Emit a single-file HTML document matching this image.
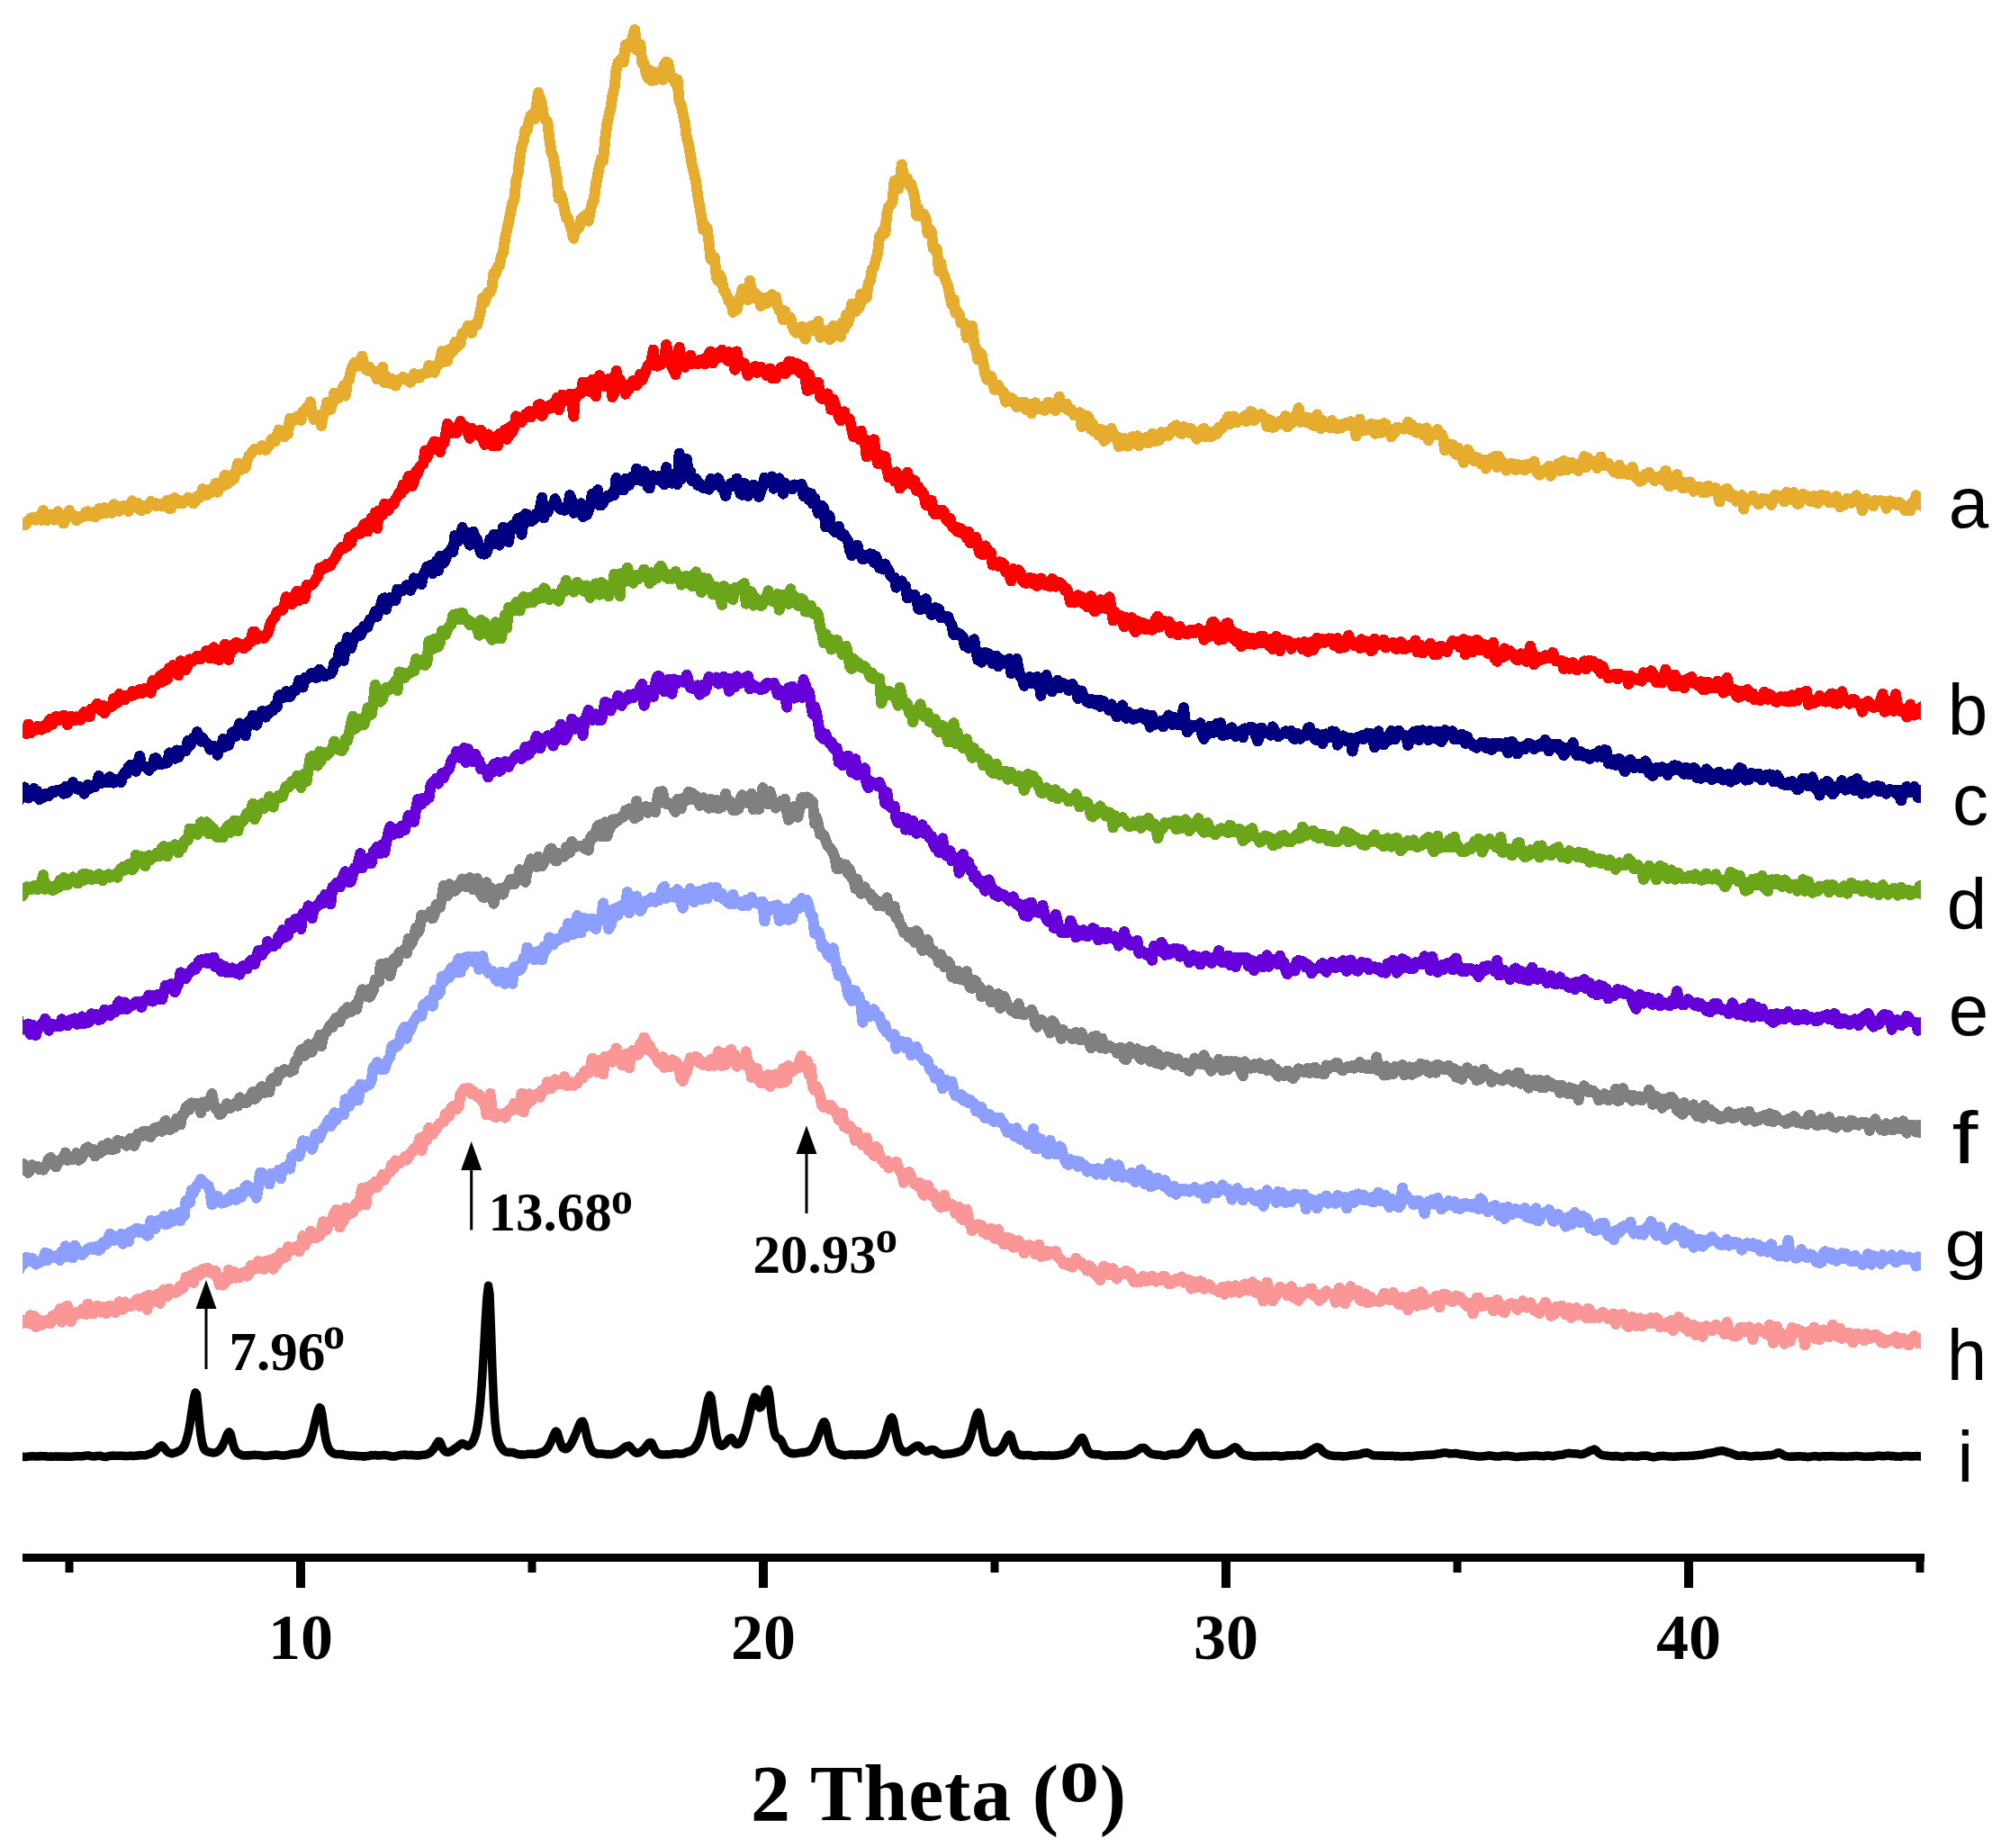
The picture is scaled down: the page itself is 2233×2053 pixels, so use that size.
<!DOCTYPE html>
<html><head><meta charset="utf-8"><title>XRD patterns</title>
<style>html,body{margin:0;padding:0;background:#fff}body{width:2233px;height:2053px;overflow:hidden}svg{display:block}</style>
</head><body>
<svg width="2233" height="2053" viewBox="0 0 2233 2053">
<rect width="2233" height="2053" fill="#fff"/>
<defs><clipPath id="plotclip"><rect x="25" y="0" width="2109" height="1700"/></clipPath></defs>
<g clip-path="url(#plotclip)">
<path d="M13.0,577.8 L15.1,575.7 L17.1,577.6 L19.2,581.1 L21.2,579.8 L23.3,580.5 L25.4,583.1 L27.4,583.4 L29.5,581.8 L31.5,578.0 L33.6,575.9 L35.7,575.2 L37.7,576.6 L39.8,577.8 L41.8,574.5 L43.9,572.9 L46.0,577.8 L48.0,567.0 L50.1,575.0 L52.1,578.2 L54.2,573.3 L56.3,571.5 L58.3,572.4 L60.4,577.6 L62.4,575.6 L64.5,568.4 L66.6,572.1 L68.6,578.2 L70.7,581.5 L72.7,577.3 L74.8,573.7 L76.9,567.0 L78.9,572.8 L81.0,572.8 L83.0,573.2 L85.1,578.5 L87.2,574.5 L89.2,573.5 L91.3,574.6 L93.3,571.4 L95.4,569.0 L97.5,568.2 L99.5,573.4 L101.6,573.4 L103.6,569.3 L105.7,574.3 L107.8,571.7 L109.8,565.2 L111.9,570.9 L113.9,569.4 L116.0,564.2 L118.1,569.8 L120.1,567.8 L122.2,566.7 L124.2,570.0 L126.3,560.3 L128.4,561.2 L130.4,564.8 L132.5,567.7 L134.5,564.5 L136.6,562.3 L138.7,561.6 L140.7,564.8 L142.8,568.1 L144.8,560.7 L146.9,556.4 L149.0,562.3 L151.0,563.1 L153.1,558.6 L155.1,565.8 L157.2,567.4 L159.3,562.2 L161.3,561.7 L163.4,565.0 L165.4,561.7 L167.5,557.1 L169.6,561.0 L171.6,558.6 L173.7,562.2 L175.7,559.8 L177.8,560.0 L179.9,562.6 L181.9,560.4 L184.0,557.7 L186.0,555.5 L188.1,565.0 L190.2,564.5 L192.2,553.9 L194.3,553.1 L196.3,559.1 L198.4,555.6 L200.5,556.5 L202.5,559.5 L204.6,557.0 L206.6,554.9 L208.7,552.8 L210.8,553.4 L212.8,554.8 L214.9,559.5 L216.9,557.3 L219.0,551.3 L221.1,553.6 L223.1,550.7 L225.2,543.1 L227.2,546.1 L229.3,550.5 L231.4,544.3 L233.4,547.9 L235.5,543.3 L237.5,542.4 L239.6,536.7 L241.7,546.9 L243.7,541.9 L245.8,541.3 L247.8,534.5 L249.9,527.7 L252.0,537.8 L254.0,528.7 L256.1,534.7 L258.1,527.8 L260.2,531.7 L262.3,522.2 L264.3,514.5 L266.4,522.6 L268.4,519.2 L270.5,517.2 L272.6,519.9 L274.6,511.3 L276.7,506.4 L278.7,504.9 L280.8,501.2 L282.9,498.5 L284.9,498.9 L287.0,498.9 L289.0,499.5 L291.1,495.1 L293.2,497.2 L295.2,500.0 L297.3,494.9 L299.3,494.9 L301.4,488.1 L303.5,490.2 L305.5,490.3 L307.6,484.0 L309.6,477.5 L311.7,480.6 L313.8,480.8 L315.8,485.3 L317.9,476.9 L319.9,482.1 L322.0,464.8 L324.1,468.1 L326.1,467.2 L328.2,465.3 L330.2,462.5 L332.3,462.1 L334.4,467.1 L336.4,457.0 L338.5,458.0 L340.5,452.7 L342.6,454.0 L344.7,446.4 L346.7,458.4 L348.8,466.2 L350.8,461.3 L352.9,462.3 L355.0,461.2 L357.0,472.8 L359.1,460.7 L361.1,457.4 L363.2,447.1 L365.3,448.3 L367.3,455.0 L369.4,447.7 L371.4,436.6 L373.5,442.5 L375.6,442.6 L377.6,439.6 L379.7,436.3 L381.7,428.4 L383.8,439.6 L385.9,424.2 L387.9,421.9 L390.0,411.3 L392.0,406.0 L394.1,402.5 L396.2,407.3 L398.2,404.6 L400.3,400.7 L402.3,395.6 L404.4,406.7 L406.5,410.8 L408.5,411.6 L410.6,407.9 L412.6,411.3 L414.7,413.8 L416.8,412.9 L418.8,421.2 L420.9,412.0 L422.9,413.5 L425.0,407.9 L427.1,424.9 L429.1,417.6 L431.2,421.7 L433.2,425.9 L435.3,420.7 L437.4,423.2 L439.4,428.5 L441.5,424.1 L443.5,422.0 L445.6,421.3 L447.7,418.9 L449.7,420.3 L451.8,422.5 L453.8,422.6 L455.9,424.8 L458.0,419.7 L460.0,415.2 L462.1,420.0 L464.1,418.1 L466.2,419.7 L468.3,415.7 L470.3,415.5 L472.4,414.1 L474.4,414.5 L476.5,405.8 L478.6,406.9 L480.6,407.8 L482.7,413.9 L484.7,405.7 L486.8,405.0 L488.9,401.0 L490.9,390.0 L493.0,402.1 L495.0,401.0 L497.1,401.5 L499.2,388.0 L501.2,391.4 L503.3,390.6 L505.3,380.1 L507.4,385.9 L509.5,380.5 L511.5,382.3 L513.6,370.5 L515.6,369.4 L517.7,368.3 L519.8,361.7 L521.8,365.5 L523.9,370.1 L525.9,361.6 L528.0,359.9 L530.1,361.0 L532.1,353.5 L534.2,343.9 L536.2,331.0 L538.3,336.4 L540.4,330.7 L542.4,324.4 L544.5,325.1 L546.5,320.0 L548.6,303.1 L550.7,304.0 L552.7,296.6 L554.8,295.3 L556.8,284.8 L558.9,281.1 L561.0,265.5 L563.0,256.4 L565.1,246.2 L567.1,237.1 L569.2,225.6 L571.3,222.1 L573.3,200.6 L575.4,193.2 L577.4,176.3 L579.5,162.5 L581.6,157.2 L583.6,144.3 L585.7,145.0 L587.7,134.2 L589.8,127.7 L591.9,128.7 L593.9,132.4 L596.0,117.1 L598.0,102.9 L600.1,109.5 L602.2,116.7 L604.2,130.7 L606.3,133.5 L608.3,135.5 L610.4,154.8 L612.5,169.2 L614.5,173.6 L616.6,185.9 L618.6,197.3 L620.7,220.7 L622.8,215.7 L624.8,222.1 L626.9,231.3 L628.9,241.7 L631.0,242.0 L633.1,249.5 L635.1,256.0 L637.2,264.7 L639.2,256.3 L641.3,254.4 L643.4,253.1 L645.4,243.9 L647.5,241.0 L649.5,242.3 L651.6,238.3 L653.7,245.6 L655.7,235.5 L657.8,225.6 L659.8,222.9 L661.9,204.9 L664.0,194.8 L666.0,184.1 L668.1,176.2 L670.1,178.7 L672.2,155.4 L674.3,138.1 L676.3,128.4 L678.4,120.4 L680.4,106.5 L682.5,97.8 L684.6,77.4 L686.6,69.6 L688.7,67.7 L690.7,65.1 L692.8,69.0 L694.9,49.9 L696.9,54.5 L699.0,47.9 L701.0,49.1 L703.1,40.1 L705.2,33.1 L707.2,55.1 L709.3,56.5 L711.3,49.3 L713.4,69.9 L715.5,70.2 L717.5,80.8 L719.6,86.5 L721.6,77.9 L723.7,89.6 L725.8,80.1 L727.8,89.0 L729.9,83.1 L731.9,81.0 L734.0,78.8 L736.1,88.6 L738.1,71.6 L740.2,68.8 L742.2,69.7 L744.3,81.9 L746.4,87.1 L748.4,86.4 L750.5,93.0 L752.5,88.5 L754.6,113.0 L756.7,116.1 L758.7,126.8 L760.8,136.2 L762.8,152.6 L764.9,159.8 L767.0,172.3 L769.0,184.3 L771.1,192.2 L773.1,201.8 L775.2,218.0 L777.3,229.5 L779.3,241.3 L781.4,255.2 L783.4,250.8 L785.5,253.6 L787.6,269.4 L789.6,288.0 L791.7,290.0 L793.7,285.8 L795.8,308.1 L797.9,311.9 L799.9,305.6 L802.0,311.9 L804.0,322.5 L806.1,324.7 L808.2,329.8 L810.2,335.6 L812.3,335.0 L814.3,346.8 L816.4,336.9 L818.5,344.2 L820.5,335.5 L822.6,328.9 L824.6,321.0 L826.7,323.6 L828.8,327.9 L830.8,333.0 L832.9,311.5 L834.9,324.4 L837.0,323.6 L839.1,331.6 L841.1,327.6 L843.2,331.0 L845.2,340.1 L847.3,333.6 L849.4,331.0 L851.4,337.3 L853.5,335.9 L855.5,333.7 L857.6,327.3 L859.7,333.6 L861.7,329.8 L863.8,339.5 L865.8,345.1 L867.9,344.7 L870.0,355.5 L872.0,345.4 L874.1,353.2 L876.1,356.2 L878.2,352.7 L880.3,362.2 L882.3,367.2 L884.4,369.8 L886.4,364.5 L888.5,367.8 L890.6,362.8 L892.6,372.5 L894.7,376.6 L896.7,369.2 L898.8,368.1 L900.9,362.0 L902.9,366.2 L905.0,365.5 L907.0,368.1 L909.1,356.9 L911.2,374.8 L913.2,370.5 L915.3,373.3 L917.3,371.4 L919.4,367.0 L921.5,377.1 L923.5,375.4 L925.6,361.9 L927.6,366.4 L929.7,365.5 L931.8,361.8 L933.8,373.9 L935.9,358.1 L937.9,365.6 L940.0,349.8 L942.1,359.2 L944.1,350.5 L946.2,337.5 L948.2,345.6 L950.3,346.5 L952.4,336.7 L954.4,342.0 L956.5,326.5 L958.5,334.0 L960.6,330.0 L962.7,330.5 L964.7,314.5 L966.8,312.2 L968.8,299.0 L970.9,297.6 L973.0,288.2 L975.0,281.9 L977.1,262.7 L979.1,261.6 L981.2,255.3 L983.3,259.0 L985.3,237.2 L987.4,229.0 L989.4,228.0 L991.5,223.3 L993.6,200.8 L995.6,205.1 L997.7,210.1 L999.7,201.3 L1001.8,182.9 L1003.9,196.0 L1005.9,200.8 L1008.0,198.0 L1010.0,206.0 L1012.1,204.2 L1014.2,212.1 L1016.2,219.2 L1018.3,239.6 L1020.3,231.8 L1022.4,240.0 L1024.5,240.7 L1026.5,238.0 L1028.6,242.5 L1030.6,259.3 L1032.7,254.4 L1034.8,257.3 L1036.8,276.2 L1038.9,275.2 L1040.9,276.8 L1043.0,301.2 L1045.1,292.0 L1047.1,302.5 L1049.2,306.6 L1051.2,312.8 L1053.3,318.6 L1055.4,329.4 L1057.4,338.7 L1059.5,332.5 L1061.5,347.5 L1063.6,346.4 L1065.7,349.7 L1067.7,358.7 L1069.8,358.1 L1071.8,359.4 L1073.9,375.2 L1076.0,371.5 L1078.0,365.7 L1080.1,362.2 L1082.1,382.1 L1084.2,387.2 L1086.3,399.6 L1088.3,391.8 L1090.4,393.3 L1092.4,403.9 L1094.5,415.9 L1096.6,421.9 L1098.6,419.4 L1100.7,418.0 L1102.7,423.5 L1104.8,432.9 L1106.9,429.7 L1108.9,427.8 L1111.0,433.3 L1113.0,434.9 L1115.1,436.0 L1117.2,446.6 L1119.2,444.1 L1121.3,442.4 L1123.3,441.8 L1125.4,443.8 L1127.5,449.1 L1129.5,452.2 L1131.6,447.5 L1133.6,447.3 L1135.7,448.9 L1137.8,446.6 L1139.8,455.2 L1141.9,448.6 L1143.9,451.6 L1146.0,459.2 L1148.1,448.6 L1150.1,447.4 L1152.2,450.6 L1154.2,453.9 L1156.3,452.7 L1158.4,451.5 L1160.4,456.3 L1162.5,449.1 L1164.5,446.7 L1166.6,452.3 L1168.7,451.2 L1170.7,454.5 L1172.8,456.1 L1174.8,446.8 L1176.9,440.7 L1179.0,451.8 L1181.0,452.0 L1183.1,453.3 L1185.1,448.9 L1187.2,456.1 L1189.3,454.1 L1191.3,457.8 L1193.4,461.4 L1195.4,459.6 L1197.5,459.5 L1199.6,458.3 L1201.6,474.0 L1203.7,461.1 L1205.7,468.0 L1207.8,461.9 L1209.9,464.6 L1211.9,476.8 L1214.0,470.7 L1216.0,479.7 L1218.1,477.4 L1220.2,483.5 L1222.2,476.8 L1224.3,477.5 L1226.3,489.9 L1228.4,488.3 L1230.5,482.4 L1232.5,484.4 L1234.6,476.0 L1236.6,485.1 L1238.7,483.7 L1240.8,485.0 L1242.8,496.2 L1244.9,490.4 L1246.9,488.7 L1249.0,487.0 L1251.1,495.4 L1253.1,495.6 L1255.2,489.9 L1257.2,485.3 L1259.3,490.5 L1261.4,493.0 L1263.4,484.2 L1265.5,495.0 L1267.5,488.7 L1269.6,490.6 L1271.7,487.2 L1273.7,485.9 L1275.8,492.4 L1277.8,489.7 L1279.9,481.6 L1282.0,487.3 L1284.0,490.3 L1286.1,485.6 L1288.1,488.8 L1290.2,480.2 L1292.3,484.9 L1294.3,482.1 L1296.4,479.9 L1298.4,483.7 L1300.5,480.8 L1302.6,475.0 L1304.6,477.0 L1306.7,472.4 L1308.7,476.5 L1310.8,481.2 L1312.9,481.9 L1314.9,474.1 L1317.0,474.9 L1319.0,479.8 L1321.1,481.0 L1323.2,476.1 L1325.2,479.7 L1327.3,482.0 L1329.3,487.7 L1331.4,483.8 L1333.5,481.9 L1335.5,477.8 L1337.6,475.9 L1339.6,485.5 L1341.7,483.8 L1343.8,480.3 L1345.8,485.0 L1347.9,483.0 L1349.9,478.7 L1352.0,481.9 L1354.1,474.6 L1356.1,476.8 L1358.2,474.8 L1360.2,469.6 L1362.3,467.7 L1364.4,463.0 L1366.4,471.2 L1368.5,467.8 L1370.5,462.5 L1372.6,468.8 L1374.7,469.0 L1376.7,466.3 L1378.8,466.4 L1380.8,463.8 L1382.9,462.1 L1385.0,468.1 L1387.0,460.7 L1389.1,457.2 L1391.1,457.7 L1393.2,467.4 L1395.3,461.1 L1397.3,462.8 L1399.4,461.7 L1401.4,460.1 L1403.5,463.6 L1405.6,464.7 L1407.6,473.9 L1409.7,466.0 L1411.7,466.7 L1413.8,475.0 L1415.9,474.2 L1417.9,470.4 L1420.0,471.1 L1422.0,467.6 L1424.1,470.6 L1426.2,469.2 L1428.2,462.1 L1430.3,474.4 L1432.3,469.4 L1434.4,470.5 L1436.5,466.6 L1438.5,462.8 L1440.6,460.0 L1442.6,453.1 L1444.7,468.8 L1446.8,462.4 L1448.8,465.8 L1450.9,469.4 L1452.9,463.8 L1455.0,466.8 L1457.1,471.8 L1459.1,470.2 L1461.2,473.4 L1463.2,460.5 L1465.3,471.8 L1467.4,476.1 L1469.4,467.1 L1471.5,474.4 L1473.5,471.5 L1475.6,471.3 L1477.7,475.1 L1479.7,467.2 L1481.8,475.5 L1483.8,471.1 L1485.9,476.4 L1488.0,474.2 L1490.0,475.2 L1492.1,470.9 L1494.1,473.5 L1496.2,469.5 L1498.3,470.7 L1500.3,468.2 L1502.4,473.4 L1504.4,470.9 L1506.5,484.4 L1508.6,473.8 L1510.6,465.6 L1512.7,478.6 L1514.7,475.4 L1516.8,477.9 L1518.9,476.9 L1520.9,473.1 L1523.0,471.1 L1525.0,471.4 L1527.1,481.7 L1529.2,480.8 L1531.2,471.7 L1533.3,481.4 L1535.3,480.1 L1537.4,470.3 L1539.5,471.7 L1541.5,477.5 L1543.6,478.0 L1545.6,485.4 L1547.7,478.1 L1549.8,480.3 L1551.8,474.9 L1553.9,475.1 L1555.9,475.9 L1558.0,475.6 L1560.1,476.6 L1562.1,476.3 L1564.2,468.8 L1566.2,477.2 L1568.3,471.5 L1570.4,478.5 L1572.4,479.9 L1574.5,480.6 L1576.5,476.0 L1578.6,479.5 L1580.7,483.1 L1582.7,479.3 L1584.8,475.4 L1586.8,489.3 L1588.9,485.2 L1591.0,483.6 L1593.0,482.5 L1595.1,482.2 L1597.1,477.0 L1599.2,483.5 L1601.3,482.4 L1603.3,487.6 L1605.4,500.5 L1607.4,495.3 L1609.5,493.3 L1611.6,496.0 L1613.6,493.8 L1615.7,502.6 L1617.7,505.0 L1619.8,497.6 L1621.9,504.0 L1623.9,505.4 L1626.0,513.9 L1628.0,510.6 L1630.1,499.3 L1632.2,501.8 L1634.2,508.4 L1636.3,509.2 L1638.3,512.5 L1640.4,508.1 L1642.5,509.2 L1644.5,515.1 L1646.6,513.3 L1648.6,510.6 L1650.7,520.6 L1652.8,513.2 L1654.8,513.1 L1656.9,509.3 L1658.9,513.6 L1661.0,507.0 L1663.1,519.0 L1665.1,507.1 L1667.2,516.7 L1669.2,512.8 L1671.3,516.6 L1673.4,522.6 L1675.4,517.8 L1677.5,518.8 L1679.5,514.9 L1681.6,515.5 L1683.7,522.2 L1685.7,515.9 L1687.8,521.0 L1689.8,519.9 L1691.9,517.2 L1694.0,522.5 L1696.0,516.3 L1698.1,520.2 L1700.1,515.0 L1702.2,518.4 L1704.3,512.5 L1706.3,521.4 L1708.4,526.0 L1710.4,527.5 L1712.5,525.5 L1714.6,524.2 L1716.6,521.1 L1718.7,520.4 L1720.7,517.7 L1722.8,528.7 L1724.9,522.0 L1726.9,519.2 L1729.0,519.6 L1731.0,515.2 L1733.1,523.5 L1735.2,516.5 L1737.2,512.0 L1739.3,522.1 L1741.3,521.7 L1743.4,518.8 L1745.5,513.6 L1747.5,520.4 L1749.6,516.3 L1751.6,516.3 L1753.7,523.1 L1755.8,517.3 L1757.8,514.2 L1759.9,507.2 L1761.9,519.3 L1764.0,508.8 L1766.1,512.2 L1768.1,513.2 L1770.2,512.9 L1772.2,516.1 L1774.3,520.0 L1776.4,517.9 L1778.4,507.6 L1780.5,516.9 L1782.5,514.8 L1784.6,517.2 L1786.7,514.6 L1788.7,518.8 L1790.8,519.4 L1792.8,523.9 L1794.9,523.7 L1797.0,525.8 L1799.0,516.9 L1801.1,526.5 L1803.1,521.7 L1805.2,524.2 L1807.3,526.3 L1809.3,527.2 L1811.4,524.1 L1813.4,518.7 L1815.5,526.9 L1817.6,530.9 L1819.6,531.4 L1821.7,534.7 L1823.7,533.9 L1825.8,532.0 L1827.9,526.7 L1829.9,530.5 L1832.0,524.7 L1834.0,527.7 L1836.1,529.7 L1838.2,534.2 L1840.2,529.6 L1842.3,529.6 L1844.3,529.0 L1846.4,533.2 L1848.5,526.0 L1850.5,522.7 L1852.6,538.2 L1854.6,540.4 L1856.7,538.6 L1858.8,537.8 L1860.8,534.6 L1862.9,527.1 L1864.9,538.6 L1867.0,534.9 L1869.1,542.3 L1871.1,542.0 L1873.2,535.8 L1875.2,541.4 L1877.3,535.5 L1879.4,538.3 L1881.4,545.9 L1883.5,541.2 L1885.5,541.8 L1887.6,541.0 L1889.7,541.4 L1891.7,547.5 L1893.8,547.0 L1895.8,547.0 L1897.9,539.5 L1900.0,543.0 L1902.0,542.4 L1904.1,545.6 L1906.1,542.2 L1908.2,549.1 L1910.3,557.5 L1912.3,549.6 L1914.4,545.3 L1916.4,550.3 L1918.5,542.8 L1920.6,545.6 L1922.6,552.4 L1924.7,549.5 L1926.7,550.5 L1928.8,556.7 L1930.9,554.2 L1932.9,555.2 L1935.0,550.3 L1937.0,565.6 L1939.1,554.8 L1941.2,556.3 L1943.2,555.8 L1945.3,555.1 L1947.3,550.6 L1949.4,553.3 L1951.5,555.4 L1953.5,560.4 L1955.6,556.8 L1957.6,553.6 L1959.7,555.4 L1961.8,555.7 L1963.8,554.5 L1965.9,555.6 L1967.9,560.8 L1970.0,555.7 L1972.1,549.6 L1974.1,551.2 L1976.2,552.6 L1978.2,551.0 L1980.3,553.9 L1982.4,557.4 L1984.4,547.1 L1986.5,547.9 L1988.5,550.9 L1990.6,555.4 L1992.7,547.2 L1994.7,555.7 L1996.8,559.8 L1998.8,559.0 L2000.9,555.2 L2003.0,548.8 L2005.0,550.6 L2007.1,550.7 L2009.1,553.5 L2011.2,557.1 L2013.3,556.6 L2015.3,551.0 L2017.4,556.8 L2019.4,559.1 L2021.5,551.5 L2023.6,549.9 L2025.6,551.8 L2027.7,555.3 L2029.7,551.1 L2031.8,558.2 L2033.9,556.3 L2035.9,558.0 L2038.0,553.5 L2040.0,551.4 L2042.1,556.1 L2044.2,563.4 L2046.2,560.1 L2048.3,561.4 L2050.3,555.4 L2052.4,553.6 L2054.5,555.8 L2056.5,558.7 L2058.6,557.3 L2060.6,552.5 L2062.7,550.3 L2064.8,557.0 L2066.8,557.0 L2068.9,567.5 L2070.9,557.8 L2073.0,554.0 L2075.1,560.1 L2077.1,557.8 L2079.2,558.5 L2081.2,562.5 L2083.3,556.0 L2085.4,556.6 L2087.4,556.5 L2089.5,556.4 L2091.5,556.6 L2093.6,558.2 L2095.7,564.7 L2097.7,560.5 L2099.8,556.4 L2101.8,559.1 L2103.9,558.0 L2106.0,560.6 L2108.0,560.8 L2110.1,558.2 L2112.1,559.6 L2114.2,563.4 L2116.3,566.9 L2118.3,562.5 L2120.4,566.9 L2122.4,567.0 L2124.5,558.2 L2126.6,559.5 L2128.6,550.3 L2130.7,552.2 L2132.7,561.0 L2134.8,559.5 L2136.9,562.6 L2138.9,561.9 L2141.0,564.3 L2143.0,561.9 L2145.1,564.9" fill="none" stroke="#E6AC2E" stroke-width="12" stroke-linejoin="round" stroke-linecap="butt" shape-rendering="crispEdges"/>
<path d="M13.0,814.1 L15.1,819.2 L17.1,819.2 L19.2,812.5 L21.2,811.5 L23.3,809.1 L25.4,813.6 L27.4,811.7 L29.5,815.3 L31.5,804.6 L33.6,814.4 L35.7,811.1 L37.7,811.6 L39.8,808.8 L41.8,806.9 L43.9,809.2 L46.0,810.7 L48.0,806.8 L50.1,805.7 L52.1,808.2 L54.2,801.2 L56.3,798.7 L58.3,804.6 L60.4,800.4 L62.4,795.8 L64.5,798.3 L66.6,799.8 L68.6,796.9 L70.7,794.7 L72.7,799.4 L74.8,805.1 L76.9,799.1 L78.9,795.8 L81.0,799.0 L83.0,800.4 L85.1,796.4 L87.2,798.1 L89.2,799.9 L91.3,795.0 L93.3,791.2 L95.4,794.3 L97.5,794.1 L99.5,796.4 L101.6,787.5 L103.6,787.2 L105.7,786.1 L107.8,781.8 L109.8,787.1 L111.9,789.1 L113.9,783.7 L116.0,792.4 L118.1,788.3 L120.1,786.1 L122.2,784.1 L124.2,785.0 L126.3,775.8 L128.4,780.4 L130.4,780.9 L132.5,771.0 L134.5,776.2 L136.6,774.7 L138.7,777.3 L140.7,772.6 L142.8,772.4 L144.8,773.3 L146.9,768.1 L149.0,771.9 L151.0,769.5 L153.1,770.4 L155.1,766.1 L157.2,770.5 L159.3,769.1 L161.3,764.7 L163.4,766.2 L165.4,768.2 L167.5,769.8 L169.6,755.9 L171.6,761.5 L173.7,760.5 L175.7,756.5 L177.8,751.0 L179.9,757.7 L181.9,748.1 L184.0,751.7 L186.0,754.6 L188.1,742.2 L190.2,743.4 L192.2,739.1 L194.3,743.1 L196.3,748.3 L198.4,750.3 L200.5,734.3 L202.5,734.9 L204.6,740.2 L206.6,743.9 L208.7,739.1 L210.8,732.4 L212.8,734.9 L214.9,733.7 L216.9,731.8 L219.0,728.7 L221.1,732.1 L223.1,732.0 L225.2,729.6 L227.2,727.4 L229.3,722.8 L231.4,724.4 L233.4,731.4 L235.5,726.5 L237.5,719.4 L239.6,731.8 L241.7,727.8 L243.7,733.1 L245.8,725.4 L247.8,720.9 L249.9,715.8 L252.0,725.9 L254.0,733.0 L256.1,719.4 L258.1,716.5 L260.2,721.3 L262.3,714.0 L264.3,716.1 L266.4,715.5 L268.4,716.9 L270.5,720.4 L272.6,715.8 L274.6,717.7 L276.7,711.9 L278.7,712.9 L280.8,702.0 L282.9,701.6 L284.9,710.5 L287.0,705.4 L289.0,707.8 L291.1,707.2 L293.2,709.0 L295.2,705.8 L297.3,704.1 L299.3,697.0 L301.4,690.8 L303.5,687.3 L305.5,685.4 L307.6,679.8 L309.6,678.8 L311.7,678.5 L313.8,677.8 L315.8,673.0 L317.9,663.1 L319.9,667.8 L322.0,668.9 L324.1,671.1 L326.1,667.8 L328.2,659.9 L330.2,656.6 L332.3,667.2 L334.4,662.4 L336.4,664.3 L338.5,665.0 L340.5,650.0 L342.6,650.9 L344.7,650.5 L346.7,649.2 L348.8,647.3 L350.8,643.6 L352.9,641.1 L355.0,631.0 L357.0,633.4 L359.1,629.7 L361.1,630.9 L363.2,626.6 L365.3,628.8 L367.3,628.5 L369.4,623.9 L371.4,621.1 L373.5,617.8 L375.6,612.7 L377.6,611.3 L379.7,607.8 L381.7,609.6 L383.8,606.7 L385.9,607.1 L387.9,596.5 L390.0,603.5 L392.0,595.9 L394.1,592.6 L396.2,593.5 L398.2,590.6 L400.3,592.7 L402.3,587.6 L404.4,582.5 L406.5,581.3 L408.5,590.5 L410.6,584.6 L412.6,575.4 L414.7,578.0 L416.8,569.4 L418.8,586.9 L420.9,567.3 L422.9,571.7 L425.0,572.0 L427.1,559.7 L429.1,564.2 L431.2,567.3 L433.2,563.0 L435.3,559.0 L437.4,559.9 L439.4,554.2 L441.5,551.9 L443.5,547.3 L445.6,548.3 L447.7,538.5 L449.7,543.4 L451.8,536.1 L453.8,529.2 L455.9,533.7 L458.0,539.8 L460.0,534.9 L462.1,523.8 L464.1,526.0 L466.2,518.7 L468.3,516.6 L470.3,515.5 L472.4,500.4 L474.4,508.6 L476.5,502.3 L478.6,500.3 L480.6,494.0 L482.7,490.5 L484.7,491.0 L486.8,498.6 L488.9,502.3 L490.9,491.1 L493.0,492.5 L495.0,483.8 L497.1,470.8 L499.2,478.4 L501.2,481.2 L503.3,476.1 L505.3,478.8 L507.4,480.9 L509.5,473.0 L511.5,467.7 L513.6,473.7 L515.6,475.0 L517.7,474.1 L519.8,481.2 L521.8,486.8 L523.9,475.7 L525.9,479.4 L528.0,482.1 L530.1,481.6 L532.1,484.1 L534.2,477.8 L536.2,486.1 L538.3,493.8 L540.4,490.2 L542.4,482.5 L544.5,488.9 L546.5,494.9 L548.6,491.3 L550.7,485.3 L552.7,495.5 L554.8,482.0 L556.8,487.5 L558.9,485.7 L561.0,477.4 L563.0,488.0 L565.1,484.6 L567.1,473.9 L569.2,480.2 L571.3,474.3 L573.3,462.4 L575.4,464.6 L577.4,468.4 L579.5,468.9 L581.6,465.1 L583.6,460.8 L585.7,461.4 L587.7,457.1 L589.8,463.3 L591.9,458.6 L593.9,457.6 L596.0,458.7 L598.0,449.6 L600.1,449.3 L602.2,462.0 L604.2,457.5 L606.3,452.3 L608.3,454.7 L610.4,450.4 L612.5,453.3 L614.5,448.3 L616.6,451.9 L618.6,441.9 L620.7,455.3 L622.8,447.6 L624.8,438.5 L626.9,443.9 L628.9,443.7 L631.0,445.5 L633.1,437.6 L635.1,443.7 L637.2,462.7 L639.2,437.4 L641.3,439.5 L643.4,436.3 L645.4,437.0 L647.5,424.7 L649.5,424.6 L651.6,432.7 L653.7,429.4 L655.7,435.5 L657.8,421.9 L659.8,423.2 L661.9,440.1 L664.0,422.3 L666.0,417.2 L668.1,422.3 L670.1,423.6 L672.2,429.1 L674.3,426.4 L676.3,420.8 L678.4,425.6 L680.4,441.2 L682.5,436.6 L684.6,411.9 L686.6,422.4 L688.7,421.6 L690.7,429.5 L692.8,426.8 L694.9,437.8 L696.9,434.1 L699.0,431.8 L701.0,426.6 L703.1,423.2 L705.2,423.7 L707.2,428.2 L709.3,423.3 L711.3,415.7 L713.4,422.5 L715.5,416.7 L717.5,412.4 L719.6,406.4 L721.6,405.2 L723.7,400.5 L725.8,388.5 L727.8,406.3 L729.9,406.6 L731.9,399.8 L734.0,404.9 L736.1,401.8 L738.1,399.9 L740.2,382.9 L742.2,392.7 L744.3,400.3 L746.4,408.0 L748.4,411.2 L750.5,416.1 L752.5,394.6 L754.6,386.0 L756.7,401.7 L758.7,402.5 L760.8,407.9 L762.8,403.1 L764.9,404.0 L767.0,394.5 L769.0,404.1 L771.1,400.4 L773.1,403.4 L775.2,404.3 L777.3,400.2 L779.3,401.0 L781.4,398.8 L783.4,404.4 L785.5,400.2 L787.6,392.7 L789.6,390.4 L791.7,403.4 L793.7,394.9 L795.8,398.8 L797.9,396.6 L799.9,390.5 L802.0,388.8 L804.0,394.4 L806.1,397.3 L808.2,400.7 L810.2,391.2 L812.3,394.0 L814.3,399.0 L816.4,410.7 L818.5,390.5 L820.5,402.9 L822.6,401.4 L824.6,406.8 L826.7,403.5 L828.8,408.3 L830.8,417.2 L832.9,412.5 L834.9,412.4 L837.0,412.9 L839.1,407.0 L841.1,413.8 L843.2,411.6 L845.2,407.6 L847.3,411.6 L849.4,411.6 L851.4,417.1 L853.5,413.5 L855.5,409.5 L857.6,420.3 L859.7,419.7 L861.7,420.4 L863.8,416.6 L865.8,411.2 L867.9,408.2 L870.0,408.4 L872.0,415.5 L874.1,413.0 L876.1,401.5 L878.2,408.0 L880.3,402.1 L882.3,410.3 L884.4,405.1 L886.4,404.2 L888.5,413.4 L890.6,415.4 L892.6,407.5 L894.7,421.1 L896.7,433.9 L898.8,416.1 L900.9,432.4 L902.9,423.9 L905.0,424.3 L907.0,428.9 L909.1,424.7 L911.2,441.7 L913.2,443.2 L915.3,437.8 L917.3,441.6 L919.4,437.4 L921.5,444.7 L923.5,455.2 L925.6,443.5 L927.6,449.2 L929.7,455.6 L931.8,462.9 L933.8,467.3 L935.9,459.2 L937.9,457.3 L940.0,465.5 L942.1,464.5 L944.1,466.2 L946.2,476.9 L948.2,485.1 L950.3,481.4 L952.4,480.8 L954.4,488.0 L956.5,478.7 L958.5,487.6 L960.6,487.9 L962.7,507.4 L964.7,504.1 L966.8,500.7 L968.8,499.7 L970.9,488.3 L973.0,504.6 L975.0,514.8 L977.1,505.0 L979.1,511.9 L981.2,516.2 L983.3,507.3 L985.3,521.7 L987.4,530.5 L989.4,528.5 L991.5,528.5 L993.6,534.5 L995.6,524.4 L997.7,531.4 L999.7,542.5 L1001.8,528.8 L1003.9,538.6 L1005.9,534.3 L1008.0,524.7 L1010.0,533.8 L1012.1,532.2 L1014.2,539.0 L1016.2,533.7 L1018.3,545.2 L1020.3,540.5 L1022.4,546.9 L1024.5,546.3 L1026.5,549.8 L1028.6,561.1 L1030.6,560.6 L1032.7,558.9 L1034.8,556.0 L1036.8,569.2 L1038.9,571.5 L1040.9,567.4 L1043.0,570.8 L1045.1,566.6 L1047.1,566.9 L1049.2,569.4 L1051.2,577.0 L1053.3,579.5 L1055.4,575.7 L1057.4,583.5 L1059.5,586.8 L1061.5,585.3 L1063.6,590.6 L1065.7,586.5 L1067.7,587.8 L1069.8,592.6 L1071.8,592.5 L1073.9,597.9 L1076.0,590.6 L1078.0,603.5 L1080.1,597.4 L1082.1,600.0 L1084.2,596.7 L1086.3,607.0 L1088.3,614.2 L1090.4,615.8 L1092.4,616.3 L1094.5,606.4 L1096.6,609.6 L1098.6,613.8 L1100.7,613.7 L1102.7,627.6 L1104.8,624.5 L1106.9,624.6 L1108.9,628.8 L1111.0,624.4 L1113.0,625.0 L1115.1,626.9 L1117.2,634.9 L1119.2,636.7 L1121.3,638.6 L1123.3,645.5 L1125.4,632.0 L1127.5,634.1 L1129.5,638.9 L1131.6,633.2 L1133.6,636.2 L1135.7,644.8 L1137.8,647.2 L1139.8,647.7 L1141.9,643.3 L1143.9,641.6 L1146.0,647.9 L1148.1,642.8 L1150.1,645.2 L1152.2,651.0 L1154.2,644.6 L1156.3,642.4 L1158.4,645.5 L1160.4,649.5 L1162.5,650.2 L1164.5,649.3 L1166.6,651.6 L1168.7,642.9 L1170.7,645.1 L1172.8,651.6 L1174.8,648.7 L1176.9,646.9 L1179.0,648.4 L1181.0,651.1 L1183.1,656.1 L1185.1,654.2 L1187.2,660.4 L1189.3,669.5 L1191.3,663.7 L1193.4,669.5 L1195.4,667.5 L1197.5,661.2 L1199.6,664.6 L1201.6,662.9 L1203.7,670.9 L1205.7,664.5 L1207.8,674.4 L1209.9,674.0 L1211.9,662.2 L1214.0,672.9 L1216.0,679.5 L1218.1,669.0 L1220.2,676.5 L1222.2,666.3 L1224.3,673.4 L1226.3,667.4 L1228.4,675.9 L1230.5,668.5 L1232.5,663.4 L1234.6,677.0 L1236.6,689.5 L1238.7,679.9 L1240.8,685.2 L1242.8,685.0 L1244.9,684.1 L1246.9,689.5 L1249.0,696.4 L1251.1,686.1 L1253.1,692.3 L1255.2,693.7 L1257.2,686.1 L1259.3,697.9 L1261.4,702.2 L1263.4,690.0 L1265.5,699.1 L1267.5,694.3 L1269.6,691.8 L1271.7,698.9 L1273.7,694.9 L1275.8,694.2 L1277.8,699.5 L1279.9,699.7 L1282.0,697.8 L1284.0,687.6 L1286.1,684.8 L1288.1,696.6 L1290.2,690.4 L1292.3,693.7 L1294.3,690.1 L1296.4,693.6 L1298.4,690.5 L1300.5,703.0 L1302.6,695.1 L1304.6,697.4 L1306.7,698.8 L1308.7,705.4 L1310.8,696.1 L1312.9,700.1 L1314.9,701.0 L1317.0,704.1 L1319.0,704.5 L1321.1,700.3 L1323.2,702.8 L1325.2,699.5 L1327.3,703.2 L1329.3,701.4 L1331.4,698.3 L1333.5,700.3 L1335.5,702.4 L1337.6,710.7 L1339.6,700.4 L1341.7,701.2 L1343.8,706.8 L1345.8,692.5 L1347.9,690.6 L1349.9,693.3 L1352.0,698.5 L1354.1,710.8 L1356.1,704.8 L1358.2,710.5 L1360.2,702.6 L1362.3,692.6 L1364.4,692.2 L1366.4,707.6 L1368.5,708.1 L1370.5,702.1 L1372.6,712.1 L1374.7,703.9 L1376.7,713.7 L1378.8,718.2 L1380.8,709.6 L1382.9,706.6 L1385.0,714.9 L1387.0,708.7 L1389.1,715.5 L1391.1,708.8 L1393.2,715.7 L1395.3,714.7 L1397.3,712.1 L1399.4,707.4 L1401.4,714.4 L1403.5,706.6 L1405.6,711.7 L1407.6,712.8 L1409.7,717.3 L1411.7,710.2 L1413.8,721.1 L1415.9,715.2 L1417.9,706.9 L1420.0,719.8 L1422.0,723.2 L1424.1,715.6 L1426.2,710.9 L1428.2,714.1 L1430.3,711.8 L1432.3,712.7 L1434.4,720.9 L1436.5,717.5 L1438.5,715.3 L1440.6,715.9 L1442.6,714.2 L1444.7,717.6 L1446.8,721.1 L1448.8,713.1 L1450.9,713.9 L1452.9,723.9 L1455.0,717.5 L1457.1,713.0 L1459.1,721.8 L1461.2,716.2 L1463.2,708.5 L1465.3,714.9 L1467.4,709.8 L1469.4,710.0 L1471.5,713.8 L1473.5,712.5 L1475.6,709.3 L1477.7,709.6 L1479.7,709.5 L1481.8,716.8 L1483.8,710.3 L1485.9,709.2 L1488.0,720.3 L1490.0,711.6 L1492.1,717.9 L1494.1,718.9 L1496.2,712.5 L1498.3,705.9 L1500.3,712.7 L1502.4,715.3 L1504.4,716.9 L1506.5,713.6 L1508.6,717.9 L1510.6,720.0 L1512.7,710.3 L1514.7,719.0 L1516.8,716.3 L1518.9,712.6 L1520.9,713.4 L1523.0,723.3 L1525.0,721.8 L1527.1,709.7 L1529.2,715.4 L1531.2,716.4 L1533.3,716.2 L1535.3,714.8 L1537.4,710.6 L1539.5,719.6 L1541.5,714.2 L1543.6,715.0 L1545.6,714.6 L1547.7,713.9 L1549.8,720.0 L1551.8,721.2 L1553.9,715.2 L1555.9,713.2 L1558.0,715.0 L1560.1,721.5 L1562.1,719.3 L1564.2,719.2 L1566.2,717.1 L1568.3,717.1 L1570.4,719.4 L1572.4,711.5 L1574.5,724.5 L1576.5,717.8 L1578.6,717.0 L1580.7,725.5 L1582.7,722.8 L1584.8,721.4 L1586.8,718.9 L1588.9,714.6 L1591.0,721.2 L1593.0,727.1 L1595.1,719.3 L1597.1,726.9 L1599.2,718.4 L1601.3,717.8 L1603.3,723.2 L1605.4,722.0 L1607.4,724.2 L1609.5,718.6 L1611.6,715.9 L1613.6,711.9 L1615.7,713.6 L1617.7,714.5 L1619.8,712.8 L1621.9,719.5 L1623.9,716.7 L1626.0,710.0 L1628.0,727.4 L1630.1,717.2 L1632.2,712.3 L1634.2,722.3 L1636.3,724.1 L1638.3,714.2 L1640.4,710.8 L1642.5,712.6 L1644.5,722.3 L1646.6,718.6 L1648.6,715.8 L1650.7,719.3 L1652.8,725.9 L1654.8,717.0 L1656.9,719.8 L1658.9,713.8 L1661.0,732.3 L1663.1,734.8 L1665.1,731.8 L1667.2,727.4 L1669.2,730.5 L1671.3,720.4 L1673.4,728.4 L1675.4,724.3 L1677.5,723.2 L1679.5,725.9 L1681.6,727.9 L1683.7,732.1 L1685.7,733.4 L1687.8,731.7 L1689.8,726.3 L1691.9,732.0 L1694.0,730.1 L1696.0,734.8 L1698.1,727.2 L1700.1,717.8 L1702.2,725.6 L1704.3,738.4 L1706.3,733.8 L1708.4,729.6 L1710.4,733.5 L1712.5,732.8 L1714.6,732.3 L1716.6,728.3 L1718.7,729.9 L1720.7,730.9 L1722.8,727.5 L1724.9,724.9 L1726.9,729.8 L1729.0,734.5 L1731.0,734.2 L1733.1,733.7 L1735.2,734.1 L1737.2,743.1 L1739.3,736.0 L1741.3,737.8 L1743.4,742.8 L1745.5,736.5 L1747.5,736.4 L1749.6,740.4 L1751.6,744.4 L1753.7,740.0 L1755.8,739.7 L1757.8,739.3 L1759.9,734.4 L1761.9,743.2 L1764.0,740.2 L1766.1,733.6 L1768.1,739.3 L1770.2,734.8 L1772.2,737.0 L1774.3,742.4 L1776.4,737.9 L1778.4,748.0 L1780.5,740.1 L1782.5,745.5 L1784.6,748.8 L1786.7,753.3 L1788.7,752.5 L1790.8,749.8 L1792.8,749.2 L1794.9,749.0 L1797.0,754.2 L1799.0,748.5 L1801.1,752.1 L1803.1,751.0 L1805.2,752.2 L1807.3,750.7 L1809.3,760.1 L1811.4,751.1 L1813.4,752.5 L1815.5,753.4 L1817.6,754.8 L1819.6,754.6 L1821.7,755.6 L1823.7,756.6 L1825.8,747.2 L1827.9,751.2 L1829.9,747.6 L1832.0,752.4 L1834.0,745.3 L1836.1,747.7 L1838.2,751.5 L1840.2,758.1 L1842.3,756.0 L1844.3,754.3 L1846.4,758.5 L1848.5,750.1 L1850.5,743.6 L1852.6,749.3 L1854.6,751.3 L1856.7,757.5 L1858.8,762.4 L1860.8,749.5 L1862.9,761.8 L1864.9,761.5 L1867.0,758.1 L1869.1,756.1 L1871.1,764.3 L1873.2,757.4 L1875.2,753.9 L1877.3,756.6 L1879.4,752.0 L1881.4,758.8 L1883.5,758.8 L1885.5,760.9 L1887.6,762.1 L1889.7,757.3 L1891.7,766.1 L1893.8,757.9 L1895.8,765.7 L1897.9,758.0 L1900.0,764.1 L1902.0,761.6 L1904.1,764.4 L1906.1,762.9 L1908.2,756.8 L1910.3,760.2 L1912.3,766.1 L1914.4,769.6 L1916.4,762.4 L1918.5,753.0 L1920.6,763.3 L1922.6,767.2 L1924.7,766.5 L1926.7,765.9 L1928.8,772.5 L1930.9,774.6 L1932.9,774.1 L1935.0,767.8 L1937.0,770.6 L1939.1,770.7 L1941.2,765.9 L1943.2,774.0 L1945.3,773.1 L1947.3,770.4 L1949.4,777.4 L1951.5,776.6 L1953.5,776.6 L1955.6,778.1 L1957.6,776.7 L1959.7,768.8 L1961.8,770.7 L1963.8,776.8 L1965.9,771.3 L1967.9,773.0 L1970.0,775.2 L1972.1,779.5 L1974.1,779.9 L1976.2,778.4 L1978.2,774.0 L1980.3,777.5 L1982.4,778.7 L1984.4,774.1 L1986.5,779.5 L1988.5,777.5 L1990.6,772.2 L1992.7,779.0 L1994.7,775.0 L1996.8,778.4 L1998.8,769.9 L2000.9,774.2 L2003.0,769.9 L2005.0,768.7 L2007.1,767.9 L2009.1,782.8 L2011.2,777.5 L2013.3,777.4 L2015.3,781.2 L2017.4,777.4 L2019.4,779.1 L2021.5,772.7 L2023.6,777.3 L2025.6,776.5 L2027.7,779.7 L2029.7,779.4 L2031.8,773.4 L2033.9,770.7 L2035.9,770.5 L2038.0,781.2 L2040.0,781.6 L2042.1,781.5 L2044.2,772.5 L2046.2,768.3 L2048.3,775.8 L2050.3,778.7 L2052.4,778.1 L2054.5,781.7 L2056.5,780.7 L2058.6,776.6 L2060.6,777.2 L2062.7,781.5 L2064.8,782.2 L2066.8,781.8 L2068.9,790.7 L2070.9,783.2 L2073.0,782.9 L2075.1,779.2 L2077.1,780.9 L2079.2,784.9 L2081.2,786.0 L2083.3,783.5 L2085.4,785.2 L2087.4,784.6 L2089.5,777.3 L2091.5,770.8 L2093.6,790.8 L2095.7,789.9 L2097.7,785.6 L2099.8,778.9 L2101.8,779.6 L2103.9,790.0 L2106.0,771.2 L2108.0,783.0 L2110.1,789.7 L2112.1,788.2 L2114.2,790.2 L2116.3,787.6 L2118.3,796.6 L2120.4,786.1 L2122.4,782.5 L2124.5,788.6 L2126.6,794.5 L2128.6,790.1 L2130.7,793.4 L2132.7,788.7 L2134.8,785.3 L2136.9,794.6 L2138.9,797.5 L2141.0,797.8 L2143.0,790.8 L2145.1,786.9" fill="none" stroke="#FF0000" stroke-width="12" stroke-linejoin="round" stroke-linecap="butt" shape-rendering="crispEdges"/>
<path d="M13.0,883.1 L15.1,887.5 L17.1,887.1 L19.2,886.6 L21.2,889.8 L23.3,879.9 L25.4,879.8 L27.4,874.5 L29.5,881.5 L31.5,886.5 L33.6,883.5 L35.7,884.5 L37.7,876.0 L39.8,881.6 L41.8,879.2 L43.9,888.1 L46.0,886.7 L48.0,886.1 L50.1,882.2 L52.1,883.7 L54.2,884.2 L56.3,880.4 L58.3,878.8 L60.4,879.9 L62.4,878.2 L64.5,877.6 L66.6,878.5 L68.6,876.9 L70.7,881.8 L72.7,873.9 L74.8,880.7 L76.9,876.9 L78.9,875.6 L81.0,869.0 L83.0,875.7 L85.1,875.8 L87.2,876.9 L89.2,874.0 L91.3,875.3 L93.3,881.7 L95.4,877.2 L97.5,871.9 L99.5,876.2 L101.6,872.8 L103.6,874.0 L105.7,873.9 L107.8,869.4 L109.8,862.0 L111.9,865.9 L113.9,869.7 L116.0,866.0 L118.1,867.4 L120.1,869.2 L122.2,863.0 L124.2,867.6 L126.3,869.7 L128.4,867.1 L130.4,866.2 L132.5,865.3 L134.5,869.0 L136.6,861.4 L138.7,858.4 L140.7,859.9 L142.8,852.2 L144.8,849.7 L146.9,851.2 L149.0,856.0 L151.0,856.9 L153.1,848.6 L155.1,839.9 L157.2,850.2 L159.3,851.4 L161.3,851.5 L163.4,853.7 L165.4,855.9 L167.5,851.7 L169.6,851.7 L171.6,842.4 L173.7,842.3 L175.7,847.1 L177.8,849.2 L179.9,849.1 L181.9,848.0 L184.0,847.9 L186.0,847.3 L188.1,836.4 L190.2,837.5 L192.2,842.1 L194.3,842.7 L196.3,833.5 L198.4,841.3 L200.5,836.0 L202.5,833.8 L204.6,833.8 L206.6,833.8 L208.7,822.9 L210.8,828.6 L212.8,825.0 L214.9,819.4 L216.9,820.2 L219.0,813.0 L221.1,818.1 L223.1,823.6 L225.2,819.9 L227.2,823.4 L229.3,825.5 L231.4,827.5 L233.4,832.6 L235.5,830.0 L237.5,828.7 L239.6,831.9 L241.7,838.7 L243.7,829.6 L245.8,830.1 L247.8,821.0 L249.9,829.6 L252.0,827.5 L254.0,827.8 L256.1,820.7 L258.1,813.4 L260.2,818.5 L262.3,817.7 L264.3,809.1 L266.4,803.5 L268.4,809.6 L270.5,807.4 L272.6,817.3 L274.6,805.0 L276.7,801.3 L278.7,802.0 L280.8,794.6 L282.9,795.4 L284.9,805.6 L287.0,799.2 L289.0,794.4 L291.1,789.9 L293.2,795.9 L295.2,796.6 L297.3,793.6 L299.3,789.0 L301.4,789.9 L303.5,789.2 L305.5,782.9 L307.6,785.7 L309.6,773.0 L311.7,772.0 L313.8,774.9 L315.8,774.6 L317.9,768.0 L319.9,771.6 L322.0,774.1 L324.1,770.2 L326.1,766.7 L328.2,767.5 L330.2,764.5 L332.3,755.7 L334.4,757.2 L336.4,763.6 L338.5,753.0 L340.5,754.6 L342.6,753.2 L344.7,749.6 L346.7,747.7 L348.8,751.8 L350.8,753.0 L352.9,752.3 L355.0,743.5 L357.0,746.1 L359.1,749.1 L361.1,751.4 L363.2,749.5 L365.3,748.7 L367.3,748.6 L369.4,745.9 L371.4,736.1 L373.5,736.3 L375.6,731.0 L377.6,719.8 L379.7,718.6 L381.7,733.9 L383.8,719.5 L385.9,708.0 L387.9,711.5 L390.0,720.1 L392.0,711.7 L394.1,709.4 L396.2,703.8 L398.2,701.4 L400.3,705.7 L402.3,702.5 L404.4,695.5 L406.5,697.1 L408.5,696.8 L410.6,688.5 L412.6,687.5 L414.7,685.8 L416.8,679.2 L418.8,685.2 L420.9,678.6 L422.9,673.0 L425.0,665.3 L427.1,664.3 L429.1,676.8 L431.2,664.5 L433.2,667.7 L435.3,663.6 L437.4,665.4 L439.4,667.2 L441.5,654.6 L443.5,655.9 L445.6,656.8 L447.7,655.7 L449.7,653.4 L451.8,650.2 L453.8,653.1 L455.9,656.0 L458.0,651.3 L460.0,642.3 L462.1,645.1 L464.1,643.0 L466.2,643.1 L468.3,649.0 L470.3,638.2 L472.4,635.4 L474.4,629.5 L476.5,630.1 L478.6,627.6 L480.6,637.0 L482.7,631.0 L484.7,623.4 L486.8,633.9 L488.9,617.9 L490.9,624.1 L493.0,625.6 L495.0,621.6 L497.1,614.9 L499.2,612.8 L501.2,609.8 L503.3,613.0 L505.3,594.9 L507.4,598.2 L509.5,601.0 L511.5,595.3 L513.6,586.0 L515.6,591.9 L517.7,590.7 L519.8,599.2 L521.8,605.6 L523.9,600.9 L525.9,590.6 L528.0,599.5 L530.1,599.0 L532.1,607.5 L534.2,614.7 L536.2,608.4 L538.3,615.6 L540.4,614.3 L542.4,608.7 L544.5,598.7 L546.5,601.7 L548.6,593.7 L550.7,604.2 L552.7,601.0 L554.8,605.6 L556.8,600.0 L558.9,585.6 L561.0,595.8 L563.0,599.0 L565.1,602.1 L567.1,587.5 L569.2,583.5 L571.3,587.4 L573.3,580.8 L575.4,576.0 L577.4,575.3 L579.5,593.8 L581.6,578.6 L583.6,570.9 L585.7,571.8 L587.7,573.3 L589.8,579.5 L591.9,577.9 L593.9,575.7 L596.0,570.5 L598.0,569.4 L600.1,564.3 L602.2,552.7 L604.2,575.4 L606.3,565.0 L608.3,569.5 L610.4,563.1 L612.5,562.2 L614.5,561.5 L616.6,554.1 L618.6,559.4 L620.7,563.1 L622.8,565.9 L624.8,564.4 L626.9,566.9 L628.9,563.5 L631.0,561.2 L633.1,550.2 L635.1,556.2 L637.2,569.8 L639.2,564.7 L641.3,567.2 L643.4,562.7 L645.4,559.3 L647.5,574.0 L649.5,567.9 L651.6,572.2 L653.7,567.8 L655.7,561.6 L657.8,549.0 L659.8,558.7 L661.9,551.1 L664.0,544.3 L666.0,561.5 L668.1,561.2 L670.1,558.7 L672.2,553.9 L674.3,551.2 L676.3,552.3 L678.4,549.9 L680.4,547.8 L682.5,550.0 L684.6,531.1 L686.6,544.3 L688.7,537.7 L690.7,542.4 L692.8,544.3 L694.9,531.8 L696.9,537.6 L699.0,538.9 L701.0,530.3 L703.1,529.4 L705.2,533.2 L707.2,520.7 L709.3,528.0 L711.3,533.7 L713.4,530.8 L715.5,523.5 L717.5,528.9 L719.6,541.2 L721.6,542.4 L723.7,534.0 L725.8,528.3 L727.8,532.0 L729.9,533.1 L731.9,529.2 L734.0,530.3 L736.1,536.0 L738.1,538.5 L740.2,519.2 L742.2,534.0 L744.3,532.7 L746.4,536.8 L748.4,530.7 L750.5,531.2 L752.5,538.0 L754.6,503.7 L756.7,532.8 L758.7,530.1 L760.8,516.9 L762.8,510.0 L764.9,526.6 L767.0,523.4 L769.0,534.4 L771.1,533.5 L773.1,531.7 L775.2,539.0 L777.3,536.9 L779.3,540.1 L781.4,542.1 L783.4,539.9 L785.5,542.5 L787.6,543.6 L789.6,531.9 L791.7,536.1 L793.7,538.7 L795.8,537.9 L797.9,531.3 L799.9,536.0 L802.0,542.7 L804.0,543.3 L806.1,551.0 L808.2,540.8 L810.2,539.5 L812.3,536.9 L814.3,540.5 L816.4,539.2 L818.5,531.7 L820.5,542.5 L822.6,548.5 L824.6,549.7 L826.7,537.0 L828.8,538.9 L830.8,550.9 L832.9,541.8 L834.9,541.5 L837.0,538.6 L839.1,544.1 L841.1,544.7 L843.2,552.0 L845.2,546.3 L847.3,540.3 L849.4,530.7 L851.4,533.2 L853.5,532.6 L855.5,534.5 L857.6,529.5 L859.7,542.8 L861.7,533.2 L863.8,538.4 L865.8,531.4 L867.9,538.9 L870.0,548.6 L872.0,536.5 L874.1,540.6 L876.1,539.9 L878.2,541.8 L880.3,543.5 L882.3,538.5 L884.4,540.6 L886.4,539.9 L888.5,539.2 L890.6,537.9 L892.6,551.0 L894.7,545.5 L896.7,552.9 L898.8,555.5 L900.9,548.3 L902.9,559.6 L905.0,553.3 L907.0,561.6 L909.1,570.5 L911.2,562.3 L913.2,561.7 L915.3,564.5 L917.3,585.4 L919.4,577.7 L921.5,573.0 L923.5,586.9 L925.6,587.7 L927.6,591.1 L929.7,589.5 L931.8,584.6 L933.8,593.5 L935.9,595.5 L937.9,593.9 L940.0,597.8 L942.1,600.7 L944.1,611.6 L946.2,617.1 L948.2,614.4 L950.3,609.7 L952.4,605.6 L954.4,614.0 L956.5,617.5 L958.5,621.4 L960.6,617.5 L962.7,616.8 L964.7,620.1 L966.8,615.3 L968.8,615.8 L970.9,624.9 L973.0,618.0 L975.0,623.5 L977.1,630.8 L979.1,630.5 L981.2,632.6 L983.3,626.5 L985.3,631.7 L987.4,633.8 L989.4,639.9 L991.5,641.8 L993.6,641.5 L995.6,652.6 L997.7,649.6 L999.7,645.9 L1001.8,645.5 L1003.9,650.5 L1005.9,651.0 L1008.0,664.4 L1010.0,664.1 L1012.1,661.2 L1014.2,661.0 L1016.2,660.9 L1018.3,666.3 L1020.3,676.6 L1022.4,677.1 L1024.5,673.2 L1026.5,674.2 L1028.6,665.2 L1030.6,676.9 L1032.7,675.5 L1034.8,683.0 L1036.8,677.6 L1038.9,675.2 L1040.9,679.1 L1043.0,676.4 L1045.1,686.3 L1047.1,684.2 L1049.2,684.8 L1051.2,686.3 L1053.3,685.2 L1055.4,691.5 L1057.4,694.2 L1059.5,705.0 L1061.5,701.9 L1063.6,704.9 L1065.7,704.0 L1067.7,705.8 L1069.8,708.1 L1071.8,717.6 L1073.9,715.2 L1076.0,719.9 L1078.0,716.6 L1080.1,716.4 L1082.1,710.3 L1084.2,723.2 L1086.3,733.0 L1088.3,724.8 L1090.4,735.8 L1092.4,731.7 L1094.5,725.1 L1096.6,731.5 L1098.6,726.4 L1100.7,728.6 L1102.7,737.4 L1104.8,735.0 L1106.9,728.8 L1108.9,740.4 L1111.0,732.3 L1113.0,735.1 L1115.1,736.0 L1117.2,737.6 L1119.2,735.4 L1121.3,732.0 L1123.3,748.2 L1125.4,739.6 L1127.5,738.1 L1129.5,731.9 L1131.6,742.9 L1133.6,751.8 L1135.7,754.5 L1137.8,761.9 L1139.8,758.6 L1141.9,753.6 L1143.9,752.0 L1146.0,759.2 L1148.1,755.1 L1150.1,755.9 L1152.2,752.0 L1154.2,756.7 L1156.3,772.8 L1158.4,761.8 L1160.4,761.5 L1162.5,750.0 L1164.5,764.7 L1166.6,764.3 L1168.7,768.4 L1170.7,764.5 L1172.8,758.8 L1174.8,755.8 L1176.9,763.9 L1179.0,763.5 L1181.0,759.1 L1183.1,762.5 L1185.1,761.2 L1187.2,767.1 L1189.3,763.9 L1191.3,759.9 L1193.4,765.3 L1195.4,765.7 L1197.5,776.0 L1199.6,771.2 L1201.6,767.5 L1203.7,774.1 L1205.7,776.1 L1207.8,779.7 L1209.9,781.0 L1211.9,776.5 L1214.0,780.4 L1216.0,781.8 L1218.1,777.8 L1220.2,778.0 L1222.2,784.8 L1224.3,778.4 L1226.3,779.5 L1228.4,783.2 L1230.5,786.0 L1232.5,789.4 L1234.6,782.4 L1236.6,788.4 L1238.7,791.8 L1240.8,796.5 L1242.8,789.4 L1244.9,786.0 L1246.9,783.4 L1249.0,792.3 L1251.1,797.8 L1253.1,790.6 L1255.2,794.2 L1257.2,797.5 L1259.3,798.9 L1261.4,793.7 L1263.4,797.5 L1265.5,796.1 L1267.5,792.2 L1269.6,797.0 L1271.7,799.1 L1273.7,794.1 L1275.8,799.3 L1277.8,807.7 L1279.9,794.7 L1282.0,801.4 L1284.0,804.7 L1286.1,801.6 L1288.1,802.4 L1290.2,800.6 L1292.3,807.3 L1294.3,799.4 L1296.4,801.1 L1298.4,794.5 L1300.5,802.7 L1302.6,805.2 L1304.6,796.9 L1306.7,798.7 L1308.7,805.3 L1310.8,802.7 L1312.9,799.0 L1314.9,786.1 L1317.0,804.1 L1319.0,813.5 L1321.1,805.1 L1323.2,806.9 L1325.2,807.9 L1327.3,806.0 L1329.3,806.6 L1331.4,807.1 L1333.5,803.3 L1335.5,816.8 L1337.6,821.0 L1339.6,811.5 L1341.7,816.0 L1343.8,806.8 L1345.8,807.4 L1347.9,814.0 L1349.9,806.2 L1352.0,803.9 L1354.1,811.1 L1356.1,803.3 L1358.2,817.0 L1360.2,816.6 L1362.3,814.8 L1364.4,815.6 L1366.4,809.6 L1368.5,808.3 L1370.5,815.9 L1372.6,818.0 L1374.7,815.0 L1376.7,813.7 L1378.8,811.7 L1380.8,819.4 L1382.9,809.4 L1385.0,809.6 L1387.0,811.6 L1389.1,807.9 L1391.1,808.0 L1393.2,809.4 L1395.3,818.2 L1397.3,823.3 L1399.4,818.0 L1401.4,808.6 L1403.5,811.1 L1405.6,813.9 L1407.6,813.8 L1409.7,813.2 L1411.7,816.8 L1413.8,807.4 L1415.9,810.9 L1417.9,815.4 L1420.0,818.2 L1422.0,816.8 L1424.1,815.4 L1426.2,814.5 L1428.2,812.2 L1430.3,814.9 L1432.3,814.3 L1434.4,812.0 L1436.5,819.5 L1438.5,821.1 L1440.6,814.6 L1442.6,817.4 L1444.7,820.7 L1446.8,817.3 L1448.8,815.9 L1450.9,817.4 L1452.9,808.9 L1455.0,808.0 L1457.1,816.4 L1459.1,817.2 L1461.2,821.7 L1463.2,815.2 L1465.3,820.4 L1467.4,821.9 L1469.4,826.0 L1471.5,815.6 L1473.5,815.4 L1475.6,818.7 L1477.7,819.5 L1479.7,812.4 L1481.8,815.5 L1483.8,813.2 L1485.9,827.6 L1488.0,821.2 L1490.0,819.6 L1492.1,817.4 L1494.1,819.6 L1496.2,823.4 L1498.3,819.6 L1500.3,819.9 L1502.4,834.6 L1504.4,825.9 L1506.5,822.0 L1508.6,818.7 L1510.6,819.7 L1512.7,817.1 L1514.7,821.0 L1516.8,817.6 L1518.9,814.5 L1520.9,817.7 L1523.0,815.2 L1525.0,819.7 L1527.1,830.3 L1529.2,819.3 L1531.2,812.3 L1533.3,822.0 L1535.3,819.9 L1537.4,827.4 L1539.5,822.6 L1541.5,823.4 L1543.6,816.8 L1545.6,811.9 L1547.7,816.9 L1549.8,821.5 L1551.8,815.9 L1553.9,811.5 L1555.9,814.8 L1558.0,816.2 L1560.1,816.7 L1562.1,817.9 L1564.2,828.0 L1566.2,820.3 L1568.3,816.0 L1570.4,813.0 L1572.4,820.2 L1574.5,811.9 L1576.5,822.2 L1578.6,818.7 L1580.7,811.2 L1582.7,816.7 L1584.8,816.9 L1586.8,822.0 L1588.9,811.9 L1591.0,816.5 L1593.0,817.0 L1595.1,820.6 L1597.1,812.9 L1599.2,812.5 L1601.3,824.1 L1603.3,820.6 L1605.4,811.0 L1607.4,816.5 L1609.5,813.9 L1611.6,813.8 L1613.6,812.2 L1615.7,821.4 L1617.7,817.8 L1619.8,820.3 L1621.9,821.2 L1623.9,815.5 L1626.0,818.1 L1628.0,825.8 L1630.1,818.4 L1632.2,824.5 L1634.2,825.3 L1636.3,828.5 L1638.3,829.7 L1640.4,830.6 L1642.5,827.8 L1644.5,828.2 L1646.6,824.6 L1648.6,824.6 L1650.7,830.8 L1652.8,826.1 L1654.8,831.6 L1656.9,833.0 L1658.9,825.9 L1661.0,830.0 L1663.1,825.7 L1665.1,829.4 L1667.2,826.0 L1669.2,829.6 L1671.3,830.0 L1673.4,825.1 L1675.4,836.6 L1677.5,835.0 L1679.5,823.8 L1681.6,829.5 L1683.7,828.1 L1685.7,837.5 L1687.8,831.2 L1689.8,831.3 L1691.9,829.3 L1694.0,832.2 L1696.0,828.2 L1698.1,825.7 L1700.1,827.0 L1702.2,827.7 L1704.3,832.0 L1706.3,830.7 L1708.4,828.1 L1710.4,827.8 L1712.5,825.8 L1714.6,829.5 L1716.6,821.7 L1718.7,827.2 L1720.7,834.4 L1722.8,829.4 L1724.9,827.1 L1726.9,829.8 L1729.0,826.7 L1731.0,826.9 L1733.1,833.2 L1735.2,829.5 L1737.2,839.2 L1739.3,836.1 L1741.3,832.8 L1743.4,830.7 L1745.5,832.2 L1747.5,825.0 L1749.6,833.8 L1751.6,839.0 L1753.7,838.8 L1755.8,835.0 L1757.8,838.8 L1759.9,840.3 L1761.9,837.6 L1764.0,839.3 L1766.1,842.9 L1768.1,841.5 L1770.2,838.1 L1772.2,839.4 L1774.3,840.7 L1776.4,834.3 L1778.4,840.1 L1780.5,840.9 L1782.5,833.1 L1784.6,833.6 L1786.7,848.3 L1788.7,844.9 L1790.8,848.8 L1792.8,843.5 L1794.9,850.0 L1797.0,848.2 L1799.0,842.9 L1801.1,846.1 L1803.1,852.3 L1805.2,857.1 L1807.3,850.8 L1809.3,845.9 L1811.4,843.9 L1813.4,850.0 L1815.5,853.2 L1817.6,850.3 L1819.6,848.9 L1821.7,852.8 L1823.7,852.7 L1825.8,852.5 L1827.9,845.4 L1829.9,848.9 L1832.0,858.9 L1834.0,853.8 L1836.1,862.1 L1838.2,856.6 L1840.2,852.8 L1842.3,854.8 L1844.3,856.9 L1846.4,852.4 L1848.5,855.7 L1850.5,854.0 L1852.6,861.0 L1854.6,855.5 L1856.7,856.4 L1858.8,850.9 L1860.8,850.3 L1862.9,855.5 L1864.9,851.4 L1867.0,855.5 L1869.1,858.2 L1871.1,860.0 L1873.2,852.8 L1875.2,856.1 L1877.3,860.4 L1879.4,856.1 L1881.4,852.7 L1883.5,854.7 L1885.5,864.2 L1887.6,860.0 L1889.7,864.7 L1891.7,858.9 L1893.8,863.2 L1895.8,854.4 L1897.9,856.9 L1900.0,859.3 L1902.0,866.1 L1904.1,862.6 L1906.1,864.2 L1908.2,858.5 L1910.3,857.9 L1912.3,864.5 L1914.4,866.6 L1916.4,866.1 L1918.5,866.0 L1920.6,859.6 L1922.6,868.6 L1924.7,863.4 L1926.7,866.2 L1928.8,865.3 L1930.9,855.5 L1932.9,852.9 L1935.0,854.3 L1937.0,860.7 L1939.1,866.6 L1941.2,862.6 L1943.2,865.8 L1945.3,859.0 L1947.3,859.9 L1949.4,859.6 L1951.5,863.1 L1953.5,859.6 L1955.6,862.9 L1957.6,866.6 L1959.7,863.4 L1961.8,861.1 L1963.8,862.7 L1965.9,860.4 L1967.9,860.7 L1970.0,868.1 L1972.1,868.2 L1974.1,861.3 L1976.2,864.6 L1978.2,869.6 L1980.3,870.9 L1982.4,870.9 L1984.4,872.4 L1986.5,869.1 L1988.5,868.7 L1990.6,868.2 L1992.7,873.4 L1994.7,873.9 L1996.8,877.5 L1998.8,876.0 L2000.9,868.5 L2003.0,864.8 L2005.0,864.8 L2007.1,867.0 L2009.1,873.3 L2011.2,867.1 L2013.3,863.3 L2015.3,869.9 L2017.4,877.0 L2019.4,876.1 L2021.5,883.6 L2023.6,874.0 L2025.6,870.8 L2027.7,871.5 L2029.7,867.9 L2031.8,869.7 L2033.9,880.2 L2035.9,882.4 L2038.0,880.0 L2040.0,875.9 L2042.1,873.2 L2044.2,874.7 L2046.2,867.2 L2048.3,874.8 L2050.3,877.6 L2052.4,874.5 L2054.5,874.4 L2056.5,868.2 L2058.6,876.3 L2060.6,878.3 L2062.7,865.1 L2064.8,870.6 L2066.8,875.9 L2068.9,881.7 L2070.9,873.3 L2073.0,874.5 L2075.1,880.9 L2077.1,878.5 L2079.2,875.2 L2081.2,873.9 L2083.3,875.6 L2085.4,873.0 L2087.4,879.2 L2089.5,873.7 L2091.5,878.5 L2093.6,880.3 L2095.7,881.8 L2097.7,878.1 L2099.8,877.0 L2101.8,878.2 L2103.9,877.7 L2106.0,881.4 L2108.0,877.8 L2110.1,884.5 L2112.1,889.5 L2114.2,877.4 L2116.3,878.7 L2118.3,873.8 L2120.4,879.7 L2122.4,880.1 L2124.5,877.5 L2126.6,874.0 L2128.6,877.4 L2130.7,885.7 L2132.7,885.8 L2134.8,881.0 L2136.9,876.4 L2138.9,877.9 L2141.0,875.6 L2143.0,873.0 L2145.1,874.1" fill="none" stroke="#000080" stroke-width="12" stroke-linejoin="round" stroke-linecap="butt" shape-rendering="crispEdges"/>
<path d="M13.0,996.5 L15.1,979.9 L17.1,990.7 L19.2,990.1 L21.2,993.7 L23.3,990.8 L25.4,995.1 L27.4,989.1 L29.5,985.2 L31.5,988.4 L33.6,988.3 L35.7,984.9 L37.7,984.2 L39.8,987.6 L41.8,987.9 L43.9,982.2 L46.0,982.1 L48.0,972.1 L50.1,988.0 L52.1,983.2 L54.2,987.2 L56.3,984.6 L58.3,989.2 L60.4,988.5 L62.4,983.2 L64.5,986.3 L66.6,977.7 L68.6,983.7 L70.7,974.8 L72.7,979.2 L74.8,983.1 L76.9,980.1 L78.9,976.9 L81.0,974.5 L83.0,975.6 L85.1,981.0 L87.2,981.2 L89.2,976.4 L91.3,971.4 L93.3,977.7 L95.4,970.8 L97.5,972.3 L99.5,972.0 L101.6,977.2 L103.6,976.1 L105.7,976.2 L107.8,975.3 L109.8,971.1 L111.9,974.6 L113.9,978.5 L116.0,973.2 L118.1,974.2 L120.1,971.3 L122.2,974.6 L124.2,973.5 L126.3,973.4 L128.4,970.8 L130.4,974.7 L132.5,967.2 L134.5,964.9 L136.6,963.1 L138.7,966.8 L140.7,962.1 L142.8,960.2 L144.8,964.6 L146.9,966.6 L149.0,963.8 L151.0,949.6 L153.1,952.8 L155.1,952.9 L157.2,951.3 L159.3,953.5 L161.3,962.2 L163.4,954.7 L165.4,950.4 L167.5,955.0 L169.6,952.9 L171.6,951.9 L173.7,948.0 L175.7,949.5 L177.8,951.1 L179.9,941.5 L181.9,940.0 L184.0,950.5 L186.0,951.1 L188.1,944.7 L190.2,940.6 L192.2,942.7 L194.3,938.3 L196.3,939.8 L198.4,947.4 L200.5,941.6 L202.5,942.3 L204.6,934.5 L206.6,932.3 L208.7,933.7 L210.8,920.5 L212.8,920.5 L214.9,921.1 L216.9,922.2 L219.0,927.1 L221.1,923.8 L223.1,913.3 L225.2,916.0 L227.2,914.2 L229.3,913.3 L231.4,926.0 L233.4,916.9 L235.5,921.5 L237.5,920.8 L239.6,928.4 L241.7,930.3 L243.7,928.3 L245.8,926.4 L247.8,930.5 L249.9,921.8 L252.0,919.5 L254.0,916.4 L256.1,924.7 L258.1,918.2 L260.2,911.8 L262.3,911.9 L264.3,923.2 L266.4,913.2 L268.4,913.6 L270.5,911.5 L272.6,907.8 L274.6,903.2 L276.7,902.9 L278.7,901.8 L280.8,892.6 L282.9,910.3 L284.9,906.2 L287.0,900.0 L289.0,896.5 L291.1,892.4 L293.2,898.1 L295.2,893.4 L297.3,893.8 L299.3,884.8 L301.4,889.4 L303.5,896.6 L305.5,886.5 L307.6,887.6 L309.6,883.6 L311.7,886.0 L313.8,885.1 L315.8,878.9 L317.9,873.4 L319.9,874.9 L322.0,872.9 L324.1,867.9 L326.1,870.4 L328.2,869.5 L330.2,861.7 L332.3,862.2 L334.4,875.0 L336.4,866.6 L338.5,859.6 L340.5,868.2 L342.6,855.1 L344.7,841.2 L346.7,840.0 L348.8,840.6 L350.8,847.4 L352.9,850.6 L355.0,834.8 L357.0,845.2 L359.1,835.6 L361.1,838.4 L363.2,839.0 L365.3,837.1 L367.3,833.2 L369.4,831.6 L371.4,823.5 L373.5,827.1 L375.6,832.7 L377.6,828.1 L379.7,834.1 L381.7,831.1 L383.8,821.0 L385.9,823.1 L387.9,815.1 L390.0,804.1 L392.0,795.8 L394.1,809.9 L396.2,807.9 L398.2,806.5 L400.3,799.0 L402.3,799.0 L404.4,805.2 L406.5,797.1 L408.5,786.3 L410.6,786.1 L412.6,793.8 L414.7,781.3 L416.8,760.8 L418.8,767.0 L420.9,770.0 L422.9,779.7 L425.0,776.3 L427.1,769.2 L429.1,763.6 L431.2,766.9 L433.2,765.8 L435.3,761.7 L437.4,760.8 L439.4,756.5 L441.5,767.1 L443.5,746.4 L445.6,752.7 L447.7,747.5 L449.7,753.1 L451.8,747.8 L453.8,748.2 L455.9,747.6 L458.0,744.1 L460.0,745.7 L462.1,732.0 L464.1,739.5 L466.2,733.8 L468.3,733.4 L470.3,738.0 L472.4,739.2 L474.4,736.3 L476.5,712.3 L478.6,711.9 L480.6,721.1 L482.7,709.6 L484.7,709.8 L486.8,718.7 L488.9,714.0 L490.9,700.9 L493.0,704.4 L495.0,704.8 L497.1,699.5 L499.2,695.5 L501.2,694.2 L503.3,683.1 L505.3,688.0 L507.4,682.1 L509.5,687.6 L511.5,688.0 L513.6,680.6 L515.6,687.9 L517.7,689.4 L519.8,688.4 L521.8,694.1 L523.9,691.3 L525.9,692.4 L528.0,696.4 L530.1,697.9 L532.1,705.7 L534.2,689.0 L536.2,697.2 L538.3,691.3 L540.4,695.3 L542.4,705.0 L544.5,705.2 L546.5,710.7 L548.6,708.5 L550.7,691.3 L552.7,695.4 L554.8,709.4 L556.8,709.4 L558.9,697.8 L561.0,683.2 L563.0,697.7 L565.1,674.8 L567.1,679.9 L569.2,678.3 L571.3,678.0 L573.3,669.2 L575.4,670.6 L577.4,678.6 L579.5,670.6 L581.6,662.9 L583.6,668.6 L585.7,669.9 L587.7,668.0 L589.8,663.4 L591.9,669.3 L593.9,666.4 L596.0,659.1 L598.0,664.9 L600.1,664.5 L602.2,664.4 L604.2,653.4 L606.3,655.7 L608.3,662.8 L610.4,666.1 L612.5,662.6 L614.5,660.1 L616.6,662.3 L618.6,663.7 L620.7,667.8 L622.8,660.9 L624.8,653.0 L626.9,657.3 L628.9,644.5 L631.0,652.8 L633.1,652.3 L635.1,654.2 L637.2,657.6 L639.2,655.8 L641.3,646.9 L643.4,651.3 L645.4,650.2 L647.5,653.5 L649.5,657.4 L651.6,650.5 L653.7,658.6 L655.7,663.9 L657.8,655.8 L659.8,659.6 L661.9,648.4 L664.0,651.1 L666.0,660.7 L668.1,647.1 L670.1,650.8 L672.2,649.8 L674.3,660.5 L676.3,662.4 L678.4,651.7 L680.4,653.1 L682.5,637.7 L684.6,653.2 L686.6,653.6 L688.7,662.3 L690.7,636.7 L692.8,646.8 L694.9,645.2 L696.9,630.5 L699.0,637.8 L701.0,642.8 L703.1,647.7 L705.2,644.6 L707.2,639.2 L709.3,643.2 L711.3,640.5 L713.4,636.1 L715.5,632.6 L717.5,638.2 L719.6,639.0 L721.6,648.0 L723.7,636.3 L725.8,644.8 L727.8,639.7 L729.9,642.5 L731.9,631.3 L734.0,628.9 L736.1,632.2 L738.1,639.9 L740.2,637.4 L742.2,642.9 L744.3,638.7 L746.4,642.8 L748.4,639.4 L750.5,634.8 L752.5,640.5 L754.6,640.0 L756.7,649.6 L758.7,641.4 L760.8,641.4 L762.8,640.0 L764.9,648.6 L767.0,649.4 L769.0,651.3 L771.1,638.3 L773.1,635.4 L775.2,646.3 L777.3,652.2 L779.3,658.2 L781.4,641.7 L783.4,648.2 L785.5,642.6 L787.6,646.0 L789.6,650.6 L791.7,660.4 L793.7,654.2 L795.8,651.9 L797.9,654.2 L799.9,663.7 L802.0,672.1 L804.0,651.2 L806.1,653.6 L808.2,654.3 L810.2,663.1 L812.3,660.8 L814.3,666.2 L816.4,653.1 L818.5,655.9 L820.5,654.8 L822.6,651.0 L824.6,656.2 L826.7,648.1 L828.8,670.7 L830.8,665.7 L832.9,656.5 L834.9,658.1 L837.0,672.6 L839.1,663.8 L841.1,668.5 L843.2,670.0 L845.2,673.2 L847.3,671.6 L849.4,666.6 L851.4,663.4 L853.5,656.4 L855.5,664.6 L857.6,667.7 L859.7,665.2 L861.7,665.8 L863.8,660.0 L865.8,677.7 L867.9,666.8 L870.0,660.6 L872.0,662.4 L874.1,665.4 L876.1,670.9 L878.2,654.3 L880.3,667.0 L882.3,662.5 L884.4,665.3 L886.4,672.7 L888.5,672.9 L890.6,665.0 L892.6,667.1 L894.7,679.4 L896.7,679.6 L898.8,677.2 L900.9,672.9 L902.9,681.6 L905.0,679.4 L907.0,679.5 L909.1,683.1 L911.2,697.6 L913.2,703.0 L915.3,714.4 L917.3,704.4 L919.4,714.8 L921.5,709.3 L923.5,721.6 L925.6,717.5 L927.6,712.4 L929.7,711.0 L931.8,717.0 L933.8,719.2 L935.9,727.3 L937.9,722.0 L940.0,717.9 L942.1,726.7 L944.1,740.5 L946.2,743.0 L948.2,731.9 L950.3,734.0 L952.4,739.5 L954.4,736.9 L956.5,740.0 L958.5,742.3 L960.6,740.2 L962.7,743.5 L964.7,746.6 L966.8,752.3 L968.8,747.6 L970.9,754.5 L973.0,752.1 L975.0,753.4 L977.1,753.7 L979.1,781.2 L981.2,774.2 L983.3,773.2 L985.3,772.1 L987.4,767.7 L989.4,769.6 L991.5,772.5 L993.6,775.0 L995.6,777.4 L997.7,783.7 L999.7,763.6 L1001.8,772.4 L1003.9,782.6 L1005.9,780.3 L1008.0,781.7 L1010.0,791.7 L1012.1,788.4 L1014.2,802.0 L1016.2,790.6 L1018.3,792.2 L1020.3,786.9 L1022.4,782.4 L1024.5,790.6 L1026.5,795.9 L1028.6,795.7 L1030.6,791.7 L1032.7,801.7 L1034.8,802.0 L1036.8,802.1 L1038.9,799.1 L1040.9,811.1 L1043.0,813.5 L1045.1,808.5 L1047.1,806.0 L1049.2,808.3 L1051.2,816.6 L1053.3,824.4 L1055.4,813.0 L1057.4,809.3 L1059.5,803.4 L1061.5,825.9 L1063.6,813.8 L1065.7,821.8 L1067.7,824.7 L1069.8,831.0 L1071.8,824.2 L1073.9,821.0 L1076.0,831.0 L1078.0,836.1 L1080.1,841.8 L1082.1,831.2 L1084.2,836.1 L1086.3,840.1 L1088.3,837.0 L1090.4,843.2 L1092.4,850.4 L1094.5,849.1 L1096.6,843.2 L1098.6,851.4 L1100.7,856.7 L1102.7,858.8 L1104.8,858.7 L1106.9,848.8 L1108.9,857.1 L1111.0,860.7 L1113.0,857.2 L1115.1,858.6 L1117.2,856.5 L1119.2,865.7 L1121.3,861.5 L1123.3,857.8 L1125.4,863.1 L1127.5,864.6 L1129.5,867.8 L1131.6,862.3 L1133.6,862.4 L1135.7,868.1 L1137.8,878.3 L1139.8,872.8 L1141.9,860.1 L1143.9,869.4 L1146.0,867.3 L1148.1,862.3 L1150.1,867.2 L1152.2,867.6 L1154.2,874.8 L1156.3,880.5 L1158.4,881.2 L1160.4,880.3 L1162.5,875.2 L1164.5,877.4 L1166.6,877.8 L1168.7,884.9 L1170.7,877.9 L1172.8,877.3 L1174.8,887.3 L1176.9,886.0 L1179.0,881.5 L1181.0,884.2 L1183.1,886.1 L1185.1,886.6 L1187.2,890.3 L1189.3,889.8 L1191.3,887.9 L1193.4,886.8 L1195.4,882.1 L1197.5,887.5 L1199.6,896.5 L1201.6,894.7 L1203.7,890.9 L1205.7,892.7 L1207.8,891.2 L1209.9,896.5 L1211.9,905.9 L1214.0,907.4 L1216.0,905.4 L1218.1,903.8 L1220.2,899.9 L1222.2,895.4 L1224.3,900.7 L1226.3,900.6 L1228.4,906.5 L1230.5,905.5 L1232.5,902.5 L1234.6,907.1 L1236.6,919.5 L1238.7,906.2 L1240.8,912.4 L1242.8,912.9 L1244.9,910.5 L1246.9,908.0 L1249.0,911.6 L1251.1,914.1 L1253.1,917.4 L1255.2,918.4 L1257.2,917.4 L1259.3,913.4 L1261.4,917.2 L1263.4,915.1 L1265.5,912.2 L1267.5,919.9 L1269.6,915.0 L1271.7,911.4 L1273.7,916.3 L1275.8,908.8 L1277.8,914.8 L1279.9,918.6 L1282.0,915.2 L1284.0,917.1 L1286.1,931.3 L1288.1,924.2 L1290.2,921.4 L1292.3,919.4 L1294.3,914.2 L1296.4,914.7 L1298.4,914.3 L1300.5,915.4 L1302.6,916.0 L1304.6,912.0 L1306.7,921.4 L1308.7,912.2 L1310.8,915.7 L1312.9,919.8 L1314.9,915.8 L1317.0,910.4 L1319.0,914.6 L1321.1,923.5 L1323.2,919.9 L1325.2,915.1 L1327.3,918.4 L1329.3,916.4 L1331.4,909.1 L1333.5,917.1 L1335.5,922.9 L1337.6,924.7 L1339.6,920.3 L1341.7,914.1 L1343.8,924.4 L1345.8,921.5 L1347.9,924.5 L1349.9,927.4 L1352.0,924.8 L1354.1,922.7 L1356.1,920.3 L1358.2,921.0 L1360.2,923.4 L1362.3,922.0 L1364.4,925.3 L1366.4,916.7 L1368.5,918.9 L1370.5,924.1 L1372.6,922.5 L1374.7,922.8 L1376.7,920.8 L1378.8,928.1 L1380.8,934.0 L1382.9,924.2 L1385.0,931.2 L1387.0,922.6 L1389.1,927.4 L1391.1,920.3 L1393.2,929.3 L1395.3,930.0 L1397.3,930.6 L1399.4,935.6 L1401.4,934.5 L1403.5,931.9 L1405.6,928.5 L1407.6,931.9 L1409.7,930.0 L1411.7,930.9 L1413.8,939.3 L1415.9,938.8 L1417.9,936.2 L1420.0,937.3 L1422.0,929.3 L1424.1,934.0 L1426.2,928.0 L1428.2,930.5 L1430.3,935.1 L1432.3,935.1 L1434.4,935.1 L1436.5,931.6 L1438.5,929.1 L1440.6,927.2 L1442.6,931.5 L1444.7,931.0 L1446.8,918.5 L1448.8,922.1 L1450.9,928.3 L1452.9,923.6 L1455.0,925.5 L1457.1,924.1 L1459.1,922.7 L1461.2,929.5 L1463.2,929.8 L1465.3,931.3 L1467.4,926.5 L1469.4,926.5 L1471.5,931.0 L1473.5,930.6 L1475.6,934.4 L1477.7,928.6 L1479.7,934.4 L1481.8,935.4 L1483.8,933.3 L1485.9,935.1 L1488.0,932.6 L1490.0,931.4 L1492.1,932.0 L1494.1,923.5 L1496.2,931.0 L1498.3,935.5 L1500.3,926.3 L1502.4,933.6 L1504.4,930.2 L1506.5,930.2 L1508.6,932.3 L1510.6,933.3 L1512.7,938.0 L1514.7,932.8 L1516.8,939.1 L1518.9,933.8 L1520.9,934.3 L1523.0,935.5 L1525.0,930.3 L1527.1,927.4 L1529.2,932.2 L1531.2,935.9 L1533.3,937.3 L1535.3,932.6 L1537.4,940.5 L1539.5,934.9 L1541.5,931.2 L1543.6,938.6 L1545.6,940.7 L1547.7,932.1 L1549.8,937.8 L1551.8,931.0 L1553.9,934.8 L1555.9,945.3 L1558.0,943.5 L1560.1,940.5 L1562.1,939.9 L1564.2,934.0 L1566.2,937.6 L1568.3,939.2 L1570.4,933.3 L1572.4,937.2 L1574.5,941.3 L1576.5,939.7 L1578.6,939.5 L1580.7,937.1 L1582.7,933.0 L1584.8,937.0 L1586.8,930.1 L1588.9,933.4 L1591.0,941.9 L1593.0,946.3 L1595.1,941.3 L1597.1,928.7 L1599.2,941.6 L1601.3,941.6 L1603.3,937.9 L1605.4,941.1 L1607.4,941.1 L1609.5,933.9 L1611.6,931.9 L1613.6,941.4 L1615.7,929.8 L1617.7,938.7 L1619.8,940.1 L1621.9,942.5 L1623.9,946.2 L1626.0,945.2 L1628.0,945.8 L1630.1,943.0 L1632.2,941.1 L1634.2,943.1 L1636.3,939.2 L1638.3,934.6 L1640.4,937.3 L1642.5,931.8 L1644.5,932.9 L1646.6,946.6 L1648.6,942.8 L1650.7,938.9 L1652.8,936.9 L1654.8,932.1 L1656.9,936.4 L1658.9,936.9 L1661.0,940.3 L1663.1,941.7 L1665.1,941.6 L1667.2,930.0 L1669.2,947.0 L1671.3,946.3 L1673.4,944.1 L1675.4,942.9 L1677.5,946.1 L1679.5,950.4 L1681.6,948.9 L1683.7,941.6 L1685.7,936.6 L1687.8,935.9 L1689.8,945.2 L1691.9,949.8 L1694.0,952.5 L1696.0,948.7 L1698.1,950.6 L1700.1,944.2 L1702.2,948.6 L1704.3,947.3 L1706.3,944.6 L1708.4,940.1 L1710.4,952.6 L1712.5,939.4 L1714.6,948.1 L1716.6,944.8 L1718.7,949.3 L1720.7,945.8 L1722.8,950.2 L1724.9,947.4 L1726.9,943.3 L1729.0,944.8 L1731.0,940.9 L1733.1,947.6 L1735.2,952.4 L1737.2,950.6 L1739.3,949.0 L1741.3,953.7 L1743.4,945.1 L1745.5,950.2 L1747.5,949.8 L1749.6,947.8 L1751.6,951.9 L1753.7,946.5 L1755.8,949.6 L1757.8,952.8 L1759.9,947.7 L1761.9,950.7 L1764.0,955.0 L1766.1,957.9 L1768.1,951.2 L1770.2,957.5 L1772.2,954.8 L1774.3,955.8 L1776.4,954.1 L1778.4,959.3 L1780.5,954.9 L1782.5,958.0 L1784.6,959.7 L1786.7,961.6 L1788.7,955.3 L1790.8,961.4 L1792.8,960.4 L1794.9,965.8 L1797.0,960.2 L1799.0,958.4 L1801.1,960.6 L1803.1,960.5 L1805.2,961.2 L1807.3,957.5 L1809.3,953.8 L1811.4,956.0 L1813.4,960.3 L1815.5,965.4 L1817.6,963.8 L1819.6,961.0 L1821.7,964.0 L1823.7,965.9 L1825.8,977.0 L1827.9,973.8 L1829.9,968.7 L1832.0,961.8 L1834.0,965.8 L1836.1,966.7 L1838.2,970.4 L1840.2,977.5 L1842.3,971.6 L1844.3,961.9 L1846.4,967.9 L1848.5,963.8 L1850.5,972.6 L1852.6,976.1 L1854.6,973.7 L1856.7,966.4 L1858.8,970.3 L1860.8,977.0 L1862.9,970.0 L1864.9,970.1 L1867.0,974.0 L1869.1,975.9 L1871.1,974.7 L1873.2,975.7 L1875.2,975.6 L1877.3,972.7 L1879.4,974.2 L1881.4,976.1 L1883.5,971.3 L1885.5,975.3 L1887.6,976.1 L1889.7,977.6 L1891.7,977.6 L1893.8,972.2 L1895.8,970.4 L1897.9,976.2 L1900.0,975.9 L1902.0,976.7 L1904.1,974.5 L1906.1,971.3 L1908.2,976.7 L1910.3,976.5 L1912.3,979.2 L1914.4,981.7 L1916.4,985.2 L1918.5,981.9 L1920.6,974.5 L1922.6,968.7 L1924.7,973.6 L1926.7,972.6 L1928.8,971.9 L1930.9,979.5 L1932.9,972.6 L1935.0,980.6 L1937.0,983.5 L1939.1,989.7 L1941.2,985.0 L1943.2,987.9 L1945.3,978.6 L1947.3,976.5 L1949.4,982.9 L1951.5,975.8 L1953.5,983.5 L1955.6,980.3 L1957.6,973.0 L1959.7,986.3 L1961.8,978.4 L1963.8,989.9 L1965.9,978.0 L1967.9,977.4 L1970.0,982.1 L1972.1,982.4 L1974.1,976.5 L1976.2,981.2 L1978.2,983.6 L1980.3,984.9 L1982.4,977.5 L1984.4,979.8 L1986.5,982.1 L1988.5,986.7 L1990.6,985.2 L1992.7,983.0 L1994.7,982.5 L1996.8,989.7 L1998.8,982.8 L2000.9,985.4 L2003.0,977.2 L2005.0,990.0 L2007.1,988.6 L2009.1,979.4 L2011.2,986.7 L2013.3,991.7 L2015.3,990.3 L2017.4,987.3 L2019.4,989.7 L2021.5,984.5 L2023.6,985.2 L2025.6,985.3 L2027.7,986.9 L2029.7,983.1 L2031.8,991.4 L2033.9,987.7 L2035.9,983.0 L2038.0,985.5 L2040.0,988.4 L2042.1,987.7 L2044.2,991.5 L2046.2,986.9 L2048.3,984.2 L2050.3,988.7 L2052.4,992.6 L2054.5,984.9 L2056.5,980.8 L2058.6,983.9 L2060.6,986.8 L2062.7,983.7 L2064.8,987.4 L2066.8,984.5 L2068.9,990.3 L2070.9,984.0 L2073.0,983.4 L2075.1,987.4 L2077.1,990.4 L2079.2,991.9 L2081.2,986.1 L2083.3,987.6 L2085.4,990.2 L2087.4,994.0 L2089.5,986.2 L2091.5,983.1 L2093.6,989.5 L2095.7,988.2 L2097.7,993.8 L2099.8,990.3 L2101.8,990.5 L2103.9,986.8 L2106.0,990.1 L2108.0,994.6 L2110.1,990.1 L2112.1,985.7 L2114.2,992.9 L2116.3,990.3 L2118.3,990.9 L2120.4,988.6 L2122.4,994.4 L2124.5,989.7 L2126.6,989.6 L2128.6,991.9 L2130.7,991.7 L2132.7,984.3 L2134.8,993.0 L2136.9,989.2 L2138.9,993.4 L2141.0,992.3 L2143.0,993.0 L2145.1,991.1" fill="none" stroke="#6BA519" stroke-width="12" stroke-linejoin="round" stroke-linecap="butt" shape-rendering="crispEdges"/>
<path d="M13.0,1143.3 L15.1,1137.4 L17.1,1133.8 L19.2,1128.2 L21.2,1136.6 L23.3,1144.4 L25.4,1141.1 L27.4,1141.9 L29.5,1144.2 L31.5,1137.5 L33.6,1149.0 L35.7,1138.7 L37.7,1140.5 L39.8,1150.1 L41.8,1141.3 L43.9,1139.9 L46.0,1137.6 L48.0,1140.1 L50.1,1131.6 L52.1,1135.0 L54.2,1144.7 L56.3,1140.9 L58.3,1137.9 L60.4,1139.7 L62.4,1140.2 L64.5,1139.1 L66.6,1140.3 L68.6,1132.1 L70.7,1138.5 L72.7,1135.3 L74.8,1139.4 L76.9,1137.2 L78.9,1132.5 L81.0,1134.7 L83.0,1131.4 L85.1,1137.7 L87.2,1134.8 L89.2,1136.7 L91.3,1129.4 L93.3,1137.5 L95.4,1131.9 L97.5,1136.0 L99.5,1134.7 L101.6,1126.3 L103.6,1129.4 L105.7,1126.6 L107.8,1128.9 L109.8,1132.9 L111.9,1132.5 L113.9,1130.5 L116.0,1121.7 L118.1,1124.5 L120.1,1125.7 L122.2,1128.0 L124.2,1121.5 L126.3,1124.1 L128.4,1124.0 L130.4,1115.9 L132.5,1112.4 L134.5,1121.1 L136.6,1115.5 L138.7,1113.4 L140.7,1121.0 L142.8,1119.8 L144.8,1116.7 L146.9,1117.0 L149.0,1114.7 L151.0,1113.1 L153.1,1112.6 L155.1,1116.0 L157.2,1119.0 L159.3,1112.1 L161.3,1111.4 L163.4,1110.5 L165.4,1105.5 L167.5,1109.8 L169.6,1112.6 L171.6,1105.6 L173.7,1109.9 L175.7,1104.9 L177.8,1109.7 L179.9,1110.5 L181.9,1103.2 L184.0,1094.5 L186.0,1098.7 L188.1,1094.8 L190.2,1093.1 L192.2,1096.1 L194.3,1102.2 L196.3,1096.4 L198.4,1093.2 L200.5,1080.4 L202.5,1086.7 L204.6,1082.3 L206.6,1086.9 L208.7,1081.6 L210.8,1079.9 L212.8,1077.8 L214.9,1074.5 L216.9,1076.9 L219.0,1073.6 L221.1,1067.4 L223.1,1066.3 L225.2,1066.6 L227.2,1069.4 L229.3,1065.0 L231.4,1070.4 L233.4,1064.6 L235.5,1066.3 L237.5,1063.6 L239.6,1074.4 L241.7,1070.7 L243.7,1070.7 L245.8,1079.4 L247.8,1075.5 L249.9,1073.4 L252.0,1080.1 L254.0,1076.8 L256.1,1080.2 L258.1,1075.4 L260.2,1078.7 L262.3,1080.9 L264.3,1076.7 L266.4,1082.6 L268.4,1074.6 L270.5,1072.7 L272.6,1073.2 L274.6,1076.1 L276.7,1070.1 L278.7,1066.8 L280.8,1067.9 L282.9,1071.0 L284.9,1063.1 L287.0,1056.2 L289.0,1058.5 L291.1,1061.0 L293.2,1055.1 L295.2,1055.3 L297.3,1045.8 L299.3,1050.4 L301.4,1050.8 L303.5,1051.4 L305.5,1048.9 L307.6,1048.8 L309.6,1039.8 L311.7,1043.6 L313.8,1033.3 L315.8,1033.9 L317.9,1040.6 L319.9,1039.2 L322.0,1025.3 L324.1,1031.7 L326.1,1027.7 L328.2,1021.0 L330.2,1025.6 L332.3,1024.4 L334.4,1032.0 L336.4,1014.9 L338.5,1014.9 L340.5,1015.4 L342.6,1006.2 L344.7,1016.4 L346.7,1020.1 L348.8,1008.0 L350.8,1008.5 L352.9,1004.7 L355.0,1004.7 L357.0,999.1 L359.1,1003.3 L361.1,993.7 L363.2,1001.6 L365.3,997.5 L367.3,1004.3 L369.4,985.5 L371.4,987.0 L373.5,981.1 L375.6,983.4 L377.6,985.4 L379.7,977.8 L381.7,972.1 L383.8,968.3 L385.9,975.4 L387.9,980.5 L390.0,979.2 L392.0,971.8 L394.1,964.0 L396.2,963.9 L398.2,957.1 L400.3,948.1 L402.3,964.3 L404.4,958.5 L406.5,958.0 L408.5,953.8 L410.6,958.9 L412.6,959.1 L414.7,946.3 L416.8,944.0 L418.8,940.8 L420.9,948.3 L422.9,947.9 L425.0,938.0 L427.1,947.3 L429.1,936.6 L431.2,925.9 L433.2,918.3 L435.3,924.8 L437.4,926.9 L439.4,920.8 L441.5,922.5 L443.5,925.6 L445.6,918.0 L447.7,919.1 L449.7,922.1 L451.8,914.8 L453.8,905.8 L455.9,907.6 L458.0,906.9 L460.0,912.9 L462.1,899.0 L464.1,888.0 L466.2,893.9 L468.3,893.4 L470.3,886.8 L472.4,889.7 L474.4,885.1 L476.5,886.4 L478.6,871.7 L480.6,868.8 L482.7,869.5 L484.7,864.6 L486.8,870.6 L488.9,866.1 L490.9,859.3 L493.0,864.1 L495.0,857.5 L497.1,856.3 L499.2,853.3 L501.2,845.7 L503.3,842.3 L505.3,842.0 L507.4,834.7 L509.5,836.1 L511.5,842.2 L513.6,839.4 L515.6,831.0 L517.7,847.1 L519.8,832.1 L521.8,837.6 L523.9,841.3 L525.9,846.3 L528.0,837.6 L530.1,842.5 L532.1,844.9 L534.2,854.2 L536.2,853.6 L538.3,854.3 L540.4,855.5 L542.4,863.5 L544.5,858.4 L546.5,858.2 L548.6,848.8 L550.7,855.6 L552.7,847.1 L554.8,856.8 L556.8,855.1 L558.9,848.7 L561.0,846.0 L563.0,850.8 L565.1,851.9 L567.1,846.7 L569.2,845.0 L571.3,843.0 L573.3,839.3 L575.4,838.4 L577.4,838.9 L579.5,842.9 L581.6,838.6 L583.6,829.7 L585.7,839.1 L587.7,838.0 L589.8,828.4 L591.9,832.6 L593.9,824.4 L596.0,817.8 L598.0,819.2 L600.1,831.3 L602.2,824.8 L604.2,823.2 L606.3,821.1 L608.3,817.3 L610.4,820.8 L612.5,822.1 L614.5,828.6 L616.6,813.6 L618.6,822.7 L620.7,819.9 L622.8,804.8 L624.8,816.3 L626.9,822.4 L628.9,819.6 L631.0,813.6 L633.1,811.4 L635.1,798.6 L637.2,808.3 L639.2,809.6 L641.3,802.4 L643.4,806.7 L645.4,802.4 L647.5,816.9 L649.5,799.9 L651.6,796.6 L653.7,788.8 L655.7,796.0 L657.8,799.8 L659.8,798.5 L661.9,793.4 L664.0,799.8 L666.0,796.6 L668.1,799.9 L670.1,792.2 L672.2,779.9 L674.3,785.8 L676.3,781.5 L678.4,789.6 L680.4,782.4 L682.5,781.6 L684.6,782.2 L686.6,772.7 L688.7,776.3 L690.7,783.9 L692.8,776.1 L694.9,775.6 L696.9,777.0 L699.0,771.6 L701.0,771.8 L703.1,775.5 L705.2,770.7 L707.2,771.3 L709.3,769.4 L711.3,763.4 L713.4,759.9 L715.5,783.7 L717.5,777.3 L719.6,766.9 L721.6,770.3 L723.7,771.5 L725.8,774.0 L727.8,760.9 L729.9,752.0 L731.9,750.8 L734.0,754.4 L736.1,765.9 L738.1,768.5 L740.2,757.9 L742.2,754.9 L744.3,763.8 L746.4,770.7 L748.4,754.4 L750.5,759.0 L752.5,759.0 L754.6,756.1 L756.7,755.7 L758.7,755.9 L760.8,758.0 L762.8,749.7 L764.9,757.0 L767.0,763.7 L769.0,764.7 L771.1,765.1 L773.1,762.6 L775.2,761.4 L777.3,771.6 L779.3,761.5 L781.4,760.9 L783.4,767.7 L785.5,761.7 L787.6,751.8 L789.6,753.6 L791.7,754.2 L793.7,754.9 L795.8,752.5 L797.9,759.6 L799.9,759.0 L802.0,757.0 L804.0,751.5 L806.1,758.9 L808.2,760.7 L810.2,768.0 L812.3,753.5 L814.3,753.5 L816.4,763.3 L818.5,751.4 L820.5,756.8 L822.6,758.9 L824.6,758.5 L826.7,753.1 L828.8,758.2 L830.8,751.2 L832.9,765.4 L834.9,759.4 L837.0,761.7 L839.1,762.1 L841.1,764.5 L843.2,764.2 L845.2,766.4 L847.3,762.9 L849.4,764.9 L851.4,759.4 L853.5,758.9 L855.5,760.7 L857.6,760.6 L859.7,758.8 L861.7,763.1 L863.8,771.6 L865.8,772.2 L867.9,767.3 L870.0,770.7 L872.0,772.1 L874.1,785.6 L876.1,763.9 L878.2,769.4 L880.3,762.7 L882.3,775.7 L884.4,770.5 L886.4,772.6 L888.5,772.2 L890.6,774.9 L892.6,755.0 L894.7,761.0 L896.7,771.5 L898.8,768.2 L900.9,781.9 L902.9,793.3 L905.0,785.0 L907.0,791.7 L909.1,803.9 L911.2,817.3 L913.2,819.3 L915.3,821.2 L917.3,815.4 L919.4,821.5 L921.5,825.7 L923.5,824.2 L925.6,831.2 L927.6,830.5 L929.7,831.1 L931.8,847.0 L933.8,839.6 L935.9,850.2 L937.9,842.4 L940.0,843.5 L942.1,839.5 L944.1,843.8 L946.2,858.1 L948.2,854.0 L950.3,843.3 L952.4,861.2 L954.4,854.6 L956.5,856.4 L958.5,860.8 L960.6,853.2 L962.7,871.1 L964.7,875.2 L966.8,868.0 L968.8,871.5 L970.9,870.5 L973.0,869.9 L975.0,873.3 L977.1,869.2 L979.1,875.3 L981.2,877.7 L983.3,892.7 L985.3,880.3 L987.4,893.8 L989.4,897.1 L991.5,896.8 L993.6,895.6 L995.6,910.2 L997.7,913.8 L999.7,908.1 L1001.8,907.6 L1003.9,911.2 L1005.9,921.6 L1008.0,909.4 L1010.0,914.6 L1012.1,922.3 L1014.2,912.0 L1016.2,917.2 L1018.3,925.9 L1020.3,920.0 L1022.4,921.8 L1024.5,916.2 L1026.5,925.7 L1028.6,921.3 L1030.6,925.0 L1032.7,931.0 L1034.8,929.0 L1036.8,936.8 L1038.9,941.9 L1040.9,939.7 L1043.0,947.0 L1045.1,940.5 L1047.1,931.4 L1049.2,946.1 L1051.2,950.7 L1053.3,946.4 L1055.4,945.2 L1057.4,956.4 L1059.5,951.7 L1061.5,953.0 L1063.6,954.6 L1065.7,969.7 L1067.7,959.4 L1069.8,949.0 L1071.8,958.6 L1073.9,960.2 L1076.0,957.4 L1078.0,967.2 L1080.1,965.7 L1082.1,975.0 L1084.2,972.2 L1086.3,979.7 L1088.3,981.7 L1090.4,978.5 L1092.4,982.6 L1094.5,989.7 L1096.6,986.9 L1098.6,977.4 L1100.7,983.8 L1102.7,987.3 L1104.8,993.8 L1106.9,989.9 L1108.9,995.8 L1111.0,992.7 L1113.0,993.6 L1115.1,994.0 L1117.2,996.3 L1119.2,997.2 L1121.3,1000.6 L1123.3,997.4 L1125.4,996.3 L1127.5,1001.7 L1129.5,1004.9 L1131.6,1003.8 L1133.6,1008.0 L1135.7,1009.6 L1137.8,1016.7 L1139.8,1004.8 L1141.9,1018.3 L1143.9,1003.1 L1146.0,1002.6 L1148.1,1013.2 L1150.1,1010.5 L1152.2,1013.2 L1154.2,1014.0 L1156.3,1010.9 L1158.4,1005.7 L1160.4,1016.0 L1162.5,1021.1 L1164.5,1023.8 L1166.6,1023.0 L1168.7,1021.3 L1170.7,1030.8 L1172.8,1016.0 L1174.8,1023.6 L1176.9,1032.1 L1179.0,1035.8 L1181.0,1035.3 L1183.1,1036.5 L1185.1,1036.2 L1187.2,1032.9 L1189.3,1022.6 L1191.3,1028.8 L1193.4,1032.2 L1195.4,1041.3 L1197.5,1034.9 L1199.6,1034.0 L1201.6,1039.0 L1203.7,1033.3 L1205.7,1036.6 L1207.8,1040.2 L1209.9,1037.2 L1211.9,1037.9 L1214.0,1031.0 L1216.0,1032.1 L1218.1,1037.2 L1220.2,1044.5 L1222.2,1038.6 L1224.3,1035.9 L1226.3,1036.4 L1228.4,1043.2 L1230.5,1035.9 L1232.5,1041.3 L1234.6,1041.0 L1236.6,1042.9 L1238.7,1040.3 L1240.8,1043.8 L1242.8,1050.6 L1244.9,1045.3 L1246.9,1043.6 L1249.0,1035.2 L1251.1,1047.0 L1253.1,1043.7 L1255.2,1049.7 L1257.2,1050.1 L1259.3,1046.7 L1261.4,1047.1 L1263.4,1044.8 L1265.5,1059.0 L1267.5,1058.0 L1269.6,1057.1 L1271.7,1059.1 L1273.7,1060.8 L1275.8,1059.2 L1277.8,1059.9 L1279.9,1066.7 L1282.0,1050.7 L1284.0,1055.5 L1286.1,1054.2 L1288.1,1056.8 L1290.2,1046.9 L1292.3,1051.2 L1294.3,1060.9 L1296.4,1054.2 L1298.4,1060.4 L1300.5,1056.6 L1302.6,1058.5 L1304.6,1053.8 L1306.7,1056.9 L1308.7,1054.3 L1310.8,1062.6 L1312.9,1055.2 L1314.9,1062.3 L1317.0,1060.9 L1319.0,1062.1 L1321.1,1069.5 L1323.2,1064.2 L1325.2,1061.3 L1327.3,1064.0 L1329.3,1067.6 L1331.4,1063.1 L1333.5,1071.5 L1335.5,1067.1 L1337.6,1063.5 L1339.6,1061.8 L1341.7,1063.7 L1343.8,1067.1 L1345.8,1069.9 L1347.9,1066.2 L1349.9,1062.6 L1352.0,1064.3 L1354.1,1056.1 L1356.1,1067.8 L1358.2,1069.5 L1360.2,1065.0 L1362.3,1067.9 L1364.4,1061.6 L1366.4,1071.9 L1368.5,1066.4 L1370.5,1063.6 L1372.6,1074.1 L1374.7,1064.0 L1376.7,1067.4 L1378.8,1063.6 L1380.8,1064.0 L1382.9,1065.6 L1385.0,1064.1 L1387.0,1073.4 L1389.1,1074.0 L1391.1,1067.0 L1393.2,1078.1 L1395.3,1070.8 L1397.3,1068.3 L1399.4,1070.9 L1401.4,1065.6 L1403.5,1074.5 L1405.6,1067.4 L1407.6,1061.4 L1409.7,1073.8 L1411.7,1067.8 L1413.8,1069.0 L1415.9,1065.8 L1417.9,1068.4 L1420.0,1071.5 L1422.0,1061.8 L1424.1,1069.5 L1426.2,1068.7 L1428.2,1077.4 L1430.3,1082.1 L1432.3,1076.7 L1434.4,1075.8 L1436.5,1078.0 L1438.5,1078.6 L1440.6,1068.5 L1442.6,1067.0 L1444.7,1070.7 L1446.8,1067.9 L1448.8,1071.7 L1450.9,1074.6 L1452.9,1071.4 L1455.0,1076.0 L1457.1,1081.2 L1459.1,1076.5 L1461.2,1077.0 L1463.2,1075.4 L1465.3,1074.9 L1467.4,1071.9 L1469.4,1070.1 L1471.5,1076.4 L1473.5,1079.9 L1475.6,1076.2 L1477.7,1075.0 L1479.7,1068.9 L1481.8,1072.1 L1483.8,1075.1 L1485.9,1073.7 L1488.0,1073.8 L1490.0,1069.4 L1492.1,1067.2 L1494.1,1071.1 L1496.2,1079.0 L1498.3,1072.7 L1500.3,1066.5 L1502.4,1069.0 L1504.4,1071.7 L1506.5,1078.0 L1508.6,1078.8 L1510.6,1071.1 L1512.7,1068.8 L1514.7,1071.9 L1516.8,1073.7 L1518.9,1070.1 L1520.9,1077.4 L1523.0,1073.5 L1525.0,1075.3 L1527.1,1074.2 L1529.2,1076.8 L1531.2,1074.8 L1533.3,1075.8 L1535.3,1080.1 L1537.4,1076.7 L1539.5,1080.7 L1541.5,1070.4 L1543.6,1072.3 L1545.6,1069.5 L1547.7,1066.9 L1549.8,1071.9 L1551.8,1080.8 L1553.9,1075.4 L1555.9,1076.8 L1558.0,1065.3 L1560.1,1071.4 L1562.1,1067.4 L1564.2,1071.7 L1566.2,1076.1 L1568.3,1070.6 L1570.4,1075.7 L1572.4,1069.3 L1574.5,1071.3 L1576.5,1069.1 L1578.6,1071.3 L1580.7,1070.9 L1582.7,1062.3 L1584.8,1068.1 L1586.8,1069.1 L1588.9,1077.9 L1591.0,1062.6 L1593.0,1069.5 L1595.1,1074.8 L1597.1,1079.9 L1599.2,1078.4 L1601.3,1072.3 L1603.3,1077.3 L1605.4,1072.1 L1607.4,1070.5 L1609.5,1069.8 L1611.6,1069.5 L1613.6,1077.3 L1615.7,1066.2 L1617.7,1064.4 L1619.8,1075.5 L1621.9,1076.6 L1623.9,1078.8 L1626.0,1075.6 L1628.0,1079.3 L1630.1,1077.1 L1632.2,1075.8 L1634.2,1076.1 L1636.3,1078.7 L1638.3,1079.0 L1640.4,1077.2 L1642.5,1085.0 L1644.5,1082.2 L1646.6,1078.1 L1648.6,1073.6 L1650.7,1077.8 L1652.8,1072.7 L1654.8,1074.4 L1656.9,1074.1 L1658.9,1075.1 L1661.0,1079.7 L1663.1,1066.9 L1665.1,1083.2 L1667.2,1083.2 L1669.2,1078.9 L1671.3,1077.7 L1673.4,1083.2 L1675.4,1081.1 L1677.5,1088.2 L1679.5,1082.4 L1681.6,1077.9 L1683.7,1075.5 L1685.7,1080.8 L1687.8,1086.8 L1689.8,1078.9 L1691.9,1087.4 L1694.0,1088.1 L1696.0,1083.4 L1698.1,1089.2 L1700.1,1078.6 L1702.2,1074.6 L1704.3,1084.5 L1706.3,1087.5 L1708.4,1087.8 L1710.4,1086.4 L1712.5,1080.6 L1714.6,1087.9 L1716.6,1086.3 L1718.7,1092.0 L1720.7,1089.6 L1722.8,1083.8 L1724.9,1090.1 L1726.9,1092.8 L1729.0,1093.3 L1731.0,1087.6 L1733.1,1085.4 L1735.2,1092.8 L1737.2,1091.3 L1739.3,1090.8 L1741.3,1095.6 L1743.4,1097.1 L1745.5,1095.4 L1747.5,1092.4 L1749.6,1099.1 L1751.6,1090.7 L1753.7,1093.1 L1755.8,1095.7 L1757.8,1089.6 L1759.9,1088.0 L1761.9,1098.5 L1764.0,1096.4 L1766.1,1092.1 L1768.1,1102.6 L1770.2,1099.4 L1772.2,1098.3 L1774.3,1105.5 L1776.4,1094.3 L1778.4,1095.7 L1780.5,1095.4 L1782.5,1104.4 L1784.6,1098.3 L1786.7,1109.5 L1788.7,1105.2 L1790.8,1103.4 L1792.8,1106.3 L1794.9,1102.6 L1797.0,1099.3 L1799.0,1100.3 L1801.1,1103.4 L1803.1,1100.4 L1805.2,1104.3 L1807.3,1102.6 L1809.3,1104.0 L1811.4,1105.2 L1813.4,1112.2 L1815.5,1116.7 L1817.6,1120.9 L1819.6,1108.2 L1821.7,1104.8 L1823.7,1111.6 L1825.8,1114.5 L1827.9,1113.5 L1829.9,1107.5 L1832.0,1110.1 L1834.0,1108.8 L1836.1,1116.0 L1838.2,1114.6 L1840.2,1112.0 L1842.3,1109.2 L1844.3,1117.4 L1846.4,1113.3 L1848.5,1114.8 L1850.5,1114.5 L1852.6,1115.4 L1854.6,1117.4 L1856.7,1112.0 L1858.8,1110.7 L1860.8,1115.0 L1862.9,1101.2 L1864.9,1110.6 L1867.0,1111.8 L1869.1,1116.5 L1871.1,1116.2 L1873.2,1114.1 L1875.2,1110.2 L1877.3,1113.5 L1879.4,1114.0 L1881.4,1115.7 L1883.5,1116.9 L1885.5,1113.7 L1887.6,1118.0 L1889.7,1115.2 L1891.7,1118.3 L1893.8,1118.8 L1895.8,1122.8 L1897.9,1119.0 L1900.0,1124.5 L1902.0,1118.5 L1904.1,1115.2 L1906.1,1120.9 L1908.2,1115.2 L1910.3,1120.1 L1912.3,1121.8 L1914.4,1121.3 L1916.4,1122.3 L1918.5,1122.0 L1920.6,1126.3 L1922.6,1122.1 L1924.7,1114.2 L1926.7,1119.1 L1928.8,1125.3 L1930.9,1127.2 L1932.9,1126.4 L1935.0,1124.5 L1937.0,1120.1 L1939.1,1129.1 L1941.2,1123.3 L1943.2,1119.9 L1945.3,1114.7 L1947.3,1130.4 L1949.4,1126.8 L1951.5,1118.6 L1953.5,1127.7 L1955.6,1129.3 L1957.6,1120.6 L1959.7,1128.3 L1961.8,1127.6 L1963.8,1129.7 L1965.9,1133.1 L1967.9,1126.8 L1970.0,1135.8 L1972.1,1129.4 L1974.1,1126.0 L1976.2,1132.6 L1978.2,1127.3 L1980.3,1127.2 L1982.4,1132.1 L1984.4,1126.8 L1986.5,1123.9 L1988.5,1129.9 L1990.6,1130.2 L1992.7,1128.1 L1994.7,1133.5 L1996.8,1126.9 L1998.8,1132.6 L2000.9,1127.5 L2003.0,1131.9 L2005.0,1126.9 L2007.1,1132.7 L2009.1,1131.6 L2011.2,1129.7 L2013.3,1131.3 L2015.3,1131.0 L2017.4,1134.5 L2019.4,1129.7 L2021.5,1132.9 L2023.6,1130.7 L2025.6,1129.0 L2027.7,1129.2 L2029.7,1127.1 L2031.8,1132.0 L2033.9,1132.2 L2035.9,1133.0 L2038.0,1125.9 L2040.0,1128.7 L2042.1,1136.9 L2044.2,1137.4 L2046.2,1132.3 L2048.3,1131.7 L2050.3,1132.6 L2052.4,1136.0 L2054.5,1138.3 L2056.5,1134.3 L2058.6,1133.3 L2060.6,1132.4 L2062.7,1133.6 L2064.8,1139.3 L2066.8,1131.5 L2068.9,1134.5 L2070.9,1129.0 L2073.0,1127.9 L2075.1,1125.9 L2077.1,1129.5 L2079.2,1138.2 L2081.2,1140.6 L2083.3,1137.8 L2085.4,1134.2 L2087.4,1137.8 L2089.5,1130.9 L2091.5,1128.1 L2093.6,1127.0 L2095.7,1133.1 L2097.7,1127.8 L2099.8,1130.6 L2101.8,1143.7 L2103.9,1135.9 L2106.0,1133.9 L2108.0,1133.0 L2110.1,1138.1 L2112.1,1139.1 L2114.2,1137.2 L2116.3,1136.0 L2118.3,1128.8 L2120.4,1130.0 L2122.4,1134.7 L2124.5,1135.2 L2126.6,1136.3 L2128.6,1136.2 L2130.7,1144.7 L2132.7,1144.4 L2134.8,1136.0 L2136.9,1141.3 L2138.9,1141.7 L2141.0,1140.2 L2143.0,1139.4 L2145.1,1141.7" fill="none" stroke="#6600DB" stroke-width="12" stroke-linejoin="round" stroke-linecap="butt" shape-rendering="crispEdges"/>
<path d="M13.0,1294.7 L15.1,1294.5 L17.1,1299.0 L19.2,1295.6 L21.2,1299.9 L23.3,1300.4 L25.4,1292.7 L27.4,1299.1 L29.5,1295.2 L31.5,1302.9 L33.6,1299.9 L35.7,1294.4 L37.7,1295.7 L39.8,1295.9 L41.8,1296.0 L43.9,1299.4 L46.0,1296.9 L48.0,1299.7 L50.1,1296.7 L52.1,1292.8 L54.2,1287.3 L56.3,1285.8 L58.3,1291.4 L60.4,1293.9 L62.4,1296.4 L64.5,1289.5 L66.6,1289.9 L68.6,1286.9 L70.7,1287.1 L72.7,1280.5 L74.8,1289.0 L76.9,1285.6 L78.9,1286.3 L81.0,1287.9 L83.0,1287.3 L85.1,1280.9 L87.2,1288.9 L89.2,1287.7 L91.3,1285.6 L93.3,1280.7 L95.4,1275.9 L97.5,1274.4 L99.5,1278.7 L101.6,1280.3 L103.6,1276.9 L105.7,1284.5 L107.8,1280.3 L109.8,1281.0 L111.9,1280.5 L113.9,1272.8 L116.0,1278.0 L118.1,1277.0 L120.1,1269.9 L122.2,1275.1 L124.2,1277.3 L126.3,1276.6 L128.4,1276.3 L130.4,1267.0 L132.5,1268.8 L134.5,1268.0 L136.6,1269.4 L138.7,1269.5 L140.7,1272.7 L142.8,1271.5 L144.8,1265.0 L146.9,1269.4 L149.0,1272.8 L151.0,1268.0 L153.1,1259.8 L155.1,1260.8 L157.2,1262.5 L159.3,1256.9 L161.3,1260.5 L163.4,1256.7 L165.4,1262.5 L167.5,1262.9 L169.6,1259.1 L171.6,1253.2 L173.7,1256.9 L175.7,1253.6 L177.8,1251.4 L179.9,1256.8 L181.9,1248.8 L184.0,1244.9 L186.0,1251.1 L188.1,1255.2 L190.2,1253.9 L192.2,1249.3 L194.3,1252.3 L196.3,1242.7 L198.4,1249.0 L200.5,1249.4 L202.5,1238.6 L204.6,1237.9 L206.6,1230.3 L208.7,1228.1 L210.8,1232.6 L212.8,1225.4 L214.9,1227.6 L216.9,1228.1 L219.0,1225.7 L221.1,1227.5 L223.1,1236.3 L225.2,1224.5 L227.2,1226.2 L229.3,1229.1 L231.4,1222.5 L233.4,1221.0 L235.5,1215.1 L237.5,1226.1 L239.6,1232.1 L241.7,1231.3 L243.7,1238.0 L245.8,1237.7 L247.8,1234.5 L249.9,1230.5 L252.0,1226.3 L254.0,1229.1 L256.1,1231.0 L258.1,1228.5 L260.2,1226.5 L262.3,1225.2 L264.3,1228.6 L266.4,1219.2 L268.4,1221.7 L270.5,1223.4 L272.6,1225.2 L274.6,1224.7 L276.7,1220.0 L278.7,1216.8 L280.8,1213.1 L282.9,1220.9 L284.9,1219.4 L287.0,1216.2 L289.0,1209.3 L291.1,1207.1 L293.2,1214.4 L295.2,1210.0 L297.3,1209.3 L299.3,1213.4 L301.4,1199.3 L303.5,1197.7 L305.5,1201.1 L307.6,1201.3 L309.6,1190.7 L311.7,1193.5 L313.8,1190.4 L315.8,1188.2 L317.9,1190.5 L319.9,1188.8 L322.0,1190.9 L324.1,1187.6 L326.1,1189.0 L328.2,1178.3 L330.2,1179.5 L332.3,1171.0 L334.4,1166.4 L336.4,1165.4 L338.5,1172.7 L340.5,1170.5 L342.6,1160.2 L344.7,1169.2 L346.7,1168.5 L348.8,1161.3 L350.8,1158.0 L352.9,1156.9 L355.0,1149.9 L357.0,1162.3 L359.1,1151.2 L361.1,1147.8 L363.2,1145.4 L365.3,1141.7 L367.3,1138.2 L369.4,1141.4 L371.4,1133.5 L373.5,1130.7 L375.6,1129.9 L377.6,1135.2 L379.7,1126.6 L381.7,1122.8 L383.8,1126.7 L385.9,1119.3 L387.9,1119.5 L390.0,1123.8 L392.0,1120.8 L394.1,1116.6 L396.2,1121.1 L398.2,1111.6 L400.3,1106.9 L402.3,1099.3 L404.4,1104.5 L406.5,1106.9 L408.5,1099.4 L410.6,1107.9 L412.6,1104.3 L414.7,1100.8 L416.8,1088.4 L418.8,1091.1 L420.9,1090.6 L422.9,1071.1 L425.0,1081.6 L427.1,1080.1 L429.1,1070.2 L431.2,1076.9 L433.2,1084.2 L435.3,1076.9 L437.4,1065.2 L439.4,1063.9 L441.5,1068.7 L443.5,1058.0 L445.6,1059.2 L447.7,1056.3 L449.7,1054.2 L451.8,1059.2 L453.8,1042.5 L455.9,1050.3 L458.0,1046.3 L460.0,1041.2 L462.1,1030.6 L464.1,1036.5 L466.2,1032.5 L468.3,1016.4 L470.3,1019.1 L472.4,1018.9 L474.4,1017.2 L476.5,1016.5 L478.6,1012.4 L480.6,1020.4 L482.7,1015.9 L484.7,1004.7 L486.8,1006.6 L488.9,1008.1 L490.9,997.1 L493.0,983.5 L495.0,989.1 L497.1,995.2 L499.2,982.2 L501.2,983.6 L503.3,988.6 L505.3,990.0 L507.4,987.6 L509.5,983.9 L511.5,979.9 L513.6,976.5 L515.6,984.1 L517.7,985.2 L519.8,977.4 L521.8,975.1 L523.9,986.2 L525.9,988.5 L528.0,980.6 L530.1,975.9 L532.1,986.3 L534.2,993.7 L536.2,996.8 L538.3,997.1 L540.4,980.3 L542.4,990.4 L544.5,989.6 L546.5,986.9 L548.6,1003.8 L550.7,992.9 L552.7,990.6 L554.8,987.2 L556.8,992.9 L558.9,993.6 L561.0,985.6 L563.0,984.3 L565.1,981.4 L567.1,976.9 L569.2,979.7 L571.3,982.3 L573.3,979.9 L575.4,976.6 L577.4,966.1 L579.5,974.5 L581.6,974.4 L583.6,979.9 L585.7,968.0 L587.7,959.8 L589.8,954.3 L591.9,958.9 L593.9,961.9 L596.0,962.8 L598.0,951.8 L600.1,953.9 L602.2,962.4 L604.2,957.9 L606.3,953.4 L608.3,951.7 L610.4,944.0 L612.5,942.4 L614.5,946.4 L616.6,956.0 L618.6,956.6 L620.7,948.3 L622.8,950.1 L624.8,948.9 L626.9,951.7 L628.9,941.3 L631.0,943.5 L633.1,947.4 L635.1,934.9 L637.2,937.9 L639.2,940.8 L641.3,940.4 L643.4,940.2 L645.4,939.7 L647.5,941.1 L649.5,942.8 L651.6,936.6 L653.7,944.6 L655.7,930.9 L657.8,928.3 L659.8,930.4 L661.9,923.8 L664.0,917.5 L666.0,916.4 L668.1,929.3 L670.1,920.8 L672.2,913.4 L674.3,929.3 L676.3,923.1 L678.4,918.8 L680.4,910.5 L682.5,914.5 L684.6,910.0 L686.6,911.8 L688.7,909.7 L690.7,906.7 L692.8,907.7 L694.9,900.6 L696.9,900.8 L699.0,898.3 L701.0,903.7 L703.1,906.1 L705.2,909.4 L707.2,889.9 L709.3,906.8 L711.3,899.3 L713.4,896.8 L715.5,896.6 L717.5,896.0 L719.6,902.9 L721.6,897.5 L723.7,896.5 L725.8,900.0 L727.8,902.5 L729.9,889.1 L731.9,879.8 L734.0,880.2 L736.1,879.2 L738.1,891.7 L740.2,892.9 L742.2,891.6 L744.3,893.4 L746.4,893.4 L748.4,898.3 L750.5,902.1 L752.5,888.1 L754.6,898.1 L756.7,898.3 L758.7,887.0 L760.8,890.3 L762.8,887.9 L764.9,879.8 L767.0,888.3 L769.0,880.8 L771.1,888.5 L773.1,884.3 L775.2,887.2 L777.3,894.8 L779.3,892.4 L781.4,886.4 L783.4,891.4 L785.5,895.5 L787.6,897.8 L789.6,888.0 L791.7,897.3 L793.7,892.3 L795.8,888.6 L797.9,898.2 L799.9,897.1 L802.0,896.7 L804.0,893.5 L806.1,881.6 L808.2,892.0 L810.2,895.0 L812.3,890.9 L814.3,900.1 L816.4,893.0 L818.5,899.7 L820.5,898.4 L822.6,886.7 L824.6,883.3 L826.7,885.8 L828.8,887.8 L830.8,892.2 L832.9,885.7 L834.9,881.5 L837.0,899.4 L839.1,891.1 L841.1,890.0 L843.2,898.8 L845.2,891.2 L847.3,875.2 L849.4,888.3 L851.4,885.4 L853.5,893.4 L855.5,879.3 L857.6,887.3 L859.7,893.3 L861.7,897.6 L863.8,895.8 L865.8,895.0 L867.9,889.8 L870.0,890.3 L872.0,887.7 L874.1,901.4 L876.1,910.8 L878.2,909.0 L880.3,901.1 L882.3,896.0 L884.4,898.2 L886.4,907.8 L888.5,898.4 L890.6,886.4 L892.6,885.7 L894.7,891.8 L896.7,885.5 L898.8,887.2 L900.9,891.0 L902.9,890.7 L905.0,914.8 L907.0,908.2 L909.1,916.1 L911.2,927.0 L913.2,925.8 L915.3,927.8 L917.3,933.7 L919.4,939.2 L921.5,941.9 L923.5,943.8 L925.6,947.1 L927.6,953.3 L929.7,965.2 L931.8,958.1 L933.8,964.7 L935.9,963.3 L937.9,960.4 L940.0,960.8 L942.1,970.7 L944.1,965.9 L946.2,975.4 L948.2,975.2 L950.3,987.1 L952.4,976.8 L954.4,987.0 L956.5,992.8 L958.5,992.1 L960.6,985.4 L962.7,991.2 L964.7,992.9 L966.8,993.0 L968.8,999.9 L970.9,997.7 L973.0,1000.0 L975.0,1006.5 L977.1,1003.0 L979.1,1002.1 L981.2,1006.6 L983.3,1005.4 L985.3,997.3 L987.4,1006.5 L989.4,1012.2 L991.5,1009.4 L993.6,1006.8 L995.6,1019.9 L997.7,1018.7 L999.7,1026.2 L1001.8,1028.7 L1003.9,1035.9 L1005.9,1034.3 L1008.0,1037.0 L1010.0,1041.7 L1012.1,1035.6 L1014.2,1043.0 L1016.2,1046.9 L1018.3,1034.0 L1020.3,1036.5 L1022.4,1045.2 L1024.5,1056.1 L1026.5,1049.5 L1028.6,1044.6 L1030.6,1044.1 L1032.7,1054.9 L1034.8,1058.3 L1036.8,1055.8 L1038.9,1061.4 L1040.9,1060.9 L1043.0,1069.4 L1045.1,1060.4 L1047.1,1064.1 L1049.2,1074.5 L1051.2,1069.5 L1053.3,1068.3 L1055.4,1071.4 L1057.4,1085.1 L1059.5,1081.5 L1061.5,1087.0 L1063.6,1078.7 L1065.7,1080.5 L1067.7,1088.1 L1069.8,1088.6 L1071.8,1086.1 L1073.9,1079.0 L1076.0,1091.9 L1078.0,1097.3 L1080.1,1097.9 L1082.1,1089.0 L1084.2,1089.8 L1086.3,1095.7 L1088.3,1096.2 L1090.4,1107.1 L1092.4,1100.8 L1094.5,1103.9 L1096.6,1102.5 L1098.6,1100.2 L1100.7,1113.3 L1102.7,1113.1 L1104.8,1109.3 L1106.9,1112.7 L1108.9,1104.2 L1111.0,1120.0 L1113.0,1112.4 L1115.1,1106.7 L1117.2,1110.4 L1119.2,1117.8 L1121.3,1118.7 L1123.3,1122.2 L1125.4,1123.7 L1127.5,1121.6 L1129.5,1126.2 L1131.6,1115.1 L1133.6,1123.7 L1135.7,1126.8 L1137.8,1127.3 L1139.8,1126.0 L1141.9,1124.9 L1143.9,1125.4 L1146.0,1121.6 L1148.1,1127.1 L1150.1,1136.5 L1152.2,1140.8 L1154.2,1133.7 L1156.3,1132.8 L1158.4,1134.0 L1160.4,1136.0 L1162.5,1138.7 L1164.5,1141.9 L1166.6,1147.5 L1168.7,1134.1 L1170.7,1135.9 L1172.8,1140.2 L1174.8,1143.4 L1176.9,1146.6 L1179.0,1153.9 L1181.0,1144.0 L1183.1,1149.2 L1185.1,1148.2 L1187.2,1148.9 L1189.3,1150.8 L1191.3,1154.1 L1193.4,1152.1 L1195.4,1146.8 L1197.5,1153.2 L1199.6,1155.4 L1201.6,1147.3 L1203.7,1154.7 L1205.7,1154.9 L1207.8,1154.7 L1209.9,1156.4 L1211.9,1164.4 L1214.0,1151.9 L1216.0,1157.4 L1218.1,1150.8 L1220.2,1157.7 L1222.2,1163.9 L1224.3,1153.6 L1226.3,1164.4 L1228.4,1164.8 L1230.5,1162.2 L1232.5,1162.0 L1234.6,1163.3 L1236.6,1164.6 L1238.7,1164.6 L1240.8,1169.8 L1242.8,1170.3 L1244.9,1163.5 L1246.9,1171.0 L1249.0,1176.6 L1251.1,1177.0 L1253.1,1171.7 L1255.2,1163.2 L1257.2,1166.6 L1259.3,1169.7 L1261.4,1170.7 L1263.4,1165.4 L1265.5,1173.4 L1267.5,1176.9 L1269.6,1168.1 L1271.7,1169.0 L1273.7,1168.8 L1275.8,1173.3 L1277.8,1179.3 L1279.9,1167.0 L1282.0,1179.9 L1284.0,1180.9 L1286.1,1171.1 L1288.1,1181.7 L1290.2,1182.7 L1292.3,1179.9 L1294.3,1178.7 L1296.4,1173.7 L1298.4,1178.8 L1300.5,1174.8 L1302.6,1177.7 L1304.6,1182.9 L1306.7,1178.3 L1308.7,1176.3 L1310.8,1181.4 L1312.9,1184.6 L1314.9,1185.5 L1317.0,1180.9 L1319.0,1186.9 L1321.1,1189.8 L1323.2,1182.0 L1325.2,1184.4 L1327.3,1175.5 L1329.3,1180.4 L1331.4,1178.1 L1333.5,1182.3 L1335.5,1180.2 L1337.6,1172.3 L1339.6,1183.1 L1341.7,1178.9 L1343.8,1186.7 L1345.8,1189.7 L1347.9,1186.3 L1349.9,1182.8 L1352.0,1183.5 L1354.1,1176.8 L1356.1,1181.7 L1358.2,1189.5 L1360.2,1186.4 L1362.3,1178.9 L1364.4,1188.0 L1366.4,1186.0 L1368.5,1179.1 L1370.5,1183.7 L1372.6,1179.2 L1374.7,1179.9 L1376.7,1182.7 L1378.8,1190.9 L1380.8,1195.3 L1382.9,1179.3 L1385.0,1182.0 L1387.0,1183.1 L1389.1,1186.7 L1391.1,1186.4 L1393.2,1182.3 L1395.3,1185.6 L1397.3,1182.6 L1399.4,1181.3 L1401.4,1187.2 L1403.5,1187.1 L1405.6,1184.0 L1407.6,1189.0 L1409.7,1186.3 L1411.7,1182.4 L1413.8,1187.3 L1415.9,1191.5 L1417.9,1187.7 L1420.0,1195.7 L1422.0,1191.0 L1424.1,1192.2 L1426.2,1195.1 L1428.2,1192.6 L1430.3,1189.5 L1432.3,1190.8 L1434.4,1195.9 L1436.5,1198.1 L1438.5,1195.7 L1440.6,1190.5 L1442.6,1187.2 L1444.7,1188.1 L1446.8,1188.6 L1448.8,1191.2 L1450.9,1190.4 L1452.9,1186.8 L1455.0,1191.8 L1457.1,1187.0 L1459.1,1188.7 L1461.2,1185.8 L1463.2,1192.2 L1465.3,1191.0 L1467.4,1189.4 L1469.4,1192.9 L1471.5,1192.9 L1473.5,1183.5 L1475.6,1187.6 L1477.7,1183.7 L1479.7,1184.4 L1481.8,1185.4 L1483.8,1181.3 L1485.9,1181.2 L1488.0,1186.7 L1490.0,1187.9 L1492.1,1189.5 L1494.1,1187.1 L1496.2,1185.4 L1498.3,1185.5 L1500.3,1185.6 L1502.4,1183.7 L1504.4,1186.8 L1506.5,1183.3 L1508.6,1182.1 L1510.6,1180.0 L1512.7,1186.2 L1514.7,1182.6 L1516.8,1185.3 L1518.9,1187.1 L1520.9,1183.3 L1523.0,1186.9 L1525.0,1187.4 L1527.1,1186.8 L1529.2,1174.4 L1531.2,1189.4 L1533.3,1189.9 L1535.3,1189.8 L1537.4,1194.5 L1539.5,1184.4 L1541.5,1194.2 L1543.6,1188.2 L1545.6,1191.1 L1547.7,1193.3 L1549.8,1184.9 L1551.8,1188.5 L1553.9,1186.3 L1555.9,1189.9 L1558.0,1183.2 L1560.1,1194.5 L1562.1,1192.1 L1564.2,1188.4 L1566.2,1185.4 L1568.3,1193.7 L1570.4,1188.1 L1572.4,1191.7 L1574.5,1184.8 L1576.5,1190.0 L1578.6,1181.6 L1580.7,1188.4 L1582.7,1184.7 L1584.8,1183.4 L1586.8,1191.1 L1588.9,1191.7 L1591.0,1186.1 L1593.0,1184.4 L1595.1,1191.6 L1597.1,1182.6 L1599.2,1183.9 L1601.3,1184.8 L1603.3,1187.5 L1605.4,1188.1 L1607.4,1187.8 L1609.5,1183.7 L1611.6,1189.0 L1613.6,1191.5 L1615.7,1187.4 L1617.7,1196.6 L1619.8,1190.0 L1621.9,1190.4 L1623.9,1199.0 L1626.0,1192.0 L1628.0,1191.2 L1630.1,1186.2 L1632.2,1191.5 L1634.2,1191.3 L1636.3,1194.3 L1638.3,1189.7 L1640.4,1200.2 L1642.5,1197.5 L1644.5,1198.6 L1646.6,1194.2 L1648.6,1187.8 L1650.7,1195.0 L1652.8,1195.7 L1654.8,1193.8 L1656.9,1202.0 L1658.9,1198.7 L1661.0,1197.1 L1663.1,1198.5 L1665.1,1198.5 L1667.2,1198.8 L1669.2,1200.6 L1671.3,1198.4 L1673.4,1195.8 L1675.4,1194.0 L1677.5,1198.0 L1679.5,1200.1 L1681.6,1201.7 L1683.7,1195.9 L1685.7,1192.0 L1687.8,1191.9 L1689.8,1203.7 L1691.9,1203.0 L1694.0,1200.1 L1696.0,1198.7 L1698.1,1208.7 L1700.1,1205.6 L1702.2,1204.5 L1704.3,1200.0 L1706.3,1206.2 L1708.4,1202.0 L1710.4,1199.8 L1712.5,1208.5 L1714.6,1206.8 L1716.6,1207.9 L1718.7,1200.2 L1720.7,1203.4 L1722.8,1203.0 L1724.9,1207.3 L1726.9,1207.5 L1729.0,1208.1 L1731.0,1205.7 L1733.1,1214.0 L1735.2,1205.7 L1737.2,1210.7 L1739.3,1210.6 L1741.3,1214.7 L1743.4,1208.2 L1745.5,1214.7 L1747.5,1209.5 L1749.6,1212.5 L1751.6,1212.1 L1753.7,1222.1 L1755.8,1210.2 L1757.8,1210.0 L1759.9,1206.3 L1761.9,1208.7 L1764.0,1212.9 L1766.1,1213.1 L1768.1,1211.4 L1770.2,1211.9 L1772.2,1214.1 L1774.3,1216.0 L1776.4,1222.4 L1778.4,1219.0 L1780.5,1216.5 L1782.5,1215.1 L1784.6,1219.0 L1786.7,1222.4 L1788.7,1216.6 L1790.8,1220.5 L1792.8,1220.0 L1794.9,1209.5 L1797.0,1223.1 L1799.0,1222.7 L1801.1,1213.0 L1803.1,1209.1 L1805.2,1217.0 L1807.3,1216.2 L1809.3,1219.6 L1811.4,1217.1 L1813.4,1222.7 L1815.5,1217.2 L1817.6,1219.7 L1819.6,1221.6 L1821.7,1218.3 L1823.7,1222.3 L1825.8,1220.4 L1827.9,1219.5 L1829.9,1218.8 L1832.0,1210.5 L1834.0,1214.3 L1836.1,1226.8 L1838.2,1221.0 L1840.2,1218.1 L1842.3,1220.5 L1844.3,1221.5 L1846.4,1230.9 L1848.5,1221.1 L1850.5,1220.7 L1852.6,1226.8 L1854.6,1219.3 L1856.7,1218.6 L1858.8,1220.8 L1860.8,1223.9 L1862.9,1233.4 L1864.9,1234.8 L1867.0,1232.5 L1869.1,1238.0 L1871.1,1225.2 L1873.2,1233.8 L1875.2,1230.0 L1877.3,1233.5 L1879.4,1232.0 L1881.4,1227.4 L1883.5,1236.7 L1885.5,1240.2 L1887.6,1236.3 L1889.7,1231.7 L1891.7,1241.9 L1893.8,1228.0 L1895.8,1234.5 L1897.9,1232.8 L1900.0,1232.9 L1902.0,1239.7 L1904.1,1236.0 L1906.1,1240.6 L1908.2,1239.2 L1910.3,1243.2 L1912.3,1242.8 L1914.4,1242.3 L1916.4,1239.4 L1918.5,1238.7 L1920.6,1235.4 L1922.6,1240.2 L1924.7,1242.5 L1926.7,1237.7 L1928.8,1240.8 L1930.9,1237.4 L1932.9,1239.5 L1935.0,1236.3 L1937.0,1239.7 L1939.1,1244.6 L1941.2,1242.6 L1943.2,1234.6 L1945.3,1242.1 L1947.3,1240.4 L1949.4,1245.7 L1951.5,1244.9 L1953.5,1244.5 L1955.6,1240.9 L1957.6,1242.0 L1959.7,1239.0 L1961.8,1241.6 L1963.8,1244.9 L1965.9,1237.1 L1967.9,1239.8 L1970.0,1246.2 L1972.1,1239.2 L1974.1,1241.2 L1976.2,1244.4 L1978.2,1244.4 L1980.3,1245.5 L1982.4,1246.5 L1984.4,1248.4 L1986.5,1243.3 L1988.5,1245.3 L1990.6,1245.8 L1992.7,1240.1 L1994.7,1242.0 L1996.8,1247.0 L1998.8,1246.7 L2000.9,1247.9 L2003.0,1245.8 L2005.0,1245.4 L2007.1,1249.3 L2009.1,1239.6 L2011.2,1238.7 L2013.3,1245.4 L2015.3,1247.7 L2017.4,1249.6 L2019.4,1250.1 L2021.5,1248.6 L2023.6,1243.4 L2025.6,1248.7 L2027.7,1249.0 L2029.7,1244.4 L2031.8,1241.1 L2033.9,1245.2 L2035.9,1251.6 L2038.0,1248.9 L2040.0,1252.6 L2042.1,1248.0 L2044.2,1245.7 L2046.2,1245.9 L2048.3,1248.4 L2050.3,1249.8 L2052.4,1252.4 L2054.5,1249.2 L2056.5,1244.6 L2058.6,1245.3 L2060.6,1249.4 L2062.7,1248.9 L2064.8,1249.8 L2066.8,1247.4 L2068.9,1247.4 L2070.9,1247.4 L2073.0,1247.0 L2075.1,1249.8 L2077.1,1255.9 L2079.2,1251.1 L2081.2,1250.5 L2083.3,1243.3 L2085.4,1250.6 L2087.4,1249.7 L2089.5,1254.9 L2091.5,1253.4 L2093.6,1256.1 L2095.7,1248.3 L2097.7,1252.6 L2099.8,1254.7 L2101.8,1250.0 L2103.9,1255.2 L2106.0,1247.3 L2108.0,1251.4 L2110.1,1250.2 L2112.1,1254.4 L2114.2,1245.4 L2116.3,1253.6 L2118.3,1258.8 L2120.4,1249.8 L2122.4,1254.9 L2124.5,1250.1 L2126.6,1255.2 L2128.6,1257.6 L2130.7,1249.6 L2132.7,1258.2 L2134.8,1254.8 L2136.9,1253.5 L2138.9,1256.3 L2141.0,1257.6 L2143.0,1254.7 L2145.1,1256.3" fill="none" stroke="#808080" stroke-width="12" stroke-linejoin="round" stroke-linecap="butt" shape-rendering="crispEdges"/>
<path d="M13.0,1401.3 L15.1,1406.7 L17.1,1408.8 L19.2,1408.7 L21.2,1411.2 L23.3,1403.3 L25.4,1404.7 L27.4,1401.7 L29.5,1396.8 L31.5,1398.3 L33.6,1401.6 L35.7,1398.1 L37.7,1399.6 L39.8,1404.6 L41.8,1403.2 L43.9,1402.4 L46.0,1401.2 L48.0,1398.7 L50.1,1391.6 L52.1,1400.5 L54.2,1393.0 L56.3,1397.0 L58.3,1396.7 L60.4,1396.9 L62.4,1397.1 L64.5,1394.5 L66.6,1400.1 L68.6,1390.5 L70.7,1396.1 L72.7,1384.4 L74.8,1396.2 L76.9,1391.5 L78.9,1392.9 L81.0,1397.3 L83.0,1383.8 L85.1,1387.2 L87.2,1391.5 L89.2,1392.8 L91.3,1394.1 L93.3,1391.0 L95.4,1389.4 L97.5,1387.1 L99.5,1386.8 L101.6,1385.5 L103.6,1388.2 L105.7,1385.1 L107.8,1387.3 L109.8,1389.0 L111.9,1387.4 L113.9,1380.6 L116.0,1379.6 L118.1,1382.4 L120.1,1376.0 L122.2,1370.8 L124.2,1372.3 L126.3,1378.3 L128.4,1376.0 L130.4,1374.2 L132.5,1377.7 L134.5,1371.0 L136.6,1381.7 L138.7,1375.1 L140.7,1371.2 L142.8,1379.5 L144.8,1368.5 L146.9,1367.6 L149.0,1368.9 L151.0,1365.1 L153.1,1364.9 L155.1,1369.5 L157.2,1367.9 L159.3,1366.0 L161.3,1369.1 L163.4,1372.7 L165.4,1371.4 L167.5,1355.8 L169.6,1365.7 L171.6,1365.4 L173.7,1362.6 L175.7,1356.0 L177.8,1356.1 L179.9,1355.9 L181.9,1351.2 L184.0,1359.9 L186.0,1359.7 L188.1,1354.8 L190.2,1349.2 L192.2,1356.6 L194.3,1354.5 L196.3,1354.3 L198.4,1347.3 L200.5,1356.1 L202.5,1346.4 L204.6,1350.8 L206.6,1334.0 L208.7,1337.6 L210.8,1336.0 L212.8,1322.2 L214.9,1324.9 L216.9,1321.4 L219.0,1316.7 L221.1,1315.2 L223.1,1310.1 L225.2,1313.3 L227.2,1314.3 L229.3,1316.4 L231.4,1317.2 L233.4,1324.1 L235.5,1338.3 L237.5,1333.0 L239.6,1332.6 L241.7,1328.9 L243.7,1334.3 L245.8,1336.6 L247.8,1336.2 L249.9,1334.3 L252.0,1334.8 L254.0,1330.8 L256.1,1333.0 L258.1,1326.6 L260.2,1329.2 L262.3,1332.9 L264.3,1325.2 L266.4,1330.5 L268.4,1329.6 L270.5,1322.1 L272.6,1318.0 L274.6,1316.9 L276.7,1318.5 L278.7,1323.8 L280.8,1323.6 L282.9,1326.6 L284.9,1330.7 L287.0,1318.7 L289.0,1302.8 L291.1,1302.9 L293.2,1304.6 L295.2,1308.5 L297.3,1308.9 L299.3,1315.5 L301.4,1303.7 L303.5,1305.0 L305.5,1304.5 L307.6,1303.4 L309.6,1299.8 L311.7,1309.2 L313.8,1299.8 L315.8,1296.7 L317.9,1297.9 L319.9,1295.3 L322.0,1298.7 L324.1,1285.0 L326.1,1284.6 L328.2,1282.1 L330.2,1281.8 L332.3,1284.6 L334.4,1276.8 L336.4,1267.3 L338.5,1273.3 L340.5,1268.2 L342.6,1272.7 L344.7,1270.5 L346.7,1276.7 L348.8,1269.4 L350.8,1259.6 L352.9,1261.8 L355.0,1264.2 L357.0,1258.3 L359.1,1254.8 L361.1,1251.5 L363.2,1248.6 L365.3,1244.0 L367.3,1251.4 L369.4,1247.7 L371.4,1236.3 L373.5,1244.3 L375.6,1239.8 L377.6,1237.7 L379.7,1235.6 L381.7,1238.4 L383.8,1221.1 L385.9,1226.2 L387.9,1229.1 L390.0,1224.2 L392.0,1214.0 L394.1,1212.0 L396.2,1217.3 L398.2,1222.3 L400.3,1204.7 L402.3,1205.2 L404.4,1208.3 L406.5,1205.9 L408.5,1204.3 L410.6,1204.7 L412.6,1200.3 L414.7,1185.6 L416.8,1186.0 L418.8,1180.2 L420.9,1181.9 L422.9,1187.9 L425.0,1184.4 L427.1,1187.8 L429.1,1181.9 L431.2,1177.0 L433.2,1173.8 L435.3,1162.6 L437.4,1161.1 L439.4,1163.0 L441.5,1162.2 L443.5,1159.2 L445.6,1148.5 L447.7,1143.7 L449.7,1140.6 L451.8,1153.6 L453.8,1144.1 L455.9,1144.3 L458.0,1138.2 L460.0,1134.0 L462.1,1131.0 L464.1,1127.5 L466.2,1127.2 L468.3,1129.0 L470.3,1116.1 L472.4,1118.2 L474.4,1114.5 L476.5,1111.3 L478.6,1114.3 L480.6,1117.7 L482.7,1099.7 L484.7,1101.4 L486.8,1105.0 L488.9,1101.8 L490.9,1084.9 L493.0,1090.7 L495.0,1085.5 L497.1,1081.6 L499.2,1085.8 L501.2,1075.2 L503.3,1077.9 L505.3,1080.6 L507.4,1070.8 L509.5,1065.0 L511.5,1080.2 L513.6,1064.7 L515.6,1072.7 L517.7,1063.4 L519.8,1065.5 L521.8,1062.9 L523.9,1066.4 L525.9,1068.3 L528.0,1062.7 L530.1,1068.0 L532.1,1076.9 L534.2,1070.4 L536.2,1062.1 L538.3,1075.9 L540.4,1074.1 L542.4,1081.0 L544.5,1079.9 L546.5,1078.6 L548.6,1081.4 L550.7,1088.3 L552.7,1090.1 L554.8,1081.9 L556.8,1080.0 L558.9,1080.4 L561.0,1093.0 L563.0,1089.2 L565.1,1080.5 L567.1,1081.0 L569.2,1092.7 L571.3,1074.6 L573.3,1073.5 L575.4,1078.6 L577.4,1077.7 L579.5,1075.2 L581.6,1064.6 L583.6,1066.4 L585.7,1052.5 L587.7,1059.6 L589.8,1059.3 L591.9,1057.9 L593.9,1066.5 L596.0,1059.6 L598.0,1056.6 L600.1,1060.5 L602.2,1066.5 L604.2,1051.7 L606.3,1056.2 L608.3,1051.1 L610.4,1041.5 L612.5,1044.4 L614.5,1049.5 L616.6,1046.0 L618.6,1043.0 L620.7,1044.0 L622.8,1041.7 L624.8,1040.0 L626.9,1034.5 L628.9,1041.5 L631.0,1025.7 L633.1,1035.2 L635.1,1031.4 L637.2,1037.9 L639.2,1027.5 L641.3,1017.1 L643.4,1031.0 L645.4,1036.4 L647.5,1019.6 L649.5,1028.2 L651.6,1029.3 L653.7,1021.0 L655.7,1028.1 L657.8,1020.7 L659.8,1029.0 L661.9,1031.8 L664.0,1022.0 L666.0,1019.8 L668.1,1021.7 L670.1,1003.3 L672.2,1014.3 L674.3,1019.0 L676.3,1032.2 L678.4,1028.3 L680.4,1020.8 L682.5,1009.4 L684.6,1017.4 L686.6,1016.4 L688.7,1006.8 L690.7,1010.5 L692.8,1004.5 L694.9,1007.2 L696.9,991.0 L699.0,1014.2 L701.0,1007.6 L703.1,996.6 L705.2,1001.8 L707.2,995.5 L709.3,1002.2 L711.3,1012.2 L713.4,1009.1 L715.5,1001.4 L717.5,1001.3 L719.6,1002.5 L721.6,999.4 L723.7,997.2 L725.8,1000.1 L727.8,1001.9 L729.9,997.0 L731.9,1000.5 L734.0,992.4 L736.1,986.6 L738.1,984.9 L740.2,997.8 L742.2,993.7 L744.3,996.1 L746.4,992.4 L748.4,993.6 L750.5,997.1 L752.5,988.1 L754.6,990.4 L756.7,1003.6 L758.7,1008.8 L760.8,998.6 L762.8,996.3 L764.9,991.3 L767.0,987.3 L769.0,997.5 L771.1,1002.1 L773.1,998.0 L775.2,997.4 L777.3,989.8 L779.3,999.3 L781.4,996.2 L783.4,987.6 L785.5,998.5 L787.6,989.3 L789.6,986.0 L791.7,992.5 L793.7,987.2 L795.8,986.0 L797.9,996.3 L799.9,996.3 L802.0,992.5 L804.0,998.9 L806.1,998.1 L808.2,1002.1 L810.2,1003.8 L812.3,1004.5 L814.3,993.8 L816.4,1003.7 L818.5,1001.7 L820.5,1003.6 L822.6,1002.2 L824.6,1006.4 L826.7,1002.3 L828.8,999.6 L830.8,1005.9 L832.9,1002.2 L834.9,996.7 L837.0,1001.8 L839.1,1002.8 L841.1,1002.8 L843.2,1004.3 L845.2,1002.1 L847.3,1001.7 L849.4,1023.5 L851.4,1006.3 L853.5,1009.7 L855.5,1011.3 L857.6,1007.4 L859.7,1007.9 L861.7,1006.0 L863.8,1005.4 L865.8,1022.9 L867.9,1011.3 L870.0,1009.6 L872.0,1020.8 L874.1,1009.5 L876.1,1021.8 L878.2,1015.4 L880.3,1020.2 L882.3,1006.6 L884.4,1002.9 L886.4,1009.6 L888.5,1003.0 L890.6,998.1 L892.6,1006.8 L894.7,1003.7 L896.7,1000.1 L898.8,1007.9 L900.9,1016.5 L902.9,1018.0 L905.0,1037.1 L907.0,1035.2 L909.1,1034.8 L911.2,1041.4 L913.2,1052.2 L915.3,1050.4 L917.3,1054.4 L919.4,1060.2 L921.5,1062.2 L923.5,1064.4 L925.6,1053.3 L927.6,1065.4 L929.7,1074.1 L931.8,1084.0 L933.8,1078.0 L935.9,1084.2 L937.9,1086.8 L940.0,1091.8 L942.1,1105.0 L944.1,1108.3 L946.2,1111.9 L948.2,1100.1 L950.3,1100.8 L952.4,1111.6 L954.4,1106.6 L956.5,1117.8 L958.5,1135.7 L960.6,1116.8 L962.7,1125.4 L964.7,1125.6 L966.8,1128.9 L968.8,1127.8 L970.9,1121.3 L973.0,1128.2 L975.0,1129.7 L977.1,1129.2 L979.1,1137.1 L981.2,1142.5 L983.3,1138.5 L985.3,1147.2 L987.4,1148.1 L989.4,1151.4 L991.5,1153.0 L993.6,1149.4 L995.6,1165.1 L997.7,1160.3 L999.7,1161.7 L1001.8,1156.9 L1003.9,1158.5 L1005.9,1164.4 L1008.0,1158.1 L1010.0,1163.3 L1012.1,1172.2 L1014.2,1165.7 L1016.2,1167.5 L1018.3,1162.8 L1020.3,1169.8 L1022.4,1174.0 L1024.5,1174.3 L1026.5,1178.5 L1028.6,1176.7 L1030.6,1178.5 L1032.7,1187.4 L1034.8,1189.9 L1036.8,1188.9 L1038.9,1197.7 L1040.9,1192.5 L1043.0,1192.6 L1045.1,1198.5 L1047.1,1209.3 L1049.2,1200.2 L1051.2,1199.8 L1053.3,1202.2 L1055.4,1202.8 L1057.4,1201.5 L1059.5,1211.8 L1061.5,1217.3 L1063.6,1217.7 L1065.7,1218.2 L1067.7,1216.0 L1069.8,1222.2 L1071.8,1223.3 L1073.9,1220.3 L1076.0,1225.2 L1078.0,1222.0 L1080.1,1225.7 L1082.1,1225.9 L1084.2,1234.2 L1086.3,1230.6 L1088.3,1235.9 L1090.4,1230.1 L1092.4,1237.2 L1094.5,1242.4 L1096.6,1240.8 L1098.6,1238.1 L1100.7,1239.4 L1102.7,1244.9 L1104.8,1246.1 L1106.9,1245.2 L1108.9,1241.7 L1111.0,1241.9 L1113.0,1247.7 L1115.1,1248.1 L1117.2,1253.6 L1119.2,1258.0 L1121.3,1256.7 L1123.3,1254.2 L1125.4,1255.9 L1127.5,1262.5 L1129.5,1253.2 L1131.6,1263.0 L1133.6,1265.9 L1135.7,1261.0 L1137.8,1263.6 L1139.8,1265.0 L1141.9,1271.1 L1143.9,1270.6 L1146.0,1265.1 L1148.1,1254.0 L1150.1,1275.9 L1152.2,1276.5 L1154.2,1270.5 L1156.3,1265.4 L1158.4,1270.3 L1160.4,1269.8 L1162.5,1281.4 L1164.5,1282.2 L1166.6,1266.9 L1168.7,1280.4 L1170.7,1278.6 L1172.8,1282.2 L1174.8,1279.1 L1176.9,1273.4 L1179.0,1274.7 L1181.0,1282.7 L1183.1,1288.7 L1185.1,1292.8 L1187.2,1293.9 L1189.3,1288.3 L1191.3,1289.2 L1193.4,1291.7 L1195.4,1289.9 L1197.5,1295.7 L1199.6,1290.5 L1201.6,1293.4 L1203.7,1293.9 L1205.7,1295.5 L1207.8,1301.6 L1209.9,1298.4 L1211.9,1299.9 L1214.0,1299.1 L1216.0,1298.8 L1218.1,1304.6 L1220.2,1298.2 L1222.2,1298.7 L1224.3,1303.4 L1226.3,1305.1 L1228.4,1301.6 L1230.5,1300.4 L1232.5,1292.4 L1234.6,1301.7 L1236.6,1300.3 L1238.7,1306.9 L1240.8,1306.0 L1242.8,1294.3 L1244.9,1303.1 L1246.9,1307.8 L1249.0,1305.0 L1251.1,1306.3 L1253.1,1307.4 L1255.2,1308.6 L1257.2,1302.7 L1259.3,1307.1 L1261.4,1313.2 L1263.4,1303.3 L1265.5,1309.2 L1267.5,1299.4 L1269.6,1308.9 L1271.7,1315.2 L1273.7,1315.0 L1275.8,1305.4 L1277.8,1318.3 L1279.9,1314.5 L1282.0,1317.0 L1284.0,1309.5 L1286.1,1308.7 L1288.1,1310.6 L1290.2,1314.7 L1292.3,1317.7 L1294.3,1311.2 L1296.4,1317.1 L1298.4,1321.8 L1300.5,1324.1 L1302.6,1319.0 L1304.6,1318.0 L1306.7,1326.8 L1308.7,1324.4 L1310.8,1320.6 L1312.9,1322.3 L1314.9,1321.2 L1317.0,1323.1 L1319.0,1321.4 L1321.1,1323.7 L1323.2,1322.7 L1325.2,1320.6 L1327.3,1319.2 L1329.3,1321.7 L1331.4,1324.9 L1333.5,1325.2 L1335.5,1321.5 L1337.6,1323.6 L1339.6,1331.5 L1341.7,1319.1 L1343.8,1322.8 L1345.8,1318.2 L1347.9,1324.7 L1349.9,1325.4 L1352.0,1325.4 L1354.1,1322.3 L1356.1,1321.2 L1358.2,1316.4 L1360.2,1321.3 L1362.3,1322.8 L1364.4,1321.0 L1366.4,1322.6 L1368.5,1332.6 L1370.5,1327.8 L1372.6,1325.1 L1374.7,1320.1 L1376.7,1327.3 L1378.8,1324.8 L1380.8,1333.5 L1382.9,1326.9 L1385.0,1325.5 L1387.0,1327.9 L1389.1,1325.2 L1391.1,1328.7 L1393.2,1332.9 L1395.3,1334.1 L1397.3,1331.8 L1399.4,1327.3 L1401.4,1335.3 L1403.5,1340.0 L1405.6,1333.9 L1407.6,1322.3 L1409.7,1328.4 L1411.7,1327.8 L1413.8,1328.9 L1415.9,1331.1 L1417.9,1335.9 L1420.0,1323.8 L1422.0,1328.8 L1424.1,1324.6 L1426.2,1328.4 L1428.2,1336.1 L1430.3,1330.9 L1432.3,1328.5 L1434.4,1335.1 L1436.5,1330.3 L1438.5,1326.5 L1440.6,1331.4 L1442.6,1327.3 L1444.7,1330.0 L1446.8,1329.8 L1448.8,1326.6 L1450.9,1343.3 L1452.9,1331.6 L1455.0,1337.1 L1457.1,1332.4 L1459.1,1335.5 L1461.2,1337.1 L1463.2,1342.3 L1465.3,1334.4 L1467.4,1331.7 L1469.4,1335.2 L1471.5,1333.9 L1473.5,1328.5 L1475.6,1336.8 L1477.7,1334.4 L1479.7,1332.6 L1481.8,1332.0 L1483.8,1337.1 L1485.9,1328.1 L1488.0,1334.2 L1490.0,1331.5 L1492.1,1335.7 L1494.1,1330.0 L1496.2,1342.4 L1498.3,1333.2 L1500.3,1331.3 L1502.4,1328.5 L1504.4,1335.9 L1506.5,1333.6 L1508.6,1326.4 L1510.6,1331.8 L1512.7,1332.6 L1514.7,1327.5 L1516.8,1333.2 L1518.9,1331.2 L1520.9,1332.1 L1523.0,1334.7 L1525.0,1329.7 L1527.1,1334.8 L1529.2,1329.2 L1531.2,1324.5 L1533.3,1328.3 L1535.3,1334.4 L1537.4,1333.3 L1539.5,1328.0 L1541.5,1337.1 L1543.6,1341.1 L1545.6,1331.7 L1547.7,1339.0 L1549.8,1335.0 L1551.8,1335.5 L1553.9,1341.5 L1555.9,1339.0 L1558.0,1319.5 L1560.1,1332.8 L1562.1,1327.9 L1564.2,1332.3 L1566.2,1332.8 L1568.3,1333.6 L1570.4,1338.3 L1572.4,1335.4 L1574.5,1333.9 L1576.5,1333.9 L1578.6,1337.1 L1580.7,1340.2 L1582.7,1348.1 L1584.8,1336.7 L1586.8,1335.0 L1588.9,1334.5 L1591.0,1332.9 L1593.0,1337.7 L1595.1,1334.4 L1597.1,1330.9 L1599.2,1338.4 L1601.3,1343.5 L1603.3,1338.5 L1605.4,1340.4 L1607.4,1338.7 L1609.5,1334.1 L1611.6,1338.6 L1613.6,1338.5 L1615.7,1335.0 L1617.7,1342.1 L1619.8,1340.0 L1621.9,1342.9 L1623.9,1341.7 L1626.0,1337.3 L1628.0,1336.9 L1630.1,1340.4 L1632.2,1340.4 L1634.2,1337.6 L1636.3,1341.4 L1638.3,1337.3 L1640.4,1341.3 L1642.5,1343.3 L1644.5,1331.4 L1646.6,1333.3 L1648.6,1340.4 L1650.7,1342.6 L1652.8,1346.4 L1654.8,1343.8 L1656.9,1340.8 L1658.9,1343.1 L1661.0,1339.1 L1663.1,1345.8 L1665.1,1350.5 L1667.2,1348.4 L1669.2,1342.2 L1671.3,1353.8 L1673.4,1343.2 L1675.4,1340.9 L1677.5,1348.5 L1679.5,1349.3 L1681.6,1344.9 L1683.7,1343.0 L1685.7,1347.4 L1687.8,1347.1 L1689.8,1347.7 L1691.9,1344.1 L1694.0,1342.0 L1696.0,1352.0 L1698.1,1352.7 L1700.1,1347.0 L1702.2,1353.6 L1704.3,1345.5 L1706.3,1342.3 L1708.4,1356.5 L1710.4,1355.3 L1712.5,1348.5 L1714.6,1347.9 L1716.6,1346.9 L1718.7,1346.6 L1720.7,1343.8 L1722.8,1348.3 L1724.9,1356.3 L1726.9,1356.7 L1729.0,1353.6 L1731.0,1349.1 L1733.1,1352.8 L1735.2,1352.9 L1737.2,1358.1 L1739.3,1362.6 L1741.3,1356.1 L1743.4,1351.5 L1745.5,1360.5 L1747.5,1351.1 L1749.6,1347.0 L1751.6,1357.4 L1753.7,1353.9 L1755.8,1358.4 L1757.8,1350.5 L1759.9,1355.4 L1761.9,1352.9 L1764.0,1356.0 L1766.1,1364.4 L1768.1,1364.0 L1770.2,1365.5 L1772.2,1367.5 L1774.3,1364.6 L1776.4,1360.0 L1778.4,1359.0 L1780.5,1366.3 L1782.5,1359.0 L1784.6,1369.3 L1786.7,1372.8 L1788.7,1372.6 L1790.8,1370.8 L1792.8,1377.3 L1794.9,1367.0 L1797.0,1369.4 L1799.0,1369.4 L1801.1,1363.8 L1803.1,1362.4 L1805.2,1363.7 L1807.3,1361.6 L1809.3,1361.4 L1811.4,1357.5 L1813.4,1366.4 L1815.5,1370.6 L1817.6,1368.5 L1819.6,1367.5 L1821.7,1371.2 L1823.7,1366.6 L1825.8,1371.6 L1827.9,1365.8 L1829.9,1362.6 L1832.0,1365.3 L1834.0,1356.9 L1836.1,1360.4 L1838.2,1369.1 L1840.2,1372.6 L1842.3,1365.7 L1844.3,1363.2 L1846.4,1372.9 L1848.5,1372.8 L1850.5,1377.1 L1852.6,1375.7 L1854.6,1374.5 L1856.7,1372.8 L1858.8,1367.9 L1860.8,1364.0 L1862.9,1370.0 L1864.9,1373.1 L1867.0,1371.2 L1869.1,1367.4 L1871.1,1380.8 L1873.2,1370.5 L1875.2,1374.5 L1877.3,1371.6 L1879.4,1374.8 L1881.4,1385.7 L1883.5,1382.7 L1885.5,1376.6 L1887.6,1383.5 L1889.7,1377.3 L1891.7,1384.6 L1893.8,1381.1 L1895.8,1377.9 L1897.9,1379.6 L1900.0,1376.2 L1902.0,1374.2 L1904.1,1377.8 L1906.1,1378.6 L1908.2,1379.7 L1910.3,1382.4 L1912.3,1382.8 L1914.4,1382.9 L1916.4,1380.8 L1918.5,1376.9 L1920.6,1383.6 L1922.6,1380.2 L1924.7,1382.4 L1926.7,1379.6 L1928.8,1381.8 L1930.9,1380.7 L1932.9,1383.0 L1935.0,1388.7 L1937.0,1383.8 L1939.1,1382.7 L1941.2,1381.2 L1943.2,1382.6 L1945.3,1384.5 L1947.3,1381.3 L1949.4,1385.4 L1951.5,1383.7 L1953.5,1383.0 L1955.6,1389.9 L1957.6,1385.4 L1959.7,1386.0 L1961.8,1387.6 L1963.8,1390.7 L1965.9,1384.1 L1967.9,1382.2 L1970.0,1390.5 L1972.1,1393.2 L1974.1,1394.6 L1976.2,1395.0 L1978.2,1389.3 L1980.3,1391.2 L1982.4,1395.4 L1984.4,1396.0 L1986.5,1377.8 L1988.5,1391.4 L1990.6,1394.1 L1992.7,1396.1 L1994.7,1397.6 L1996.8,1397.4 L1998.8,1394.6 L2000.9,1388.1 L2003.0,1394.1 L2005.0,1392.8 L2007.1,1397.1 L2009.1,1393.6 L2011.2,1393.4 L2013.3,1394.0 L2015.3,1397.8 L2017.4,1401.8 L2019.4,1398.1 L2021.5,1403.1 L2023.6,1402.3 L2025.6,1391.8 L2027.7,1390.3 L2029.7,1394.8 L2031.8,1397.7 L2033.9,1391.6 L2035.9,1399.3 L2038.0,1393.4 L2040.0,1400.7 L2042.1,1398.2 L2044.2,1398.4 L2046.2,1392.3 L2048.3,1398.2 L2050.3,1392.7 L2052.4,1395.4 L2054.5,1397.6 L2056.5,1401.4 L2058.6,1398.0 L2060.6,1394.7 L2062.7,1400.9 L2064.8,1400.7 L2066.8,1399.4 L2068.9,1405.0 L2070.9,1400.3 L2073.0,1402.6 L2075.1,1393.1 L2077.1,1398.8 L2079.2,1404.7 L2081.2,1395.4 L2083.3,1395.6 L2085.4,1397.3 L2087.4,1400.2 L2089.5,1404.0 L2091.5,1394.1 L2093.6,1400.1 L2095.7,1398.5 L2097.7,1397.7 L2099.8,1397.7 L2101.8,1394.2 L2103.9,1399.5 L2106.0,1402.2 L2108.0,1401.1 L2110.1,1397.4 L2112.1,1394.4 L2114.2,1399.1 L2116.3,1399.4 L2118.3,1398.5 L2120.4,1396.4 L2122.4,1399.2 L2124.5,1397.7 L2126.6,1401.1 L2128.6,1406.5 L2130.7,1396.4 L2132.7,1401.9 L2134.8,1399.1 L2136.9,1403.3 L2138.9,1408.7 L2141.0,1395.5 L2143.0,1392.3 L2145.1,1390.6" fill="none" stroke="#8C9EFF" stroke-width="12" stroke-linejoin="round" stroke-linecap="butt" shape-rendering="crispEdges"/>
<path d="M13.0,1478.0 L15.1,1476.2 L17.1,1471.8 L19.2,1467.9 L21.2,1464.5 L23.3,1470.9 L25.4,1468.8 L27.4,1467.4 L29.5,1469.4 L31.5,1470.1 L33.6,1461.2 L35.7,1471.2 L37.7,1461.9 L39.8,1474.1 L41.8,1471.9 L43.9,1466.3 L46.0,1472.0 L48.0,1467.9 L50.1,1469.0 L52.1,1466.8 L54.2,1469.7 L56.3,1470.0 L58.3,1461.9 L60.4,1461.0 L62.4,1464.6 L64.5,1462.8 L66.6,1453.9 L68.6,1468.6 L70.7,1455.3 L72.7,1451.9 L74.8,1450.7 L76.9,1462.2 L78.9,1468.2 L81.0,1460.9 L83.0,1458.3 L85.1,1460.0 L87.2,1458.0 L89.2,1459.1 L91.3,1454.3 L93.3,1459.3 L95.4,1460.1 L97.5,1448.7 L99.5,1455.2 L101.6,1458.0 L103.6,1459.5 L105.7,1454.2 L107.8,1450.8 L109.8,1451.6 L111.9,1457.6 L113.9,1453.0 L116.0,1452.0 L118.1,1459.3 L120.1,1453.0 L122.2,1450.6 L124.2,1453.4 L126.3,1454.9 L128.4,1458.1 L130.4,1450.9 L132.5,1446.2 L134.5,1450.9 L136.6,1454.7 L138.7,1446.4 L140.7,1448.1 L142.8,1451.5 L144.8,1451.3 L146.9,1450.1 L149.0,1448.0 L151.0,1444.9 L153.1,1443.3 L155.1,1450.8 L157.2,1442.8 L159.3,1449.6 L161.3,1440.7 L163.4,1454.8 L165.4,1439.0 L167.5,1447.8 L169.6,1439.9 L171.6,1440.2 L173.7,1440.4 L175.7,1437.4 L177.8,1447.8 L179.9,1440.9 L181.9,1432.6 L184.0,1438.6 L186.0,1439.8 L188.1,1431.5 L190.2,1435.9 L192.2,1434.5 L194.3,1436.3 L196.3,1435.5 L198.4,1431.4 L200.5,1428.1 L202.5,1431.8 L204.6,1428.7 L206.6,1418.7 L208.7,1418.9 L210.8,1417.7 L212.8,1416.4 L214.9,1425.0 L216.9,1413.9 L219.0,1413.2 L221.1,1417.3 L223.1,1414.3 L225.2,1409.8 L227.2,1413.0 L229.3,1409.2 L231.4,1409.3 L233.4,1413.3 L235.5,1414.8 L237.5,1412.6 L239.6,1412.1 L241.7,1418.4 L243.7,1427.5 L245.8,1423.1 L247.8,1427.6 L249.9,1425.5 L252.0,1421.5 L254.0,1410.6 L256.1,1419.9 L258.1,1419.5 L260.2,1412.8 L262.3,1419.6 L264.3,1418.4 L266.4,1418.8 L268.4,1414.2 L270.5,1415.9 L272.6,1412.9 L274.6,1417.8 L276.7,1414.2 L278.7,1405.8 L280.8,1410.2 L282.9,1409.9 L284.9,1407.5 L287.0,1401.2 L289.0,1409.3 L291.1,1402.7 L293.2,1409.8 L295.2,1401.1 L297.3,1401.0 L299.3,1400.2 L301.4,1399.9 L303.5,1409.8 L305.5,1397.5 L307.6,1404.7 L309.6,1399.8 L311.7,1391.7 L313.8,1398.0 L315.8,1396.9 L317.9,1396.0 L319.9,1385.1 L322.0,1390.0 L324.1,1386.6 L326.1,1385.8 L328.2,1385.0 L330.2,1384.6 L332.3,1390.5 L334.4,1385.3 L336.4,1373.2 L338.5,1383.5 L340.5,1380.0 L342.6,1377.8 L344.7,1367.7 L346.7,1374.5 L348.8,1371.1 L350.8,1375.4 L352.9,1373.1 L355.0,1372.9 L357.0,1366.4 L359.1,1357.2 L361.1,1366.9 L363.2,1365.6 L365.3,1360.2 L367.3,1356.9 L369.4,1353.6 L371.4,1347.7 L373.5,1343.7 L375.6,1352.0 L377.6,1363.5 L379.7,1353.8 L381.7,1356.3 L383.8,1341.8 L385.9,1349.9 L387.9,1342.6 L390.0,1348.0 L392.0,1347.0 L394.1,1339.4 L396.2,1337.0 L398.2,1340.4 L400.3,1330.2 L402.3,1320.0 L404.4,1330.9 L406.5,1338.5 L408.5,1318.6 L410.6,1322.7 L412.6,1316.3 L414.7,1317.2 L416.8,1312.8 L418.8,1319.2 L420.9,1312.3 L422.9,1310.7 L425.0,1304.8 L427.1,1310.8 L429.1,1304.8 L431.2,1302.3 L433.2,1302.0 L435.3,1293.8 L437.4,1297.6 L439.4,1289.4 L441.5,1292.9 L443.5,1292.5 L445.6,1289.9 L447.7,1288.9 L449.7,1285.0 L451.8,1288.6 L453.8,1285.6 L455.9,1280.9 L458.0,1279.8 L460.0,1275.9 L462.1,1276.3 L464.1,1274.0 L466.2,1264.4 L468.3,1278.2 L470.3,1269.2 L472.4,1261.4 L474.4,1266.3 L476.5,1253.0 L478.6,1256.9 L480.6,1260.1 L482.7,1255.7 L484.7,1254.5 L486.8,1249.9 L488.9,1247.5 L490.9,1246.9 L493.0,1245.9 L495.0,1237.3 L497.1,1240.6 L499.2,1239.8 L501.2,1230.8 L503.3,1228.9 L505.3,1229.3 L507.4,1232.2 L509.5,1229.5 L511.5,1215.9 L513.6,1212.1 L515.6,1209.5 L517.7,1212.2 L519.8,1208.7 L521.8,1209.7 L523.9,1215.2 L525.9,1212.3 L528.0,1214.9 L530.1,1218.3 L532.1,1215.9 L534.2,1221.1 L536.2,1224.0 L538.3,1225.2 L540.4,1238.4 L542.4,1238.5 L544.5,1214.9 L546.5,1231.6 L548.6,1239.1 L550.7,1241.4 L552.7,1237.4 L554.8,1238.8 L556.8,1238.4 L558.9,1237.1 L561.0,1241.7 L563.0,1238.1 L565.1,1233.3 L567.1,1232.6 L569.2,1232.9 L571.3,1225.9 L573.3,1226.0 L575.4,1231.2 L577.4,1233.2 L579.5,1214.7 L581.6,1235.3 L583.6,1223.3 L585.7,1226.4 L587.7,1215.4 L589.8,1222.9 L591.9,1220.6 L593.9,1218.2 L596.0,1215.8 L598.0,1214.7 L600.1,1219.0 L602.2,1211.1 L604.2,1211.1 L606.3,1209.9 L608.3,1202.0 L610.4,1208.9 L612.5,1209.2 L614.5,1205.7 L616.6,1199.4 L618.6,1202.9 L620.7,1204.1 L622.8,1204.2 L624.8,1203.8 L626.9,1196.2 L628.9,1205.8 L631.0,1206.2 L633.1,1205.0 L635.1,1202.4 L637.2,1205.7 L639.2,1202.7 L641.3,1203.3 L643.4,1198.5 L645.4,1195.8 L647.5,1197.4 L649.5,1189.9 L651.6,1190.2 L653.7,1192.3 L655.7,1187.7 L657.8,1175.9 L659.8,1183.2 L661.9,1183.7 L664.0,1191.5 L666.0,1177.5 L668.1,1179.8 L670.1,1193.3 L672.2,1173.6 L674.3,1179.7 L676.3,1179.4 L678.4,1172.3 L680.4,1179.8 L682.5,1176.2 L684.6,1164.5 L686.6,1169.4 L688.7,1171.0 L690.7,1183.0 L692.8,1179.2 L694.9,1171.1 L696.9,1176.3 L699.0,1186.5 L701.0,1169.9 L703.1,1166.8 L705.2,1171.2 L707.2,1172.0 L709.3,1171.0 L711.3,1159.4 L713.4,1163.9 L715.5,1152.6 L717.5,1156.2 L719.6,1166.5 L721.6,1161.0 L723.7,1169.0 L725.8,1168.3 L727.8,1172.8 L729.9,1175.9 L731.9,1180.2 L734.0,1181.8 L736.1,1174.2 L738.1,1186.0 L740.2,1183.3 L742.2,1184.3 L744.3,1185.2 L746.4,1177.4 L748.4,1178.2 L750.5,1179.7 L752.5,1181.1 L754.6,1189.3 L756.7,1199.2 L758.7,1201.0 L760.8,1194.0 L762.8,1191.4 L764.9,1181.6 L767.0,1175.3 L769.0,1179.1 L771.1,1178.3 L773.1,1173.7 L775.2,1175.3 L777.3,1181.0 L779.3,1179.3 L781.4,1183.1 L783.4,1182.0 L785.5,1180.2 L787.6,1184.2 L789.6,1177.1 L791.7,1176.2 L793.7,1183.7 L795.8,1182.3 L797.9,1168.0 L799.9,1174.0 L802.0,1183.8 L804.0,1179.7 L806.1,1182.9 L808.2,1168.9 L810.2,1176.9 L812.3,1166.0 L814.3,1178.7 L816.4,1171.8 L818.5,1184.6 L820.5,1176.8 L822.6,1179.5 L824.6,1181.9 L826.7,1181.2 L828.8,1168.3 L830.8,1184.7 L832.9,1181.3 L834.9,1197.0 L837.0,1186.8 L839.1,1187.9 L841.1,1187.3 L843.2,1199.8 L845.2,1202.9 L847.3,1199.8 L849.4,1203.0 L851.4,1194.8 L853.5,1193.8 L855.5,1207.0 L857.6,1198.7 L859.7,1199.6 L861.7,1193.4 L863.8,1198.1 L865.8,1203.3 L867.9,1201.0 L870.0,1187.1 L872.0,1202.0 L874.1,1200.4 L876.1,1183.9 L878.2,1187.4 L880.3,1190.3 L882.3,1186.2 L884.4,1185.2 L886.4,1186.6 L888.5,1177.3 L890.6,1172.9 L892.6,1179.5 L894.7,1184.0 L896.7,1178.7 L898.8,1194.3 L900.9,1186.2 L902.9,1207.8 L905.0,1211.4 L907.0,1207.0 L909.1,1211.0 L911.2,1218.2 L913.2,1228.3 L915.3,1230.1 L917.3,1229.3 L919.4,1227.6 L921.5,1231.9 L923.5,1227.9 L925.6,1232.9 L927.6,1233.5 L929.7,1237.6 L931.8,1244.3 L933.8,1243.1 L935.9,1236.6 L937.9,1251.7 L940.0,1251.1 L942.1,1254.2 L944.1,1250.8 L946.2,1254.1 L948.2,1256.5 L950.3,1267.4 L952.4,1257.9 L954.4,1267.9 L956.5,1267.4 L958.5,1272.4 L960.6,1268.6 L962.7,1263.9 L964.7,1277.7 L966.8,1275.0 L968.8,1280.2 L970.9,1283.9 L973.0,1273.5 L975.0,1275.8 L977.1,1282.8 L979.1,1288.3 L981.2,1290.7 L983.3,1293.0 L985.3,1289.5 L987.4,1297.6 L989.4,1294.1 L991.5,1293.6 L993.6,1292.8 L995.6,1290.7 L997.7,1296.9 L999.7,1301.0 L1001.8,1302.9 L1003.9,1313.8 L1005.9,1308.3 L1008.0,1308.4 L1010.0,1302.1 L1012.1,1307.2 L1014.2,1311.4 L1016.2,1315.6 L1018.3,1314.5 L1020.3,1318.2 L1022.4,1314.1 L1024.5,1324.6 L1026.5,1327.9 L1028.6,1319.1 L1030.6,1316.8 L1032.7,1322.0 L1034.8,1328.2 L1036.8,1325.6 L1038.9,1331.0 L1040.9,1336.3 L1043.0,1339.4 L1045.1,1341.6 L1047.1,1331.1 L1049.2,1327.5 L1051.2,1340.0 L1053.3,1337.9 L1055.4,1338.1 L1057.4,1337.9 L1059.5,1341.0 L1061.5,1348.2 L1063.6,1341.4 L1065.7,1341.1 L1067.7,1353.4 L1069.8,1355.2 L1071.8,1345.4 L1073.9,1343.7 L1076.0,1354.8 L1078.0,1360.3 L1080.1,1367.5 L1082.1,1363.5 L1084.2,1363.2 L1086.3,1360.3 L1088.3,1362.0 L1090.4,1361.2 L1092.4,1369.1 L1094.5,1368.1 L1096.6,1371.6 L1098.6,1369.9 L1100.7,1364.7 L1102.7,1368.7 L1104.8,1375.6 L1106.9,1375.8 L1108.9,1365.8 L1111.0,1377.3 L1113.0,1374.4 L1115.1,1382.2 L1117.2,1377.4 L1119.2,1374.6 L1121.3,1382.5 L1123.3,1376.3 L1125.4,1385.7 L1127.5,1381.3 L1129.5,1385.4 L1131.6,1378.2 L1133.6,1383.4 L1135.7,1382.8 L1137.8,1392.2 L1139.8,1384.2 L1141.9,1385.1 L1143.9,1383.2 L1146.0,1386.6 L1148.1,1388.3 L1150.1,1393.2 L1152.2,1392.5 L1154.2,1382.8 L1156.3,1395.9 L1158.4,1391.9 L1160.4,1395.1 L1162.5,1390.1 L1164.5,1394.0 L1166.6,1391.8 L1168.7,1390.8 L1170.7,1392.2 L1172.8,1390.0 L1174.8,1395.9 L1176.9,1397.8 L1179.0,1400.0 L1181.0,1403.8 L1183.1,1404.5 L1185.1,1402.9 L1187.2,1406.0 L1189.3,1404.0 L1191.3,1407.6 L1193.4,1404.8 L1195.4,1397.6 L1197.5,1401.5 L1199.6,1402.1 L1201.6,1402.9 L1203.7,1407.1 L1205.7,1409.0 L1207.8,1411.7 L1209.9,1406.0 L1211.9,1407.6 L1214.0,1413.4 L1216.0,1414.6 L1218.1,1417.7 L1220.2,1412.5 L1222.2,1422.1 L1224.3,1412.5 L1226.3,1406.8 L1228.4,1411.4 L1230.5,1408.6 L1232.5,1416.4 L1234.6,1415.3 L1236.6,1409.2 L1238.7,1415.3 L1240.8,1420.6 L1242.8,1415.0 L1244.9,1414.8 L1246.9,1413.7 L1249.0,1414.5 L1251.1,1411.7 L1253.1,1415.9 L1255.2,1413.8 L1257.2,1418.4 L1259.3,1423.7 L1261.4,1423.3 L1263.4,1421.2 L1265.5,1424.4 L1267.5,1423.3 L1269.6,1418.0 L1271.7,1421.2 L1273.7,1423.1 L1275.8,1419.8 L1277.8,1422.6 L1279.9,1417.5 L1282.0,1421.5 L1284.0,1423.5 L1286.1,1422.0 L1288.1,1419.9 L1290.2,1421.9 L1292.3,1417.9 L1294.3,1418.3 L1296.4,1423.3 L1298.4,1426.2 L1300.5,1426.2 L1302.6,1422.6 L1304.6,1424.2 L1306.7,1420.6 L1308.7,1423.5 L1310.8,1421.1 L1312.9,1418.5 L1314.9,1424.6 L1317.0,1423.7 L1319.0,1424.1 L1321.1,1422.1 L1323.2,1431.6 L1325.2,1429.7 L1327.3,1424.1 L1329.3,1430.4 L1331.4,1428.4 L1333.5,1423.2 L1335.5,1424.5 L1337.6,1431.8 L1339.6,1428.4 L1341.7,1430.6 L1343.8,1427.3 L1345.8,1431.3 L1347.9,1432.3 L1349.9,1432.7 L1352.0,1432.7 L1354.1,1435.3 L1356.1,1435.1 L1358.2,1429.7 L1360.2,1437.8 L1362.3,1431.3 L1364.4,1429.1 L1366.4,1431.5 L1368.5,1435.5 L1370.5,1434.8 L1372.6,1428.3 L1374.7,1429.5 L1376.7,1435.8 L1378.8,1434.3 L1380.8,1433.7 L1382.9,1426.4 L1385.0,1431.3 L1387.0,1433.7 L1389.1,1428.6 L1391.1,1424.3 L1393.2,1432.1 L1395.3,1436.2 L1397.3,1428.2 L1399.4,1430.5 L1401.4,1438.3 L1403.5,1445.4 L1405.6,1435.2 L1407.6,1424.6 L1409.7,1432.6 L1411.7,1438.0 L1413.8,1445.5 L1415.9,1441.0 L1417.9,1439.0 L1420.0,1435.0 L1422.0,1429.6 L1424.1,1431.6 L1426.2,1432.1 L1428.2,1433.5 L1430.3,1439.3 L1432.3,1438.1 L1434.4,1429.2 L1436.5,1434.4 L1438.5,1442.2 L1440.6,1442.3 L1442.6,1445.0 L1444.7,1435.4 L1446.8,1439.3 L1448.8,1437.3 L1450.9,1434.5 L1452.9,1435.6 L1455.0,1431.7 L1457.1,1431.5 L1459.1,1439.0 L1461.2,1439.3 L1463.2,1438.0 L1465.3,1444.7 L1467.4,1439.6 L1469.4,1442.0 L1471.5,1436.1 L1473.5,1434.3 L1475.6,1437.2 L1477.7,1437.4 L1479.7,1438.3 L1481.8,1439.9 L1483.8,1446.8 L1485.9,1437.7 L1488.0,1430.6 L1490.0,1440.9 L1492.1,1445.4 L1494.1,1448.1 L1496.2,1437.2 L1498.3,1441.2 L1500.3,1429.1 L1502.4,1438.2 L1504.4,1435.7 L1506.5,1437.0 L1508.6,1433.8 L1510.6,1444.2 L1512.7,1445.4 L1514.7,1443.3 L1516.8,1437.4 L1518.9,1446.9 L1520.9,1446.8 L1523.0,1441.2 L1525.0,1445.6 L1527.1,1444.6 L1529.2,1444.7 L1531.2,1445.7 L1533.3,1445.9 L1535.3,1442.9 L1537.4,1437.1 L1539.5,1437.3 L1541.5,1443.6 L1543.6,1441.5 L1545.6,1444.0 L1547.7,1436.0 L1549.8,1440.0 L1551.8,1441.4 L1553.9,1449.3 L1555.9,1443.8 L1558.0,1441.1 L1560.1,1443.8 L1562.1,1451.8 L1564.2,1455.3 L1566.2,1440.8 L1568.3,1449.9 L1570.4,1437.7 L1572.4,1447.7 L1574.5,1450.7 L1576.5,1449.3 L1578.6,1435.3 L1580.7,1437.4 L1582.7,1449.3 L1584.8,1446.1 L1586.8,1447.2 L1588.9,1443.5 L1591.0,1443.5 L1593.0,1443.8 L1595.1,1439.9 L1597.1,1445.5 L1599.2,1452.3 L1601.3,1439.8 L1603.3,1437.5 L1605.4,1437.8 L1607.4,1438.6 L1609.5,1442.9 L1611.6,1445.3 L1613.6,1446.1 L1615.7,1445.3 L1617.7,1439.5 L1619.8,1442.8 L1621.9,1440.5 L1623.9,1443.7 L1626.0,1447.4 L1628.0,1446.5 L1630.1,1451.4 L1632.2,1448.1 L1634.2,1451.1 L1636.3,1459.5 L1638.3,1453.0 L1640.4,1442.1 L1642.5,1441.7 L1644.5,1446.4 L1646.6,1451.1 L1648.6,1447.4 L1650.7,1450.4 L1652.8,1447.1 L1654.8,1447.1 L1656.9,1447.3 L1658.9,1456.3 L1661.0,1454.1 L1663.1,1444.2 L1665.1,1447.3 L1667.2,1455.4 L1669.2,1450.9 L1671.3,1458.4 L1673.4,1452.2 L1675.4,1450.4 L1677.5,1448.3 L1679.5,1448.4 L1681.6,1448.6 L1683.7,1451.8 L1685.7,1454.9 L1687.8,1449.4 L1689.8,1451.9 L1691.9,1445.3 L1694.0,1449.3 L1696.0,1452.6 L1698.1,1450.5 L1700.1,1447.3 L1702.2,1452.4 L1704.3,1455.4 L1706.3,1456.8 L1708.4,1454.6 L1710.4,1459.2 L1712.5,1452.3 L1714.6,1454.2 L1716.6,1446.7 L1718.7,1451.4 L1720.7,1453.4 L1722.8,1461.9 L1724.9,1460.6 L1726.9,1459.9 L1729.0,1451.6 L1731.0,1452.8 L1733.1,1455.5 L1735.2,1450.6 L1737.2,1453.1 L1739.3,1460.3 L1741.3,1456.8 L1743.4,1453.1 L1745.5,1463.8 L1747.5,1460.8 L1749.6,1458.0 L1751.6,1453.0 L1753.7,1460.8 L1755.8,1458.4 L1757.8,1457.0 L1759.9,1456.4 L1761.9,1464.0 L1764.0,1453.8 L1766.1,1454.8 L1768.1,1464.4 L1770.2,1463.1 L1772.2,1463.7 L1774.3,1461.0 L1776.4,1463.7 L1778.4,1460.1 L1780.5,1457.8 L1782.5,1461.8 L1784.6,1461.3 L1786.7,1465.1 L1788.7,1464.5 L1790.8,1461.7 L1792.8,1459.4 L1794.9,1470.8 L1797.0,1462.7 L1799.0,1465.0 L1801.1,1460.2 L1803.1,1459.8 L1805.2,1466.0 L1807.3,1472.9 L1809.3,1473.9 L1811.4,1466.3 L1813.4,1463.1 L1815.5,1469.4 L1817.6,1473.2 L1819.6,1465.7 L1821.7,1464.4 L1823.7,1473.2 L1825.8,1466.1 L1827.9,1470.9 L1829.9,1466.4 L1832.0,1469.8 L1834.0,1464.1 L1836.1,1469.9 L1838.2,1465.7 L1840.2,1464.0 L1842.3,1466.7 L1844.3,1474.3 L1846.4,1472.4 L1848.5,1470.8 L1850.5,1473.6 L1852.6,1469.0 L1854.6,1474.8 L1856.7,1467.0 L1858.8,1478.1 L1860.8,1475.1 L1862.9,1473.1 L1864.9,1463.3 L1867.0,1470.5 L1869.1,1472.5 L1871.1,1475.5 L1873.2,1469.3 L1875.2,1478.8 L1877.3,1474.1 L1879.4,1474.8 L1881.4,1471.9 L1883.5,1483.1 L1885.5,1474.1 L1887.6,1474.5 L1889.7,1478.5 L1891.7,1484.7 L1893.8,1477.1 L1895.8,1473.4 L1897.9,1473.9 L1900.0,1475.9 L1902.0,1478.2 L1904.1,1476.6 L1906.1,1472.0 L1908.2,1475.6 L1910.3,1477.0 L1912.3,1474.5 L1914.4,1479.7 L1916.4,1482.4 L1918.5,1468.9 L1920.6,1477.4 L1922.6,1480.1 L1924.7,1483.7 L1926.7,1481.7 L1928.8,1484.4 L1930.9,1483.3 L1932.9,1475.1 L1935.0,1475.1 L1937.0,1474.9 L1939.1,1479.7 L1941.2,1477.1 L1943.2,1474.3 L1945.3,1479.4 L1947.3,1488.0 L1949.4,1479.9 L1951.5,1476.5 L1953.5,1475.3 L1955.6,1477.4 L1957.6,1478.7 L1959.7,1480.4 L1961.8,1481.9 L1963.8,1480.2 L1965.9,1471.8 L1967.9,1481.4 L1970.0,1491.8 L1972.1,1478.7 L1974.1,1473.7 L1976.2,1483.5 L1978.2,1487.2 L1980.3,1482.1 L1982.4,1492.9 L1984.4,1488.5 L1986.5,1485.0 L1988.5,1490.3 L1990.6,1475.1 L1992.7,1482.9 L1994.7,1476.7 L1996.8,1476.5 L1998.8,1478.8 L2000.9,1478.8 L2003.0,1480.0 L2005.0,1494.4 L2007.1,1483.9 L2009.1,1479.4 L2011.2,1478.5 L2013.3,1479.8 L2015.3,1474.5 L2017.4,1487.6 L2019.4,1480.1 L2021.5,1488.1 L2023.6,1477.8 L2025.6,1477.4 L2027.7,1478.4 L2029.7,1483.2 L2031.8,1485.5 L2033.9,1478.2 L2035.9,1471.6 L2038.0,1480.8 L2040.0,1483.6 L2042.1,1484.8 L2044.2,1475.7 L2046.2,1487.0 L2048.3,1484.6 L2050.3,1484.8 L2052.4,1485.8 L2054.5,1480.6 L2056.5,1488.7 L2058.6,1491.4 L2060.6,1487.2 L2062.7,1481.8 L2064.8,1482.0 L2066.8,1485.1 L2068.9,1485.7 L2070.9,1489.2 L2073.0,1481.7 L2075.1,1483.0 L2077.1,1486.8 L2079.2,1486.3 L2081.2,1485.3 L2083.3,1482.5 L2085.4,1483.8 L2087.4,1486.0 L2089.5,1490.9 L2091.5,1487.2 L2093.6,1492.2 L2095.7,1491.1 L2097.7,1488.9 L2099.8,1489.2 L2101.8,1488.6 L2103.9,1486.5 L2106.0,1485.2 L2108.0,1492.6 L2110.1,1486.7 L2112.1,1491.8 L2114.2,1486.7 L2116.3,1488.9 L2118.3,1491.8 L2120.4,1494.5 L2122.4,1491.6 L2124.5,1486.5 L2126.6,1484.5 L2128.6,1486.1 L2130.7,1492.2 L2132.7,1486.7 L2134.8,1492.7 L2136.9,1490.9 L2138.9,1484.0 L2141.0,1486.7 L2143.0,1491.9 L2145.1,1487.9" fill="none" stroke="#FA9696" stroke-width="12" stroke-linejoin="round" stroke-linecap="butt" shape-rendering="crispEdges"/>
<path d="M10.0,1617.8 L11.5,1617.9 L13.0,1617.6 L14.5,1617.9 L16.0,1617.9 L17.5,1617.8 L19.0,1617.5 L20.5,1617.9 L22.0,1617.8 L23.5,1618.0 L25.0,1618.3 L26.5,1618.5 L28.0,1618.4 L29.5,1618.4 L31.0,1618.1 L32.5,1617.9 L34.0,1618.0 L35.5,1617.8 L37.0,1617.8 L38.5,1617.9 L40.0,1618.0 L41.5,1617.9 L43.0,1618.1 L44.5,1617.7 L46.0,1617.6 L47.5,1617.8 L49.0,1617.8 L50.5,1617.7 L52.0,1618.1 L53.5,1618.3 L55.0,1618.1 L56.5,1618.0 L58.0,1618.3 L59.5,1618.2 L61.0,1617.9 L62.5,1618.0 L64.0,1618.2 L65.5,1618.0 L67.0,1617.9 L68.5,1618.3 L70.0,1618.1 L71.5,1618.2 L73.0,1618.1 L74.5,1618.4 L76.0,1618.1 L77.5,1618.3 L79.0,1618.3 L80.5,1618.2 L82.0,1617.9 L83.5,1617.9 L85.0,1617.8 L86.5,1617.8 L88.0,1617.8 L89.5,1617.9 L91.0,1617.8 L92.5,1617.7 L94.0,1617.2 L95.5,1617.1 L97.0,1616.9 L98.5,1617.0 L100.0,1617.3 L101.5,1617.7 L103.0,1617.9 L104.5,1618.0 L106.0,1617.8 L107.5,1617.5 L109.0,1617.4 L110.5,1617.2 L112.0,1617.5 L113.5,1618.0 L115.0,1618.2 L116.5,1618.4 L118.0,1618.5 L119.5,1618.0 L121.0,1617.5 L122.5,1617.4 L124.0,1617.2 L125.5,1617.0 L127.0,1617.2 L128.5,1617.3 L130.0,1617.3 L131.5,1617.2 L133.0,1617.3 L134.5,1617.1 L136.0,1617.3 L137.5,1617.5 L139.0,1617.4 L140.5,1617.5 L142.0,1617.6 L143.5,1617.4 L145.0,1617.1 L146.5,1617.4 L148.0,1617.4 L149.5,1617.3 L151.0,1617.2 L152.5,1617.2 L154.0,1616.8 L155.5,1616.6 L157.0,1616.7 L158.5,1616.8 L160.0,1616.7 L161.5,1616.7 L163.0,1616.2 L164.5,1615.7 L166.0,1615.2 L167.5,1614.8 L169.0,1614.3 L170.5,1613.6 L172.0,1612.8 L173.5,1611.1 L175.0,1609.5 L176.5,1607.7 L178.0,1606.6 L179.5,1605.8 L181.0,1606.7 L182.5,1608.6 L184.0,1610.7 L185.5,1612.4 L187.0,1613.5 L188.5,1614.0 L190.0,1614.5 L191.5,1614.7 L193.0,1614.2 L194.5,1613.9 L196.0,1613.3 L197.5,1612.6 L199.0,1611.9 L200.5,1611.3 L202.0,1609.9 L203.5,1607.9 L205.0,1605.5 L206.5,1601.7 L208.0,1596.5 L209.5,1590.1 L211.0,1582.1 L212.5,1571.8 L214.0,1561.7 L215.5,1552.7 L217.0,1547.1 L218.5,1548.7 L220.0,1563.1 L221.5,1580.1 L223.0,1593.7 L224.5,1602.9 L226.0,1607.8 L227.5,1610.7 L229.0,1611.9 L230.5,1612.5 L232.0,1613.1 L233.5,1613.5 L235.0,1613.6 L236.5,1614.0 L238.0,1613.9 L239.5,1613.6 L241.0,1613.1 L242.5,1611.9 L244.0,1610.8 L245.5,1608.9 L247.0,1606.6 L248.5,1603.1 L250.0,1599.9 L251.5,1595.5 L253.0,1592.4 L254.5,1590.8 L256.0,1592.5 L257.5,1598.1 L259.0,1604.6 L260.5,1609.3 L262.0,1612.0 L263.5,1613.8 L265.0,1614.9 L266.5,1615.5 L268.0,1616.2 L269.5,1616.8 L271.0,1617.0 L272.5,1617.0 L274.0,1616.8 L275.5,1617.0 L277.0,1616.8 L278.5,1616.5 L280.0,1616.5 L281.5,1616.5 L283.0,1616.2 L284.5,1616.4 L286.0,1616.5 L287.5,1616.4 L289.0,1616.6 L290.5,1617.0 L292.0,1617.1 L293.5,1617.4 L295.0,1617.2 L296.5,1617.3 L298.0,1617.1 L299.5,1616.8 L301.0,1616.6 L302.5,1616.7 L304.0,1616.4 L305.5,1616.1 L307.0,1616.2 L308.5,1616.3 L310.0,1616.5 L311.5,1616.8 L313.0,1617.0 L314.5,1617.0 L316.0,1617.1 L317.5,1616.7 L319.0,1616.4 L320.5,1616.3 L322.0,1615.8 L323.5,1615.2 L325.0,1615.2 L326.5,1615.0 L328.0,1614.8 L329.5,1614.7 L331.0,1614.7 L332.5,1614.2 L334.0,1613.8 L335.5,1613.0 L337.0,1612.0 L338.5,1610.3 L340.0,1609.1 L341.5,1607.0 L343.0,1604.4 L344.5,1600.7 L346.0,1596.5 L347.5,1590.8 L349.0,1584.4 L350.5,1577.9 L352.0,1571.9 L353.5,1566.5 L355.0,1563.6 L356.5,1564.9 L358.0,1572.7 L359.5,1583.6 L361.0,1593.9 L362.5,1601.6 L364.0,1606.6 L365.5,1609.9 L367.0,1611.9 L368.5,1613.2 L370.0,1614.2 L371.5,1615.0 L373.0,1615.4 L374.5,1615.4 L376.0,1615.6 L377.5,1615.6 L379.0,1615.7 L380.5,1615.6 L382.0,1616.0 L383.5,1616.5 L385.0,1616.5 L386.5,1616.7 L388.0,1617.0 L389.5,1617.2 L391.0,1616.9 L392.5,1617.0 L394.0,1617.2 L395.5,1617.5 L397.0,1617.3 L398.5,1617.6 L400.0,1617.8 L401.5,1617.7 L403.0,1617.8 L404.5,1618.2 L406.0,1617.8 L407.5,1617.6 L409.0,1617.5 L410.5,1617.2 L412.0,1616.5 L413.5,1616.8 L415.0,1616.7 L416.5,1616.6 L418.0,1616.5 L419.5,1617.0 L421.0,1616.9 L422.5,1616.8 L424.0,1616.8 L425.5,1616.6 L427.0,1616.6 L428.5,1616.6 L430.0,1617.0 L431.5,1617.0 L433.0,1617.6 L434.5,1617.8 L436.0,1618.0 L437.5,1617.9 L439.0,1617.9 L440.5,1617.4 L442.0,1617.1 L443.5,1616.9 L445.0,1616.2 L446.5,1616.2 L448.0,1616.2 L449.5,1616.1 L451.0,1615.9 L452.5,1616.4 L454.0,1616.5 L455.5,1616.5 L457.0,1616.3 L458.5,1616.7 L460.0,1616.6 L461.5,1616.9 L463.0,1616.8 L464.5,1617.1 L466.0,1616.7 L467.5,1616.7 L469.0,1616.3 L470.5,1616.3 L472.0,1616.1 L473.5,1616.0 L475.0,1615.3 L476.5,1614.6 L478.0,1613.7 L479.5,1612.4 L481.0,1610.5 L482.5,1608.8 L484.0,1605.9 L485.5,1603.6 L487.0,1601.3 L488.5,1601.4 L490.0,1604.4 L491.5,1608.7 L493.0,1611.0 L494.5,1612.5 L496.0,1613.1 L497.5,1613.4 L499.0,1613.0 L500.5,1612.5 L502.0,1611.7 L503.5,1610.5 L505.0,1609.5 L506.5,1608.5 L508.0,1607.5 L509.5,1606.1 L511.0,1605.0 L512.5,1603.8 L514.0,1603.5 L515.5,1604.2 L517.0,1605.0 L518.5,1605.9 L520.0,1606.5 L521.5,1605.6 L523.0,1604.4 L524.5,1603.1 L526.0,1600.3 L527.5,1596.4 L529.0,1591.5 L530.5,1584.0 L532.0,1573.4 L533.5,1559.1 L535.0,1540.5 L536.5,1517.5 L538.0,1491.4 L539.5,1464.2 L541.0,1440.9 L542.5,1428.2 L544.0,1437.6 L545.5,1477.5 L547.0,1521.9 L548.5,1556.9 L550.0,1579.5 L551.5,1592.0 L553.0,1599.3 L554.5,1603.8 L556.0,1606.6 L557.5,1608.7 L559.0,1610.8 L560.5,1612.0 L562.0,1612.9 L563.5,1613.2 L565.0,1613.4 L566.5,1613.3 L568.0,1613.4 L569.5,1613.4 L571.0,1614.0 L572.5,1614.6 L574.0,1615.1 L575.5,1615.5 L577.0,1615.8 L578.5,1616.0 L580.0,1615.8 L581.5,1615.9 L583.0,1615.9 L584.5,1615.7 L586.0,1615.4 L587.5,1615.2 L589.0,1615.2 L590.5,1615.1 L592.0,1615.3 L593.5,1615.3 L595.0,1615.4 L596.5,1615.1 L598.0,1614.5 L599.5,1614.0 L601.0,1613.8 L602.5,1613.3 L604.0,1612.4 L605.5,1611.6 L607.0,1610.4 L608.5,1608.4 L610.0,1606.0 L611.5,1603.0 L613.0,1599.5 L614.5,1595.7 L616.0,1592.4 L617.5,1590.1 L619.0,1591.0 L620.5,1595.8 L622.0,1601.1 L623.5,1605.3 L625.0,1608.2 L626.5,1609.2 L628.0,1609.8 L629.5,1609.6 L631.0,1608.6 L632.5,1606.6 L634.0,1604.8 L635.5,1602.0 L637.0,1598.9 L638.5,1595.5 L640.0,1592.0 L641.5,1588.0 L643.0,1584.1 L644.5,1580.9 L646.0,1579.2 L647.5,1579.1 L649.0,1582.5 L650.5,1588.9 L652.0,1595.9 L653.5,1601.8 L655.0,1606.5 L656.5,1609.5 L658.0,1611.9 L659.5,1613.3 L661.0,1613.9 L662.5,1614.5 L664.0,1615.1 L665.5,1615.1 L667.0,1615.0 L668.5,1615.1 L670.0,1615.1 L671.5,1615.4 L673.0,1615.5 L674.5,1615.8 L676.0,1615.5 L677.5,1615.7 L679.0,1615.7 L680.5,1615.5 L682.0,1615.0 L683.5,1615.0 L685.0,1614.1 L686.5,1613.4 L688.0,1612.5 L689.5,1611.4 L691.0,1610.3 L692.5,1609.2 L694.0,1607.8 L695.5,1606.9 L697.0,1606.5 L698.5,1606.1 L700.0,1607.3 L701.5,1609.4 L703.0,1611.2 L704.5,1612.6 L706.0,1613.7 L707.5,1614.2 L709.0,1614.0 L710.5,1613.6 L712.0,1612.7 L713.5,1611.7 L715.0,1610.3 L716.5,1608.8 L718.0,1606.7 L719.5,1604.8 L721.0,1602.9 L722.5,1602.4 L724.0,1603.0 L725.5,1606.4 L727.0,1609.7 L728.5,1612.4 L730.0,1614.1 L731.5,1615.0 L733.0,1615.6 L734.5,1615.8 L736.0,1616.0 L737.5,1615.9 L739.0,1616.0 L740.5,1615.6 L742.0,1615.9 L743.5,1615.8 L745.0,1615.6 L746.5,1615.3 L748.0,1615.3 L749.5,1614.7 L751.0,1614.8 L752.5,1614.8 L754.0,1615.1 L755.5,1614.9 L757.0,1615.1 L758.5,1614.9 L760.0,1614.4 L761.5,1613.8 L763.0,1613.3 L764.5,1612.8 L766.0,1612.2 L767.5,1611.7 L769.0,1610.8 L770.5,1609.7 L772.0,1608.1 L773.5,1605.7 L775.0,1603.1 L776.5,1600.0 L778.0,1595.8 L779.5,1590.2 L781.0,1583.9 L782.5,1576.0 L784.0,1567.5 L785.5,1559.7 L787.0,1553.5 L788.5,1550.0 L790.0,1552.6 L791.5,1563.0 L793.0,1575.9 L794.5,1587.4 L796.0,1596.1 L797.5,1601.5 L799.0,1604.7 L800.5,1605.9 L802.0,1606.3 L803.5,1605.5 L805.0,1604.3 L806.5,1602.8 L808.0,1601.1 L809.5,1598.8 L811.0,1597.9 L812.5,1597.3 L814.0,1599.2 L815.5,1601.6 L817.0,1603.9 L818.5,1604.5 L820.0,1604.6 L821.5,1603.6 L823.0,1601.9 L824.5,1599.6 L826.0,1596.1 L827.5,1591.5 L829.0,1586.4 L830.5,1580.8 L832.0,1574.1 L833.5,1567.7 L835.0,1561.4 L836.5,1556.0 L838.0,1552.2 L839.5,1552.8 L841.0,1557.1 L842.5,1561.8 L844.0,1563.9 L845.5,1563.1 L847.0,1559.6 L848.5,1554.4 L850.0,1548.7 L851.5,1544.7 L853.0,1543.4 L854.5,1548.9 L856.0,1561.4 L857.5,1574.5 L859.0,1584.8 L860.5,1591.8 L862.0,1595.7 L863.5,1597.3 L865.0,1598.1 L866.5,1598.8 L868.0,1600.6 L869.5,1603.8 L871.0,1607.5 L872.5,1610.1 L874.0,1612.0 L875.5,1612.7 L877.0,1613.9 L878.5,1614.3 L880.0,1614.7 L881.5,1614.6 L883.0,1614.8 L884.5,1614.6 L886.0,1614.4 L887.5,1614.1 L889.0,1613.9 L890.5,1613.6 L892.0,1613.7 L893.5,1613.5 L895.0,1613.1 L896.5,1612.8 L898.0,1612.6 L899.5,1611.6 L901.0,1610.1 L902.5,1608.7 L904.0,1606.6 L905.5,1603.9 L907.0,1600.5 L908.5,1596.5 L910.0,1592.3 L911.5,1587.8 L913.0,1583.3 L914.5,1580.3 L916.0,1579.5 L917.5,1582.1 L919.0,1588.7 L920.5,1596.5 L922.0,1603.0 L923.5,1607.7 L925.0,1610.7 L926.5,1612.8 L928.0,1613.7 L929.5,1614.3 L931.0,1614.6 L932.5,1615.5 L934.0,1615.8 L935.5,1616.3 L937.0,1616.4 L938.5,1616.8 L940.0,1616.4 L941.5,1616.3 L943.0,1616.1 L944.5,1616.1 L946.0,1615.8 L947.5,1615.9 L949.0,1616.0 L950.5,1616.4 L952.0,1615.9 L953.5,1615.8 L955.0,1615.9 L956.5,1616.0 L958.0,1615.8 L959.5,1616.0 L961.0,1616.0 L962.5,1615.8 L964.0,1615.3 L965.5,1614.9 L967.0,1614.7 L968.5,1614.3 L970.0,1613.7 L971.5,1613.1 L973.0,1612.3 L974.5,1611.1 L976.0,1609.7 L977.5,1608.0 L979.0,1605.7 L980.5,1602.9 L982.0,1599.2 L983.5,1594.9 L985.0,1589.5 L986.5,1584.1 L988.0,1579.3 L989.5,1575.8 L991.0,1574.6 L992.5,1578.1 L994.0,1586.1 L995.5,1594.3 L997.0,1601.0 L998.5,1605.9 L1000.0,1609.2 L1001.5,1610.8 L1003.0,1612.2 L1004.5,1612.9 L1006.0,1613.1 L1007.5,1613.1 L1009.0,1612.4 L1010.5,1611.5 L1012.0,1610.4 L1013.5,1609.4 L1015.0,1608.2 L1016.5,1607.3 L1018.0,1606.5 L1019.5,1605.9 L1021.0,1606.2 L1022.5,1607.8 L1024.0,1609.7 L1025.5,1611.3 L1027.0,1612.1 L1028.5,1612.3 L1030.0,1612.1 L1031.5,1611.8 L1033.0,1610.9 L1034.5,1610.4 L1036.0,1610.4 L1037.5,1610.6 L1039.0,1611.4 L1040.5,1612.7 L1042.0,1614.0 L1043.5,1614.7 L1045.0,1615.2 L1046.5,1615.6 L1048.0,1615.9 L1049.5,1615.7 L1051.0,1615.5 L1052.5,1615.2 L1054.0,1615.3 L1055.5,1615.1 L1057.0,1614.8 L1058.5,1614.6 L1060.0,1614.3 L1061.5,1613.8 L1063.0,1613.5 L1064.5,1613.2 L1066.0,1612.4 L1067.5,1612.3 L1069.0,1611.3 L1070.5,1610.0 L1072.0,1608.7 L1073.5,1607.1 L1075.0,1604.2 L1076.5,1600.9 L1078.0,1597.0 L1079.5,1591.8 L1081.0,1585.9 L1082.5,1580.1 L1084.0,1574.8 L1085.5,1570.6 L1087.0,1569.3 L1088.5,1573.3 L1090.0,1582.2 L1091.5,1591.6 L1093.0,1599.6 L1094.5,1605.3 L1096.0,1608.8 L1097.5,1611.0 L1099.0,1612.3 L1100.5,1613.0 L1102.0,1613.3 L1103.5,1613.3 L1105.0,1613.4 L1106.5,1613.3 L1108.0,1612.5 L1109.5,1611.8 L1111.0,1610.8 L1112.5,1609.2 L1114.0,1606.6 L1115.5,1604.1 L1117.0,1600.7 L1118.5,1597.6 L1120.0,1595.0 L1121.5,1593.7 L1123.0,1595.3 L1124.5,1600.6 L1126.0,1606.1 L1127.5,1610.3 L1129.0,1613.3 L1130.5,1614.7 L1132.0,1615.7 L1133.5,1616.2 L1135.0,1616.3 L1136.5,1616.7 L1138.0,1616.7 L1139.5,1616.4 L1141.0,1616.5 L1142.5,1616.6 L1144.0,1616.5 L1145.5,1616.8 L1147.0,1617.2 L1148.5,1617.4 L1150.0,1617.6 L1151.5,1617.3 L1153.0,1617.1 L1154.5,1616.9 L1156.0,1616.8 L1157.5,1616.8 L1159.0,1617.0 L1160.5,1617.1 L1162.0,1617.1 L1163.5,1617.1 L1165.0,1616.8 L1166.5,1616.9 L1168.0,1617.1 L1169.5,1617.3 L1171.0,1617.0 L1172.5,1617.1 L1174.0,1617.0 L1175.5,1616.7 L1177.0,1616.5 L1178.5,1616.3 L1180.0,1616.3 L1181.5,1615.8 L1183.0,1615.4 L1184.5,1614.9 L1186.0,1614.6 L1187.5,1613.6 L1189.0,1613.0 L1190.5,1612.1 L1192.0,1610.4 L1193.5,1608.4 L1195.0,1606.3 L1196.5,1604.1 L1198.0,1601.2 L1199.5,1599.2 L1201.0,1597.6 L1202.5,1597.2 L1204.0,1599.7 L1205.5,1603.9 L1207.0,1607.9 L1208.5,1611.3 L1210.0,1613.4 L1211.5,1614.6 L1213.0,1615.3 L1214.5,1615.6 L1216.0,1615.5 L1217.5,1615.9 L1219.0,1615.7 L1220.5,1615.8 L1222.0,1615.9 L1223.5,1616.4 L1225.0,1616.9 L1226.5,1617.0 L1228.0,1617.3 L1229.5,1617.4 L1231.0,1617.2 L1232.5,1616.8 L1234.0,1617.0 L1235.5,1616.9 L1237.0,1616.8 L1238.5,1617.0 L1240.0,1616.8 L1241.5,1616.9 L1243.0,1616.6 L1244.5,1616.9 L1246.0,1616.6 L1247.5,1616.7 L1249.0,1616.8 L1250.5,1616.7 L1252.0,1616.2 L1253.5,1616.0 L1255.0,1615.7 L1256.5,1615.0 L1258.0,1614.6 L1259.5,1614.1 L1261.0,1613.0 L1262.5,1611.9 L1264.0,1610.9 L1265.5,1610.0 L1267.0,1608.9 L1268.5,1608.5 L1270.0,1608.4 L1271.5,1608.7 L1273.0,1609.9 L1274.5,1611.7 L1276.0,1613.0 L1277.5,1614.1 L1279.0,1615.0 L1280.5,1615.4 L1282.0,1615.7 L1283.5,1616.0 L1285.0,1616.0 L1286.5,1616.2 L1288.0,1616.3 L1289.5,1616.5 L1291.0,1617.0 L1292.5,1617.1 L1294.0,1617.3 L1295.5,1617.2 L1297.0,1616.9 L1298.5,1615.9 L1300.0,1615.8 L1301.5,1615.5 L1303.0,1615.3 L1304.5,1615.3 L1306.0,1615.6 L1307.5,1615.5 L1309.0,1615.1 L1310.5,1614.7 L1312.0,1614.1 L1313.5,1613.4 L1315.0,1612.2 L1316.5,1611.0 L1318.0,1609.3 L1319.5,1607.6 L1321.0,1605.1 L1322.5,1602.9 L1324.0,1600.2 L1325.5,1597.7 L1327.0,1595.1 L1328.5,1593.2 L1330.0,1591.8 L1331.5,1591.7 L1333.0,1594.2 L1334.5,1598.2 L1336.0,1602.9 L1337.5,1606.8 L1339.0,1609.8 L1340.5,1612.0 L1342.0,1613.7 L1343.5,1614.6 L1345.0,1615.3 L1346.5,1615.7 L1348.0,1616.0 L1349.5,1616.0 L1351.0,1616.0 L1352.5,1616.1 L1354.0,1615.9 L1355.5,1615.7 L1357.0,1615.4 L1358.5,1615.0 L1360.0,1614.6 L1361.5,1614.3 L1363.0,1613.4 L1364.5,1612.7 L1366.0,1611.7 L1367.5,1610.4 L1369.0,1609.4 L1370.5,1608.3 L1372.0,1607.7 L1373.5,1608.1 L1375.0,1609.5 L1376.5,1611.4 L1378.0,1613.4 L1379.5,1614.9 L1381.0,1615.8 L1382.5,1616.3 L1384.0,1616.6 L1385.5,1617.0 L1387.0,1617.0 L1388.5,1617.4 L1390.0,1617.6 L1391.5,1617.7 L1393.0,1617.9 L1394.5,1618.0 L1396.0,1617.8 L1397.5,1617.8 L1399.0,1617.8 L1400.5,1617.6 L1402.0,1617.5 L1403.5,1617.7 L1405.0,1617.6 L1406.5,1617.6 L1408.0,1617.5 L1409.5,1617.8 L1411.0,1617.7 L1412.5,1617.5 L1414.0,1617.2 L1415.5,1617.2 L1417.0,1617.2 L1418.5,1617.2 L1420.0,1617.3 L1421.5,1617.8 L1423.0,1618.1 L1424.5,1617.7 L1426.0,1617.7 L1427.5,1617.6 L1429.0,1617.1 L1430.5,1616.8 L1432.0,1617.1 L1433.5,1616.8 L1435.0,1617.1 L1436.5,1617.0 L1438.0,1616.8 L1439.5,1616.6 L1441.0,1616.6 L1442.5,1616.2 L1444.0,1616.7 L1445.5,1616.8 L1447.0,1616.3 L1448.5,1616.0 L1450.0,1615.4 L1451.5,1614.4 L1453.0,1613.6 L1454.5,1612.6 L1456.0,1611.7 L1457.5,1610.6 L1459.0,1609.9 L1460.5,1608.8 L1462.0,1608.0 L1463.5,1607.6 L1465.0,1608.2 L1466.5,1609.0 L1468.0,1610.8 L1469.5,1612.6 L1471.0,1613.7 L1472.5,1614.6 L1474.0,1615.5 L1475.5,1616.1 L1477.0,1616.4 L1478.5,1616.9 L1480.0,1617.0 L1481.5,1617.4 L1483.0,1617.4 L1484.5,1617.6 L1486.0,1617.6 L1487.5,1617.6 L1489.0,1617.5 L1490.5,1617.7 L1492.0,1618.0 L1493.5,1617.8 L1495.0,1617.8 L1496.5,1617.6 L1498.0,1617.4 L1499.5,1616.9 L1501.0,1616.7 L1502.5,1616.7 L1504.0,1616.5 L1505.5,1616.3 L1507.0,1616.4 L1508.5,1616.1 L1510.0,1615.7 L1511.5,1615.5 L1513.0,1614.9 L1514.5,1614.2 L1516.0,1614.3 L1517.5,1614.0 L1519.0,1613.7 L1520.5,1614.6 L1522.0,1615.1 L1523.5,1615.9 L1525.0,1616.6 L1526.5,1617.0 L1528.0,1616.9 L1529.5,1617.1 L1531.0,1616.9 L1532.5,1617.0 L1534.0,1617.2 L1535.5,1617.0 L1537.0,1617.3 L1538.5,1617.4 L1540.0,1617.3 L1541.5,1617.2 L1543.0,1617.2 L1544.5,1617.4 L1546.0,1617.3 L1547.5,1617.2 L1549.0,1617.4 L1550.5,1617.9 L1552.0,1617.5 L1553.5,1617.6 L1555.0,1618.0 L1556.5,1618.1 L1558.0,1618.0 L1559.5,1618.0 L1561.0,1617.8 L1562.5,1617.8 L1564.0,1617.8 L1565.5,1617.5 L1567.0,1618.1 L1568.5,1618.0 L1570.0,1617.7 L1571.5,1617.3 L1573.0,1617.4 L1574.5,1617.1 L1576.0,1617.1 L1577.5,1616.8 L1579.0,1616.8 L1580.5,1616.7 L1582.0,1616.5 L1583.5,1616.4 L1585.0,1616.3 L1586.5,1616.1 L1588.0,1616.3 L1589.5,1616.3 L1591.0,1616.0 L1592.5,1616.0 L1594.0,1615.9 L1595.5,1615.5 L1597.0,1615.0 L1598.5,1614.9 L1600.0,1614.8 L1601.5,1614.4 L1603.0,1613.9 L1604.5,1614.1 L1606.0,1614.1 L1607.5,1614.1 L1609.0,1614.4 L1610.5,1614.9 L1612.0,1614.8 L1613.5,1614.8 L1615.0,1614.7 L1616.5,1614.6 L1618.0,1614.6 L1619.5,1615.0 L1621.0,1615.2 L1622.5,1615.6 L1624.0,1615.8 L1625.5,1615.8 L1627.0,1615.9 L1628.5,1616.3 L1630.0,1616.3 L1631.5,1616.5 L1633.0,1617.1 L1634.5,1617.2 L1636.0,1617.1 L1637.5,1617.4 L1639.0,1617.7 L1640.5,1617.8 L1642.0,1617.9 L1643.5,1617.9 L1645.0,1617.9 L1646.5,1618.1 L1648.0,1617.8 L1649.5,1617.6 L1651.0,1617.6 L1652.5,1617.2 L1654.0,1617.0 L1655.5,1617.0 L1657.0,1617.2 L1658.5,1617.5 L1660.0,1617.7 L1661.5,1618.0 L1663.0,1617.9 L1664.5,1617.9 L1666.0,1617.9 L1667.5,1617.8 L1669.0,1617.3 L1670.5,1617.3 L1672.0,1617.4 L1673.5,1617.0 L1675.0,1617.2 L1676.5,1617.6 L1678.0,1617.8 L1679.5,1617.7 L1681.0,1618.1 L1682.5,1618.3 L1684.0,1618.4 L1685.5,1618.4 L1687.0,1618.5 L1688.5,1618.1 L1690.0,1618.1 L1691.5,1618.0 L1693.0,1618.0 L1694.5,1617.8 L1696.0,1617.9 L1697.5,1617.6 L1699.0,1617.5 L1700.5,1617.3 L1702.0,1617.2 L1703.5,1617.2 L1705.0,1617.2 L1706.5,1616.9 L1708.0,1617.1 L1709.5,1617.5 L1711.0,1617.4 L1712.5,1617.6 L1714.0,1617.7 L1715.5,1617.7 L1717.0,1617.3 L1718.5,1616.9 L1720.0,1617.0 L1721.5,1617.2 L1723.0,1617.2 L1724.5,1617.7 L1726.0,1617.7 L1727.5,1617.2 L1729.0,1616.8 L1730.5,1616.8 L1732.0,1616.3 L1733.5,1616.3 L1735.0,1616.2 L1736.5,1616.1 L1738.0,1615.3 L1739.5,1614.9 L1741.0,1614.6 L1742.5,1614.3 L1744.0,1614.4 L1745.5,1614.8 L1747.0,1614.7 L1748.5,1614.7 L1750.0,1615.0 L1751.5,1614.9 L1753.0,1615.2 L1754.5,1615.5 L1756.0,1615.7 L1757.5,1615.7 L1759.0,1615.4 L1760.5,1614.5 L1762.0,1614.0 L1763.5,1613.4 L1765.0,1612.5 L1766.5,1611.8 L1768.0,1611.3 L1769.5,1610.9 L1771.0,1610.0 L1772.5,1610.6 L1774.0,1612.1 L1775.5,1613.7 L1777.0,1614.9 L1778.5,1615.9 L1780.0,1616.4 L1781.5,1616.8 L1783.0,1616.9 L1784.5,1617.0 L1786.0,1617.3 L1787.5,1617.6 L1789.0,1617.6 L1790.5,1617.8 L1792.0,1618.0 L1793.5,1617.8 L1795.0,1617.5 L1796.5,1617.6 L1798.0,1617.9 L1799.5,1618.0 L1801.0,1618.4 L1802.5,1618.6 L1804.0,1618.3 L1805.5,1618.0 L1807.0,1617.8 L1808.5,1617.7 L1810.0,1617.6 L1811.5,1617.6 L1813.0,1617.8 L1814.5,1618.1 L1816.0,1618.0 L1817.5,1618.1 L1819.0,1618.2 L1820.5,1617.9 L1822.0,1617.4 L1823.5,1617.2 L1825.0,1617.2 L1826.5,1617.1 L1828.0,1617.2 L1829.5,1617.1 L1831.0,1617.4 L1832.5,1618.0 L1834.0,1618.3 L1835.5,1618.6 L1837.0,1618.9 L1838.5,1618.6 L1840.0,1618.3 L1841.5,1618.0 L1843.0,1617.5 L1844.5,1617.7 L1846.0,1617.4 L1847.5,1617.3 L1849.0,1617.4 L1850.5,1617.6 L1852.0,1617.8 L1853.5,1617.9 L1855.0,1618.0 L1856.5,1618.1 L1858.0,1618.3 L1859.5,1618.1 L1861.0,1618.2 L1862.5,1618.0 L1864.0,1618.0 L1865.5,1617.8 L1867.0,1617.6 L1868.5,1617.6 L1870.0,1617.7 L1871.5,1617.6 L1873.0,1617.4 L1874.5,1617.5 L1876.0,1617.4 L1877.5,1617.2 L1879.0,1617.2 L1880.5,1617.3 L1882.0,1617.0 L1883.5,1616.7 L1885.0,1616.7 L1886.5,1616.5 L1888.0,1616.2 L1889.5,1616.2 L1891.0,1616.1 L1892.5,1615.8 L1894.0,1615.3 L1895.5,1614.9 L1897.0,1614.5 L1898.5,1614.5 L1900.0,1614.3 L1901.5,1614.0 L1903.0,1613.6 L1904.5,1613.4 L1906.0,1613.0 L1907.5,1612.4 L1909.0,1612.2 L1910.5,1612.1 L1912.0,1611.8 L1913.5,1611.6 L1915.0,1612.0 L1916.5,1612.6 L1918.0,1612.8 L1919.5,1613.6 L1921.0,1613.9 L1922.5,1614.2 L1924.0,1614.8 L1925.5,1615.4 L1927.0,1615.9 L1928.5,1616.6 L1930.0,1617.3 L1931.5,1617.3 L1933.0,1617.3 L1934.5,1617.1 L1936.0,1617.1 L1937.5,1616.8 L1939.0,1617.2 L1940.5,1617.3 L1942.0,1617.7 L1943.5,1617.9 L1945.0,1618.1 L1946.5,1617.9 L1948.0,1617.7 L1949.5,1617.6 L1951.0,1617.3 L1952.5,1617.3 L1954.0,1617.4 L1955.5,1617.4 L1957.0,1617.4 L1958.5,1617.3 L1960.0,1617.2 L1961.5,1617.0 L1963.0,1616.9 L1964.5,1616.6 L1966.0,1616.7 L1967.5,1616.7 L1969.0,1616.3 L1970.5,1615.9 L1972.0,1615.5 L1973.5,1614.6 L1975.0,1613.9 L1976.5,1613.8 L1978.0,1614.5 L1979.5,1615.2 L1981.0,1616.2 L1982.5,1617.1 L1984.0,1617.7 L1985.5,1617.9 L1987.0,1618.1 L1988.5,1618.3 L1990.0,1618.1 L1991.5,1618.0 L1993.0,1618.2 L1994.5,1618.1 L1996.0,1617.8 L1997.5,1618.0 L1999.0,1617.8 L2000.5,1617.7 L2002.0,1618.0 L2003.5,1618.2 L2005.0,1618.0 L2006.5,1618.4 L2008.0,1618.7 L2009.5,1618.5 L2011.0,1618.2 L2012.5,1618.2 L2014.0,1617.9 L2015.5,1617.6 L2017.0,1617.7 L2018.5,1618.0 L2020.0,1617.9 L2021.5,1618.4 L2023.0,1617.9 L2024.5,1617.8 L2026.0,1617.8 L2027.5,1618.1 L2029.0,1617.7 L2030.5,1617.7 L2032.0,1617.9 L2033.5,1617.7 L2035.0,1617.6 L2036.5,1617.7 L2038.0,1617.9 L2039.5,1618.1 L2041.0,1618.1 L2042.5,1618.1 L2044.0,1617.9 L2045.5,1618.3 L2047.0,1617.9 L2048.5,1618.0 L2050.0,1618.1 L2051.5,1618.3 L2053.0,1618.1 L2054.5,1618.1 L2056.0,1618.0 L2057.5,1617.8 L2059.0,1617.9 L2060.5,1617.5 L2062.0,1617.6 L2063.5,1617.6 L2065.0,1617.7 L2066.5,1617.7 L2068.0,1617.9 L2069.5,1618.2 L2071.0,1618.3 L2072.5,1618.2 L2074.0,1618.3 L2075.5,1618.2 L2077.0,1618.0 L2078.5,1618.0 L2080.0,1618.2 L2081.5,1618.0 L2083.0,1617.7 L2084.5,1617.5 L2086.0,1617.3 L2087.5,1617.1 L2089.0,1617.3 L2090.5,1617.7 L2092.0,1617.7 L2093.5,1617.5 L2095.0,1617.5 L2096.5,1617.2 L2098.0,1617.1 L2099.5,1617.3 L2101.0,1617.8 L2102.5,1617.6 L2104.0,1617.6 L2105.5,1618.0 L2107.0,1618.2 L2108.5,1617.9 L2110.0,1618.2 L2111.5,1618.3 L2113.0,1617.9 L2114.5,1617.5 L2116.0,1617.8 L2117.5,1617.6 L2119.0,1617.5 L2120.5,1617.7 L2122.0,1618.1 L2123.5,1617.8 L2125.0,1618.0 L2126.5,1617.8 L2128.0,1617.8 L2129.5,1617.5 L2131.0,1617.8 L2132.5,1617.8 L2134.0,1618.2 L2135.5,1618.2 L2137.0,1618.5 L2138.5,1618.1 L2140.0,1618.0 L2141.5,1618.2 L2143.0,1618.1 L2144.5,1618.1 L2146.0,1618.1 L2147.5,1618.2 L2149.0,1618.0" fill="none" stroke="#000" stroke-width="9.5" stroke-linejoin="round" stroke-linecap="butt"/>
</g>
<rect x="25" y="1726" width="2113" height="9" fill="#000"/>
<rect x="72.5" y="1730" width="9" height="17" fill="#000"/>
<rect x="329.0" y="1730" width="10" height="34" fill="#000"/>
<rect x="586.5" y="1730" width="9" height="17" fill="#000"/>
<rect x="843.0" y="1730" width="10" height="34" fill="#000"/>
<rect x="1100.5" y="1730" width="9" height="17" fill="#000"/>
<rect x="1357.0" y="1730" width="10" height="34" fill="#000"/>
<rect x="1614.5" y="1730" width="9" height="17" fill="#000"/>
<rect x="1871.0" y="1730" width="10" height="34" fill="#000"/>
<rect x="2128.5" y="1730" width="9" height="17" fill="#000"/>
<text x="334.0" y="1843" font-size="72" text-anchor="middle" font-family="'Liberation Serif', serif" font-weight="bold">10</text>
<text x="848.0" y="1843" font-size="72" text-anchor="middle" font-family="'Liberation Serif', serif" font-weight="bold">20</text>
<text x="1362.0" y="1843" font-size="72" text-anchor="middle" font-family="'Liberation Serif', serif" font-weight="bold">30</text>
<text x="1876.0" y="1843" font-size="72" text-anchor="middle" font-family="'Liberation Serif', serif" font-weight="bold">40</text>
<text x="834" y="2022" font-size="88" font-family="'Liberation Serif', serif" font-weight="bold" textLength="417" lengthAdjust="spacing">2 Theta (<tspan font-size="88" dy="-21">o</tspan><tspan dy="21">)</tspan></text>
<path d="M229,1422 L240.5,1454 L217.5,1454 Z" fill="#000"/><rect x="227.5" y="1453" width="3" height="68" fill="#000"/>
<path d="M523.7,1268 L535.2,1300 L512.2,1300 Z" fill="#000"/><rect x="522.2" y="1299" width="3" height="67.5" fill="#000"/>
<path d="M896,1250.5 L907.5,1282 L884.5,1282 Z" fill="#000"/><rect x="894.5" y="1281" width="3" height="67" fill="#000"/>
<text x="254.5" y="1522" font-size="61" font-family="'Liberation Serif', serif" font-weight="bold">7.96</text><text transform="translate(359.07,1498.49) scale(0.967,1.012)" font-size="50" font-family="'Liberation Serif', serif" font-weight="bold">o</text>
<text x="542.5" y="1367" font-size="61" font-family="'Liberation Serif', serif" font-weight="bold">13.68</text><text transform="translate(679.09,1347.50) scale(0.957,1.004)" font-size="50" font-family="'Liberation Serif', serif" font-weight="bold">o</text>
<text x="836.5" y="1414" font-size="61" font-family="'Liberation Serif', serif" font-weight="bold">20.93</text><text transform="translate(972.76,1390.50) scale(0.971,1.004)" font-size="50" font-family="'Liberation Serif', serif" font-weight="bold">o</text>
<text x="2187" y="586" font-size="80" text-anchor="middle" font-family="'Liberation Sans', sans-serif">a</text>
<text x="2186" y="816" font-size="80" text-anchor="middle" font-family="'Liberation Sans', sans-serif">b</text>
<text x="2189" y="916" font-size="80" text-anchor="middle" font-family="'Liberation Sans', sans-serif">c</text>
<text x="2185" y="1032" font-size="80" text-anchor="middle" font-family="'Liberation Sans', sans-serif">d</text>
<text x="2187" y="1150" font-size="80" text-anchor="middle" font-family="'Liberation Sans', sans-serif">e</text>
<text transform="translate(2183,1292) scale(1.3,1.03)" font-size="80" text-anchor="middle" font-family="'Liberation Sans', sans-serif">f</text>
<text transform="translate(2184,1407) scale(1.06,0.93)" font-size="80" text-anchor="middle" font-family="'Liberation Sans', sans-serif">g</text>
<text x="2185" y="1533" font-size="80" text-anchor="middle" font-family="'Liberation Sans', sans-serif">h</text>
<text x="2183.5" y="1646" font-size="80" text-anchor="middle" font-family="'Liberation Sans', sans-serif">i</text>
</svg>
</body></html>
